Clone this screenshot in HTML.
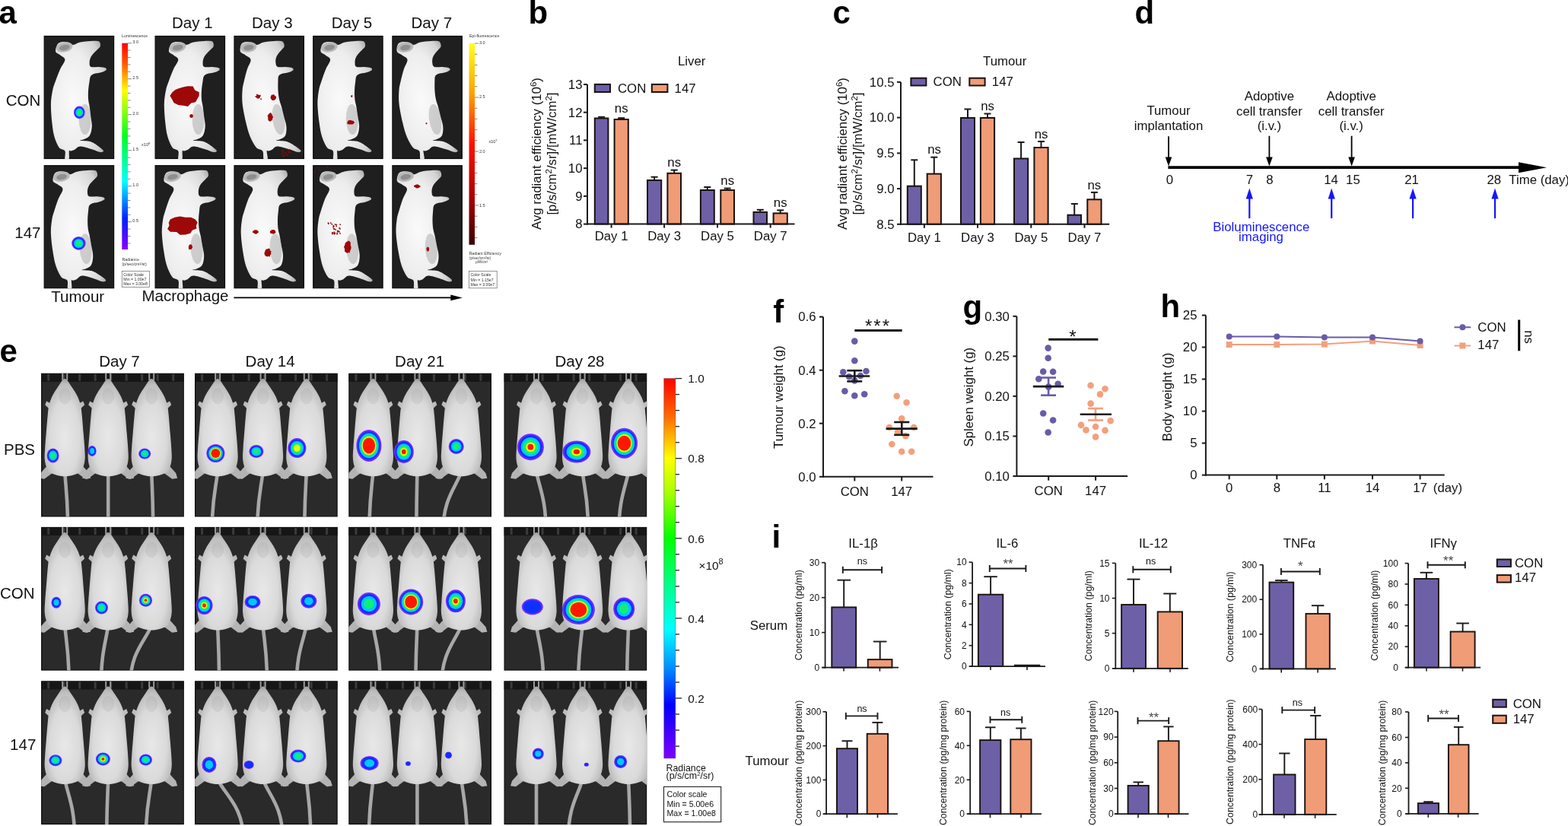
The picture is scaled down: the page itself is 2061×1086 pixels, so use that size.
<!DOCTYPE html>
<html><head><meta charset="utf-8"><title>Figure</title>
<style>html,body{margin:0;padding:0;background:#fff;} svg{display:block;} text{font-family:'Liberation Sans', Arial, Helvetica, sans-serif;}</style>
</head><body>
<svg width="2061" height="1086" viewBox="0 0 2061 1086">
<defs>
<radialGradient id="mg" cx="0.4" cy="0.5" r="0.68">
  <stop offset="0" stop-color="#fafafa"/><stop offset="0.6" stop-color="#ededed"/>
  <stop offset="0.88" stop-color="#d4d4d4"/><stop offset="1" stop-color="#b0b0b0"/>
</radialGradient>
<radialGradient id="lg" cx="0.5" cy="0.6" r="0.62">
  <stop offset="0" stop-color="#e8e8e8"/><stop offset="0.6" stop-color="#dadada"/>
  <stop offset="0.88" stop-color="#bdbdbd"/><stop offset="1" stop-color="#959595"/>
</radialGradient>
<linearGradient id="cbL" x1="0" y1="0" x2="0" y2="1">
  <stop offset="0" stop-color="#ff0000"/><stop offset="0.1" stop-color="#ff5a00"/><stop offset="0.23" stop-color="#ffff00"/>
  <stop offset="0.45" stop-color="#00ff20"/><stop offset="0.67" stop-color="#00ffff"/><stop offset="0.85" stop-color="#0020ff"/>
  <stop offset="1" stop-color="#8a00ff"/>
</linearGradient>
<linearGradient id="cbR" x1="0" y1="0" x2="0" y2="1">
  <stop offset="0" stop-color="#ffff20"/><stop offset="0.25" stop-color="#ffa000"/><stop offset="0.5" stop-color="#ff1000"/>
  <stop offset="0.75" stop-color="#b00000"/><stop offset="1" stop-color="#3a0000"/>
</linearGradient>
<linearGradient id="cbE" x1="0" y1="0" x2="0" y2="1">
  <stop offset="0" stop-color="#ff0000"/><stop offset="0.1" stop-color="#ff6a00"/><stop offset="0.21" stop-color="#ffff00"/>
  <stop offset="0.3" stop-color="#a8ff00"/><stop offset="0.42" stop-color="#00ff00"/><stop offset="0.55" stop-color="#00ff90"/>
  <stop offset="0.66" stop-color="#00ffff"/><stop offset="0.76" stop-color="#0090ff"/><stop offset="0.86" stop-color="#0000ff"/>
  <stop offset="1" stop-color="#8000ff"/>
</linearGradient>
</defs>
<rect width="2061" height="1086" fill="#fff"/><g fill="#111">
<text x="694.5" y="30.6" font-size="42" font-weight="bold" fill="#000">b</text>
<line x1="790.6" y1="155.5" x2="790.6" y2="153.8" stroke="#1a1a1a" stroke-width="2"/>
<line x1="786.1" y1="153.8" x2="795.1" y2="153.8" stroke="#1a1a1a" stroke-width="2"/>
<rect x="781.8" y="155.5" width="17.6" height="139.1" fill="#6D60A7" stroke="#1a1210" stroke-width="2"/>
<line x1="816.7" y1="157.0" x2="816.7" y2="155.2" stroke="#1a1a1a" stroke-width="2"/>
<line x1="812.2" y1="155.2" x2="821.2" y2="155.2" stroke="#1a1a1a" stroke-width="2"/>
<rect x="807.6" y="157.0" width="18.2" height="137.6" fill="#F09C76" stroke="#1a1210" stroke-width="2"/>
<line x1="860.1" y1="237.0" x2="860.1" y2="232.7" stroke="#1a1a1a" stroke-width="2"/>
<line x1="855.6" y1="232.7" x2="864.6" y2="232.7" stroke="#1a1a1a" stroke-width="2"/>
<rect x="851.0" y="237.0" width="18.2" height="57.6" fill="#6D60A7" stroke="#1a1210" stroke-width="2"/>
<line x1="886.2" y1="227.8" x2="886.2" y2="223.6" stroke="#1a1a1a" stroke-width="2"/>
<line x1="881.7" y1="223.6" x2="890.7" y2="223.6" stroke="#1a1a1a" stroke-width="2"/>
<rect x="877.4" y="227.8" width="17.6" height="66.8" fill="#F09C76" stroke="#1a1210" stroke-width="2"/>
<line x1="929.8" y1="250.0" x2="929.8" y2="246.0" stroke="#1a1a1a" stroke-width="2"/>
<line x1="925.3" y1="246.0" x2="934.3" y2="246.0" stroke="#1a1a1a" stroke-width="2"/>
<rect x="920.9" y="250.0" width="17.9" height="44.6" fill="#6D60A7" stroke="#1a1210" stroke-width="2"/>
<line x1="956.1" y1="250.0" x2="956.1" y2="247.6" stroke="#1a1a1a" stroke-width="2"/>
<line x1="951.6" y1="247.6" x2="960.6" y2="247.6" stroke="#1a1a1a" stroke-width="2"/>
<rect x="947.3" y="250.0" width="17.7" height="44.6" fill="#F09C76" stroke="#1a1210" stroke-width="2"/>
<line x1="999.2" y1="278.9" x2="999.2" y2="275.8" stroke="#1a1a1a" stroke-width="2"/>
<line x1="994.8" y1="275.8" x2="1003.8" y2="275.8" stroke="#1a1a1a" stroke-width="2"/>
<rect x="990.5" y="278.9" width="17.5" height="15.7" fill="#6D60A7" stroke="#1a1210" stroke-width="2"/>
<line x1="1025.7" y1="280.4" x2="1025.7" y2="276.4" stroke="#1a1a1a" stroke-width="2"/>
<line x1="1021.2" y1="276.4" x2="1030.2" y2="276.4" stroke="#1a1a1a" stroke-width="2"/>
<rect x="1016.6" y="280.4" width="18.2" height="14.2" fill="#F09C76" stroke="#1a1210" stroke-width="2"/>
<line x1="772.0" y1="111.0" x2="772.0" y2="295.6" stroke="#1a1a1a" stroke-width="2"/>
<line x1="771.0" y1="294.6" x2="1044.5" y2="294.6" stroke="#1a1a1a" stroke-width="2"/>
<line x1="767.0" y1="294.6" x2="772.0" y2="294.6" stroke="#1a1a1a" stroke-width="2"/>
<text x="765.5" y="300.4" font-size="16.8" text-anchor="end">8</text>
<line x1="767.0" y1="257.9" x2="772.0" y2="257.9" stroke="#1a1a1a" stroke-width="2"/>
<text x="765.5" y="263.7" font-size="16.8" text-anchor="end">9</text>
<line x1="767.0" y1="221.2" x2="772.0" y2="221.2" stroke="#1a1a1a" stroke-width="2"/>
<text x="765.5" y="227.0" font-size="16.8" text-anchor="end">10</text>
<line x1="767.0" y1="184.4" x2="772.0" y2="184.4" stroke="#1a1a1a" stroke-width="2"/>
<text x="765.5" y="190.2" font-size="16.8" text-anchor="end">11</text>
<line x1="767.0" y1="147.7" x2="772.0" y2="147.7" stroke="#1a1a1a" stroke-width="2"/>
<text x="765.5" y="153.5" font-size="16.8" text-anchor="end">12</text>
<line x1="767.0" y1="111.0" x2="772.0" y2="111.0" stroke="#1a1a1a" stroke-width="2"/>
<text x="765.5" y="116.8" font-size="16.8" text-anchor="end">13</text>
<line x1="803.6" y1="294.6" x2="803.6" y2="299.6" stroke="#1a1a1a" stroke-width="2"/>
<text x="803.6" y="316.0" font-size="16.8" text-anchor="middle">Day 1</text>
<line x1="873.1" y1="294.6" x2="873.1" y2="299.6" stroke="#1a1a1a" stroke-width="2"/>
<text x="873.1" y="316.0" font-size="16.8" text-anchor="middle">Day 3</text>
<line x1="943.0" y1="294.6" x2="943.0" y2="299.6" stroke="#1a1a1a" stroke-width="2"/>
<text x="943.0" y="316.0" font-size="16.8" text-anchor="middle">Day 5</text>
<line x1="1012.7" y1="294.6" x2="1012.7" y2="299.6" stroke="#1a1a1a" stroke-width="2"/>
<text x="1012.7" y="316.0" font-size="16.8" text-anchor="middle">Day 7</text>
<text x="816.7" y="148.0" font-size="16.8" text-anchor="middle">ns</text>
<text x="886.2" y="218.7" font-size="16.8" text-anchor="middle">ns</text>
<text x="956.2" y="243.0" font-size="16.8" text-anchor="middle">ns</text>
<text x="1025.7" y="271.9" font-size="16.8" text-anchor="middle">ns</text>
<text x="909.2" y="86.0" font-size="16.8" text-anchor="middle">Liver</text>
<rect x="781.8" y="110.9" width="20.2" height="10.1" fill="#6D60A7" stroke="#1a1210" stroke-width="2"/>
<text x="812.0" y="121.5" font-size="16.8">CON</text>
<rect x="856.8" y="110.9" width="20.6" height="10.1" fill="#F09C76" stroke="#1a1210" stroke-width="2"/>
<text x="886.6" y="121.5" font-size="16.8">147</text>
<text x="711.2" y="202.0" font-size="16.8" text-anchor="middle" transform="rotate(-90 711.2 202.0)">Avg radiant efficiency (10<tspan dy="-6" font-size="11.5">6</tspan><tspan dy="6">)</tspan></text>
<text x="731.2" y="202.0" font-size="16.8" text-anchor="middle" transform="rotate(-90 731.2 202.0)">[p/s/cm<tspan dy="-6" font-size="11.5">2</tspan><tspan dy="6">/sr]/[mW/cm</tspan><tspan dy="-6" font-size="11.5">2</tspan><tspan dy="6">]</tspan></text>
<text x="1094.5" y="30.6" font-size="42" font-weight="bold" fill="#000">c</text>
<line x1="1201.8" y1="244.7" x2="1201.8" y2="210.3" stroke="#1a1a1a" stroke-width="2"/>
<line x1="1197.3" y1="210.3" x2="1206.3" y2="210.3" stroke="#1a1a1a" stroke-width="2"/>
<rect x="1192.8" y="244.7" width="18.0" height="50.1" fill="#6D60A7" stroke="#1a1210" stroke-width="2"/>
<line x1="1227.8" y1="228.6" x2="1227.8" y2="206.7" stroke="#1a1a1a" stroke-width="2"/>
<line x1="1223.3" y1="206.7" x2="1232.3" y2="206.7" stroke="#1a1a1a" stroke-width="2"/>
<rect x="1218.7" y="228.6" width="18.2" height="66.2" fill="#F09C76" stroke="#1a1210" stroke-width="2"/>
<line x1="1272.0" y1="155.0" x2="1272.0" y2="143.5" stroke="#1a1a1a" stroke-width="2"/>
<line x1="1267.5" y1="143.5" x2="1276.5" y2="143.5" stroke="#1a1a1a" stroke-width="2"/>
<rect x="1263.0" y="155.0" width="18.0" height="139.8" fill="#6D60A7" stroke="#1a1210" stroke-width="2"/>
<line x1="1298.0" y1="155.0" x2="1298.0" y2="149.5" stroke="#1a1a1a" stroke-width="2"/>
<line x1="1293.5" y1="149.5" x2="1302.5" y2="149.5" stroke="#1a1a1a" stroke-width="2"/>
<rect x="1288.9" y="155.0" width="18.2" height="139.8" fill="#F09C76" stroke="#1a1210" stroke-width="2"/>
<line x1="1342.1" y1="208.5" x2="1342.1" y2="187.0" stroke="#1a1a1a" stroke-width="2"/>
<line x1="1337.6" y1="187.0" x2="1346.6" y2="187.0" stroke="#1a1a1a" stroke-width="2"/>
<rect x="1333.0" y="208.5" width="18.2" height="86.3" fill="#6D60A7" stroke="#1a1210" stroke-width="2"/>
<line x1="1368.5" y1="194.0" x2="1368.5" y2="186.0" stroke="#1a1a1a" stroke-width="2"/>
<line x1="1364.0" y1="186.0" x2="1373.0" y2="186.0" stroke="#1a1a1a" stroke-width="2"/>
<rect x="1359.4" y="194.0" width="18.2" height="100.8" fill="#F09C76" stroke="#1a1210" stroke-width="2"/>
<line x1="1412.2" y1="282.7" x2="1412.2" y2="268.0" stroke="#1a1a1a" stroke-width="2"/>
<line x1="1407.8" y1="268.0" x2="1416.8" y2="268.0" stroke="#1a1a1a" stroke-width="2"/>
<rect x="1403.5" y="282.7" width="17.5" height="12.1" fill="#6D60A7" stroke="#1a1210" stroke-width="2"/>
<line x1="1438.4" y1="262.3" x2="1438.4" y2="252.9" stroke="#1a1a1a" stroke-width="2"/>
<line x1="1433.9" y1="252.9" x2="1442.9" y2="252.9" stroke="#1a1a1a" stroke-width="2"/>
<rect x="1429.3" y="262.3" width="18.2" height="32.5" fill="#F09C76" stroke="#1a1210" stroke-width="2"/>
<line x1="1184.0" y1="107.9" x2="1184.0" y2="295.8" stroke="#1a1a1a" stroke-width="2"/>
<line x1="1183.0" y1="294.8" x2="1458.2" y2="294.8" stroke="#1a1a1a" stroke-width="2"/>
<line x1="1179.0" y1="294.8" x2="1184.0" y2="294.8" stroke="#1a1a1a" stroke-width="2"/>
<text x="1175.5" y="300.6" font-size="16.8" text-anchor="end">8.5</text>
<line x1="1179.0" y1="248.1" x2="1184.0" y2="248.1" stroke="#1a1a1a" stroke-width="2"/>
<text x="1175.5" y="253.9" font-size="16.8" text-anchor="end">9.0</text>
<line x1="1179.0" y1="201.4" x2="1184.0" y2="201.4" stroke="#1a1a1a" stroke-width="2"/>
<text x="1175.5" y="207.2" font-size="16.8" text-anchor="end">9.5</text>
<line x1="1179.0" y1="154.6" x2="1184.0" y2="154.6" stroke="#1a1a1a" stroke-width="2"/>
<text x="1175.5" y="160.4" font-size="16.8" text-anchor="end">10.0</text>
<line x1="1179.0" y1="107.9" x2="1184.0" y2="107.9" stroke="#1a1a1a" stroke-width="2"/>
<text x="1175.5" y="113.7" font-size="16.8" text-anchor="end">10.5</text>
<line x1="1214.9" y1="294.8" x2="1214.9" y2="299.8" stroke="#1a1a1a" stroke-width="2"/>
<text x="1214.9" y="317.6" font-size="16.8" text-anchor="middle">Day 1</text>
<line x1="1285.0" y1="294.8" x2="1285.0" y2="299.8" stroke="#1a1a1a" stroke-width="2"/>
<text x="1285.0" y="317.6" font-size="16.8" text-anchor="middle">Day 3</text>
<line x1="1355.3" y1="294.8" x2="1355.3" y2="299.8" stroke="#1a1a1a" stroke-width="2"/>
<text x="1355.3" y="317.6" font-size="16.8" text-anchor="middle">Day 5</text>
<line x1="1425.5" y1="294.8" x2="1425.5" y2="299.8" stroke="#1a1a1a" stroke-width="2"/>
<text x="1425.5" y="317.6" font-size="16.8" text-anchor="middle">Day 7</text>
<text x="1228.0" y="202.0" font-size="16.8" text-anchor="middle">ns</text>
<text x="1298.0" y="145.3" font-size="16.8" text-anchor="middle">ns</text>
<text x="1368.5" y="182.4" font-size="16.8" text-anchor="middle">ns</text>
<text x="1438.4" y="248.6" font-size="16.8" text-anchor="middle">ns</text>
<text x="1320.7" y="86.0" font-size="16.8" text-anchor="middle">Tumour</text>
<rect x="1197.4" y="102.7" width="20.0" height="9.8" fill="#6D60A7" stroke="#1a1210" stroke-width="2"/>
<text x="1226.6" y="113.0" font-size="16.8">CON</text>
<rect x="1274.3" y="102.7" width="20.3" height="9.8" fill="#F09C76" stroke="#1a1210" stroke-width="2"/>
<text x="1303.8" y="113.0" font-size="16.8">147</text>
<text x="1112.5" y="202.0" font-size="16.8" text-anchor="middle" transform="rotate(-90 1112.5 202.0)">Avg radiant efficiency (10<tspan dy="-6" font-size="11.5">6</tspan><tspan dy="6">)</tspan></text>
<text x="1132.5" y="202.0" font-size="16.8" text-anchor="middle" transform="rotate(-90 1132.5 202.0)">[p/s/cm<tspan dy="-6" font-size="11.5">2</tspan><tspan dy="6">/sr]/[mW/cm</tspan><tspan dy="-6" font-size="11.5">2</tspan><tspan dy="6">]</tspan></text>
<text x="1491.5" y="30.6" font-size="42" font-weight="bold" fill="#000">d</text>
<line x1="1535.4" y1="220.2" x2="1998.0" y2="220.2" stroke="#000" stroke-width="3.8"/>
<polygon points="1996,213.2 2033,220.2 1996,227.2" fill="#000"/>
<line x1="1536.0" y1="179.3" x2="1536.0" y2="208.5" stroke="#000" stroke-width="1.8"/>
<polygon points="1531.7,206.5 1540.3,206.5 1536.0,218.5" fill="#000"/>
<line x1="1668.4" y1="178.7" x2="1668.4" y2="208.5" stroke="#000" stroke-width="1.8"/>
<polygon points="1664.1,206.5 1672.7,206.5 1668.4,218.5" fill="#000"/>
<line x1="1776.6" y1="178.7" x2="1776.6" y2="208.5" stroke="#000" stroke-width="1.8"/>
<polygon points="1772.3,206.5 1780.9,206.5 1776.6,218.5" fill="#000"/>
<line x1="1642.3" y1="259.6" x2="1642.3" y2="287.1" stroke="#1515ff" stroke-width="2.2"/>
<polygon points="1637.7,261.6 1646.9,261.6 1642.3,247.6" fill="#1515ff"/>
<line x1="1750.2" y1="259.6" x2="1750.2" y2="287.1" stroke="#1515ff" stroke-width="2.2"/>
<polygon points="1745.6,261.6 1754.8,261.6 1750.2,247.6" fill="#1515ff"/>
<line x1="1857.1" y1="259.6" x2="1857.1" y2="287.1" stroke="#1515ff" stroke-width="2.2"/>
<polygon points="1852.5,261.6 1861.7,261.6 1857.1,247.6" fill="#1515ff"/>
<line x1="1965.0" y1="259.6" x2="1965.0" y2="287.1" stroke="#1515ff" stroke-width="2.2"/>
<polygon points="1960.4,261.6 1969.6,261.6 1965.0,247.6" fill="#1515ff"/>
<text x="1536.0" y="151.0" font-size="16.8" text-anchor="middle">Tumour</text>
<text x="1536.0" y="170.8" font-size="16.8" text-anchor="middle">implantation</text>
<text x="1668.4" y="132.2" font-size="16.8" text-anchor="middle">Adoptive</text>
<text x="1668.4" y="152.0" font-size="16.8" text-anchor="middle">cell transfer</text>
<text x="1668.4" y="171.4" font-size="16.8" text-anchor="middle">(i.v.)</text>
<text x="1776.2" y="132.2" font-size="16.8" text-anchor="middle">Adoptive</text>
<text x="1776.2" y="152.0" font-size="16.8" text-anchor="middle">cell transfer</text>
<text x="1776.2" y="171.4" font-size="16.8" text-anchor="middle">(i.v.)</text>
<text x="1537.5" y="241.6" font-size="16.8" text-anchor="middle">0</text>
<text x="1642.3" y="241.6" font-size="16.8" text-anchor="middle">7</text>
<text x="1669.0" y="241.6" font-size="16.8" text-anchor="middle">8</text>
<text x="1749.6" y="241.6" font-size="16.8" text-anchor="middle">14</text>
<text x="1778.4" y="241.6" font-size="16.8" text-anchor="middle">15</text>
<text x="1855.6" y="241.6" font-size="16.8" text-anchor="middle">21</text>
<text x="1963.8" y="241.6" font-size="16.8" text-anchor="middle">28</text>
<text x="1983.3" y="241.6" font-size="16.8">Time (day)</text>
<text x="1657.8" y="303.9" font-size="16.8" text-anchor="middle" fill="#1515ff">Bioluminescence</text>
<text x="1657.5" y="317.0" font-size="16.8" text-anchor="middle" fill="#1515ff">imaging</text>
<text x="1016.2" y="423.7" font-size="42" font-weight="bold" fill="#000">f</text>
<circle cx="1123.3" cy="448.6" r="4.3" fill="#6A5BA8"/>
<circle cx="1123.3" cy="474.3" r="4.3" fill="#6A5BA8"/>
<circle cx="1108.3" cy="489.3" r="4.3" fill="#6A5BA8"/>
<circle cx="1138.5" cy="488.0" r="4.3" fill="#6A5BA8"/>
<circle cx="1116.1" cy="495.2" r="4.3" fill="#6A5BA8"/>
<circle cx="1131.0" cy="494.0" r="4.3" fill="#6A5BA8"/>
<circle cx="1123.3" cy="500.4" r="4.3" fill="#6A5BA8"/>
<circle cx="1110.4" cy="514.3" r="4.3" fill="#6A5BA8"/>
<circle cx="1123.3" cy="520.3" r="4.3" fill="#6A5BA8"/>
<circle cx="1136.2" cy="518.2" r="4.3" fill="#6A5BA8"/>
<circle cx="1178.7" cy="520.8" r="4.3" fill="#F3A07C"/>
<circle cx="1191.6" cy="529.3" r="4.3" fill="#F3A07C"/>
<circle cx="1185.2" cy="550.2" r="4.3" fill="#F3A07C"/>
<circle cx="1168.9" cy="562.0" r="4.3" fill="#F3A07C"/>
<circle cx="1201.2" cy="562.0" r="4.3" fill="#F3A07C"/>
<circle cx="1180.0" cy="568.0" r="4.3" fill="#F3A07C"/>
<circle cx="1190.4" cy="573.1" r="4.3" fill="#F3A07C"/>
<circle cx="1172.3" cy="584.0" r="4.3" fill="#F3A07C"/>
<circle cx="1185.2" cy="593.8" r="4.3" fill="#F3A07C"/>
<circle cx="1198.1" cy="593.8" r="4.3" fill="#F3A07C"/>
<line x1="1123.3" y1="487.2" x2="1123.3" y2="501.4" stroke="#1a1a1a" stroke-width="2.6"/>
<line x1="1113.3" y1="487.2" x2="1133.2" y2="487.2" stroke="#1a1a1a" stroke-width="2.6"/>
<line x1="1113.3" y1="501.4" x2="1133.2" y2="501.4" stroke="#1a1a1a" stroke-width="2.6"/>
<line x1="1102.7" y1="494.5" x2="1143.2" y2="494.5" stroke="#1a1a1a" stroke-width="2.6"/>
<line x1="1185.3" y1="555.0" x2="1185.3" y2="571.8" stroke="#1a1a1a" stroke-width="2.6"/>
<line x1="1175.2" y1="555.0" x2="1195.3" y2="555.0" stroke="#1a1a1a" stroke-width="2.6"/>
<line x1="1175.2" y1="571.8" x2="1195.3" y2="571.8" stroke="#1a1a1a" stroke-width="2.6"/>
<line x1="1164.6" y1="563.6" x2="1205.8" y2="563.6" stroke="#1a1a1a" stroke-width="2.6"/>
<line x1="1082.0" y1="416.6" x2="1082.0" y2="627.8" stroke="#1a1a1a" stroke-width="2"/>
<line x1="1081.0" y1="626.8" x2="1226.5" y2="626.8" stroke="#1a1a1a" stroke-width="2"/>
<line x1="1077.0" y1="626.8" x2="1082.0" y2="626.8" stroke="#1a1a1a" stroke-width="2"/>
<text x="1072.7" y="632.6" font-size="16.8" text-anchor="end">0.0</text>
<line x1="1077.0" y1="556.7" x2="1082.0" y2="556.7" stroke="#1a1a1a" stroke-width="2"/>
<text x="1072.7" y="562.5" font-size="16.8" text-anchor="end">0.2</text>
<line x1="1077.0" y1="486.7" x2="1082.0" y2="486.7" stroke="#1a1a1a" stroke-width="2"/>
<text x="1072.7" y="492.5" font-size="16.8" text-anchor="end">0.4</text>
<line x1="1077.0" y1="416.6" x2="1082.0" y2="416.6" stroke="#1a1a1a" stroke-width="2"/>
<text x="1072.7" y="422.4" font-size="16.8" text-anchor="end">0.6</text>
<line x1="1123.3" y1="626.8" x2="1123.3" y2="632.5" stroke="#1a1a1a" stroke-width="2"/>
<text x="1123.3" y="651.8" font-size="16.8" text-anchor="middle">CON</text>
<line x1="1185.2" y1="626.8" x2="1185.2" y2="632.5" stroke="#1a1a1a" stroke-width="2"/>
<text x="1185.2" y="651.8" font-size="16.8" text-anchor="middle">147</text>
<line x1="1123.3" y1="434.4" x2="1185.7" y2="434.4" stroke="#1a1a1a" stroke-width="3"/>
<text x="1154.0" y="437.0" font-size="24" text-anchor="middle" letter-spacing="2">***</text>
<text x="1029.5" y="522.2" font-size="16.8" text-anchor="middle" transform="rotate(-90 1029.5 522.2)">Tumour weight (g)</text>
<text x="1265.5" y="418.4" font-size="42" font-weight="bold" fill="#000">g</text>
<circle cx="1377.7" cy="457.6" r="4.3" fill="#6A5BA8"/>
<circle cx="1377.7" cy="470.7" r="4.3" fill="#6A5BA8"/>
<circle cx="1371.2" cy="488.5" r="4.3" fill="#6A5BA8"/>
<circle cx="1384.1" cy="488.8" r="4.3" fill="#6A5BA8"/>
<circle cx="1365.3" cy="498.3" r="4.3" fill="#6A5BA8"/>
<circle cx="1390.6" cy="504.8" r="4.3" fill="#6A5BA8"/>
<circle cx="1378.2" cy="508.6" r="4.3" fill="#6A5BA8"/>
<circle cx="1371.2" cy="543.5" r="4.3" fill="#6A5BA8"/>
<circle cx="1384.1" cy="552.5" r="4.3" fill="#6A5BA8"/>
<circle cx="1377.7" cy="568.5" r="4.3" fill="#6A5BA8"/>
<circle cx="1433.6" cy="506.8" r="4.3" fill="#F3A07C"/>
<circle cx="1452.5" cy="511.2" r="4.3" fill="#F3A07C"/>
<circle cx="1446.0" cy="518.4" r="4.3" fill="#F3A07C"/>
<circle cx="1433.6" cy="530.6" r="4.3" fill="#F3A07C"/>
<circle cx="1421.0" cy="558.9" r="4.3" fill="#F3A07C"/>
<circle cx="1459.7" cy="553.3" r="4.3" fill="#F3A07C"/>
<circle cx="1440.1" cy="561.0" r="4.3" fill="#F3A07C"/>
<circle cx="1427.5" cy="565.4" r="4.3" fill="#F3A07C"/>
<circle cx="1452.5" cy="565.9" r="4.3" fill="#F3A07C"/>
<circle cx="1440.1" cy="574.4" r="4.3" fill="#F3A07C"/>
<line x1="1378.1" y1="496.5" x2="1378.1" y2="519.7" stroke="#6A5BA8" stroke-width="2.6"/>
<line x1="1368.1" y1="496.5" x2="1388.0" y2="496.5" stroke="#6A5BA8" stroke-width="2.6"/>
<line x1="1368.1" y1="519.7" x2="1388.0" y2="519.7" stroke="#6A5BA8" stroke-width="2.6"/>
<line x1="1357.8" y1="508.1" x2="1398.3" y2="508.1" stroke="#1a1a1a" stroke-width="2.6"/>
<line x1="1440.0" y1="537.0" x2="1440.0" y2="552.5" stroke="#F3A07C" stroke-width="2.6"/>
<line x1="1430.0" y1="537.0" x2="1450.0" y2="537.0" stroke="#F3A07C" stroke-width="2.6"/>
<line x1="1430.0" y1="552.5" x2="1450.0" y2="552.5" stroke="#F3A07C" stroke-width="2.6"/>
<line x1="1419.7" y1="544.8" x2="1461.0" y2="544.8" stroke="#1a1a1a" stroke-width="2.6"/>
<line x1="1336.4" y1="415.8" x2="1336.4" y2="627.0" stroke="#1a1a1a" stroke-width="2"/>
<line x1="1335.4" y1="626.0" x2="1482.1" y2="626.0" stroke="#1a1a1a" stroke-width="2"/>
<line x1="1331.4" y1="626.0" x2="1336.4" y2="626.0" stroke="#1a1a1a" stroke-width="2"/>
<text x="1326.9" y="631.8" font-size="16.8" text-anchor="end">0.10</text>
<line x1="1331.4" y1="573.5" x2="1336.4" y2="573.5" stroke="#1a1a1a" stroke-width="2"/>
<text x="1326.9" y="579.2" font-size="16.8" text-anchor="end">0.15</text>
<line x1="1331.4" y1="520.9" x2="1336.4" y2="520.9" stroke="#1a1a1a" stroke-width="2"/>
<text x="1326.9" y="526.7" font-size="16.8" text-anchor="end">0.20</text>
<line x1="1331.4" y1="468.4" x2="1336.4" y2="468.4" stroke="#1a1a1a" stroke-width="2"/>
<text x="1326.9" y="474.2" font-size="16.8" text-anchor="end">0.25</text>
<line x1="1331.4" y1="415.8" x2="1336.4" y2="415.8" stroke="#1a1a1a" stroke-width="2"/>
<text x="1326.9" y="421.6" font-size="16.8" text-anchor="end">0.30</text>
<line x1="1378.2" y1="626.0" x2="1378.2" y2="631.7" stroke="#1a1a1a" stroke-width="2"/>
<text x="1378.2" y="651.0" font-size="16.8" text-anchor="middle">CON</text>
<line x1="1440.1" y1="626.0" x2="1440.1" y2="631.7" stroke="#1a1a1a" stroke-width="2"/>
<text x="1440.1" y="651.0" font-size="16.8" text-anchor="middle">147</text>
<line x1="1378.2" y1="446.2" x2="1443.4" y2="446.2" stroke="#1a1a1a" stroke-width="3"/>
<text x="1410.0" y="450.5" font-size="24" text-anchor="middle">*</text>
<text x="1279.5" y="522.2" font-size="16.8" text-anchor="middle" transform="rotate(-90 1279.5 522.2)">Spleen weight (g)</text>
<text x="1525.5" y="417.2" font-size="42" font-weight="bold" fill="#000">h</text>
<line x1="1584.9" y1="414.5" x2="1584.9" y2="625.6" stroke="#1a1a1a" stroke-width="2"/>
<line x1="1583.9" y1="624.6" x2="1898.7" y2="624.6" stroke="#1a1a1a" stroke-width="2"/>
<line x1="1579.9" y1="624.6" x2="1584.9" y2="624.6" stroke="#1a1a1a" stroke-width="2"/>
<text x="1573.5" y="630.4" font-size="16.8" text-anchor="end">0</text>
<line x1="1579.9" y1="582.6" x2="1584.9" y2="582.6" stroke="#1a1a1a" stroke-width="2"/>
<text x="1573.5" y="588.4" font-size="16.8" text-anchor="end">5</text>
<line x1="1579.9" y1="540.6" x2="1584.9" y2="540.6" stroke="#1a1a1a" stroke-width="2"/>
<text x="1573.5" y="546.4" font-size="16.8" text-anchor="end">10</text>
<line x1="1579.9" y1="498.5" x2="1584.9" y2="498.5" stroke="#1a1a1a" stroke-width="2"/>
<text x="1573.5" y="504.3" font-size="16.8" text-anchor="end">15</text>
<line x1="1579.9" y1="456.5" x2="1584.9" y2="456.5" stroke="#1a1a1a" stroke-width="2"/>
<text x="1573.5" y="462.3" font-size="16.8" text-anchor="end">20</text>
<line x1="1579.9" y1="414.5" x2="1584.9" y2="414.5" stroke="#1a1a1a" stroke-width="2"/>
<text x="1573.5" y="420.3" font-size="16.8" text-anchor="end">25</text>
<line x1="1615.7" y1="624.6" x2="1615.7" y2="630.3" stroke="#1a1a1a" stroke-width="2"/>
<text x="1615.7" y="647.2" font-size="16.8" text-anchor="middle">0</text>
<line x1="1678.3" y1="624.6" x2="1678.3" y2="630.3" stroke="#1a1a1a" stroke-width="2"/>
<text x="1678.3" y="647.2" font-size="16.8" text-anchor="middle">8</text>
<line x1="1740.9" y1="624.6" x2="1740.9" y2="630.3" stroke="#1a1a1a" stroke-width="2"/>
<text x="1740.9" y="647.2" font-size="16.8" text-anchor="middle">11</text>
<line x1="1804.0" y1="624.6" x2="1804.0" y2="630.3" stroke="#1a1a1a" stroke-width="2"/>
<text x="1804.0" y="647.2" font-size="16.8" text-anchor="middle">14</text>
<line x1="1866.6" y1="624.6" x2="1866.6" y2="630.3" stroke="#1a1a1a" stroke-width="2"/>
<text x="1866.6" y="647.2" font-size="16.8" text-anchor="middle">17</text>
<text x="1883.8" y="647.2" font-size="16.8">(day)</text>
<polyline points="1615.7,453.1 1678.3,453.1 1740.9,452.6 1804,448.5 1866.6,454" fill="none" stroke="#F3A07C" stroke-width="2"/>
<polyline points="1615.7,442.5 1678.3,442.5 1740.9,443.6 1804,443.6 1866.6,448.5" fill="none" stroke="#6A5BA8" stroke-width="2"/>
<rect x="1611.7" y="449.1" width="8.0" height="8.0" fill="#F3A07C"/>
<rect x="1674.3" y="449.1" width="8.0" height="8.0" fill="#F3A07C"/>
<rect x="1736.9" y="448.6" width="8.0" height="8.0" fill="#F3A07C"/>
<rect x="1800.0" y="444.5" width="8.0" height="8.0" fill="#F3A07C"/>
<rect x="1862.6" y="450.0" width="8.0" height="8.0" fill="#F3A07C"/>
<circle cx="1615.7" cy="442.5" r="4" fill="#6A5BA8"/>
<circle cx="1678.3" cy="442.5" r="4" fill="#6A5BA8"/>
<circle cx="1740.9" cy="443.6" r="4" fill="#6A5BA8"/>
<circle cx="1804.0" cy="443.6" r="4" fill="#6A5BA8"/>
<circle cx="1866.6" cy="448.5" r="4" fill="#6A5BA8"/>
<line x1="1911.5" y1="430.3" x2="1933.3" y2="430.3" stroke="#6A5BA8" stroke-width="2"/>
<circle cx="1922.4" cy="430.3" r="4" fill="#6A5BA8"/>
<line x1="1911.5" y1="454.5" x2="1933.3" y2="454.5" stroke="#F3A07C" stroke-width="2"/>
<rect x="1918.4" y="450.5" width="8.0" height="8.0" fill="#F3A07C"/>
<text x="1942.3" y="435.5" font-size="16.8">CON</text>
<text x="1942.3" y="459.4" font-size="16.8">147</text>
<line x1="1996.7" y1="420.5" x2="1996.7" y2="461.3" stroke="#000" stroke-width="3"/>
<text x="2003.5" y="443.0" font-size="16.8" text-anchor="middle" transform="rotate(90 2003.5 443.0)">ns</text>
<text x="1539.5" y="522.0" font-size="16.8" text-anchor="middle" transform="rotate(-90 1539.5 522.0)">Body weight (g)</text>
<text x="1014.5" y="719.8" font-size="42" font-weight="bold" fill="#000">i</text>
<line x1="1109.2" y1="798.4" x2="1109.2" y2="762.7" stroke="#1a1a1a" stroke-width="1.9"/>
<line x1="1100.5" y1="762.7" x2="1118.0" y2="762.7" stroke="#1a1a1a" stroke-width="1.9"/>
<rect x="1093.3" y="798.4" width="31.9" height="79.2" fill="#6D60A7" stroke="#1a1210" stroke-width="1.9"/>
<line x1="1156.7" y1="867.1" x2="1156.7" y2="843.5" stroke="#1a1a1a" stroke-width="1.9"/>
<line x1="1147.9" y1="843.5" x2="1165.4" y2="843.5" stroke="#1a1a1a" stroke-width="1.9"/>
<rect x="1140.8" y="867.1" width="31.7" height="10.5" fill="#F09C76" stroke="#1a1210" stroke-width="1.9"/>
<line x1="1084.6" y1="739.7" x2="1084.6" y2="878.6" stroke="#1a1a1a" stroke-width="1.8"/>
<line x1="1080.6" y1="877.6" x2="1181.0" y2="877.6" stroke="#1a1a1a" stroke-width="1.8"/>
<line x1="1080.1" y1="877.6" x2="1084.6" y2="877.6" stroke="#1a1a1a" stroke-width="1.6"/>
<text x="1077.2" y="881.8" font-size="12" text-anchor="end">0</text>
<line x1="1080.1" y1="831.6" x2="1084.6" y2="831.6" stroke="#1a1a1a" stroke-width="1.6"/>
<text x="1077.2" y="835.8" font-size="12" text-anchor="end">10</text>
<line x1="1080.1" y1="785.7" x2="1084.6" y2="785.7" stroke="#1a1a1a" stroke-width="1.6"/>
<text x="1077.2" y="789.9" font-size="12" text-anchor="end">20</text>
<line x1="1080.1" y1="739.7" x2="1084.6" y2="739.7" stroke="#1a1a1a" stroke-width="1.6"/>
<text x="1077.2" y="743.9" font-size="12" text-anchor="end">30</text>
<line x1="1109.1" y1="877.6" x2="1109.1" y2="882.6" stroke="#1a1a1a" stroke-width="1.6"/>
<line x1="1156.4" y1="877.6" x2="1156.4" y2="882.6" stroke="#1a1a1a" stroke-width="1.6"/>
<line x1="1107.8" y1="749.3" x2="1159.1" y2="749.3" stroke="#1a1a1a" stroke-width="1.9"/>
<line x1="1107.8" y1="744.8" x2="1107.8" y2="753.8" stroke="#1a1a1a" stroke-width="1.9"/>
<line x1="1159.1" y1="744.8" x2="1159.1" y2="753.8" stroke="#1a1a1a" stroke-width="1.9"/>
<text x="1133.4" y="741.5" font-size="12.5" text-anchor="middle">ns</text>
<text x="1054.3" y="808.7" font-size="12.4" text-anchor="middle" transform="rotate(-90 1054.3 808.7)">Concentration (pg/ml)</text>
<line x1="1302.1" y1="781.7" x2="1302.1" y2="758.2" stroke="#1a1a1a" stroke-width="1.9"/>
<line x1="1293.3" y1="758.2" x2="1310.8" y2="758.2" stroke="#1a1a1a" stroke-width="1.9"/>
<rect x="1285.9" y="781.7" width="32.4" height="94.4" fill="#6D60A7" stroke="#1a1210" stroke-width="1.9"/>
<rect x="1333.9" y="874.7" width="32.4" height="1.4" fill="#F09C76" stroke="#1a1210" stroke-width="1.9"/>
<line x1="1278.1" y1="739.2" x2="1278.1" y2="877.1" stroke="#1a1a1a" stroke-width="1.8"/>
<line x1="1274.1" y1="876.1" x2="1374.0" y2="876.1" stroke="#1a1a1a" stroke-width="1.8"/>
<line x1="1273.6" y1="876.1" x2="1278.1" y2="876.1" stroke="#1a1a1a" stroke-width="1.6"/>
<text x="1270.7" y="880.3" font-size="12" text-anchor="end">0</text>
<line x1="1273.6" y1="848.7" x2="1278.1" y2="848.7" stroke="#1a1a1a" stroke-width="1.6"/>
<text x="1270.7" y="852.9" font-size="12" text-anchor="end">2</text>
<line x1="1273.6" y1="821.3" x2="1278.1" y2="821.3" stroke="#1a1a1a" stroke-width="1.6"/>
<text x="1270.7" y="825.5" font-size="12" text-anchor="end">4</text>
<line x1="1273.6" y1="794.0" x2="1278.1" y2="794.0" stroke="#1a1a1a" stroke-width="1.6"/>
<text x="1270.7" y="798.2" font-size="12" text-anchor="end">6</text>
<line x1="1273.6" y1="766.6" x2="1278.1" y2="766.6" stroke="#1a1a1a" stroke-width="1.6"/>
<text x="1270.7" y="770.8" font-size="12" text-anchor="end">8</text>
<line x1="1273.6" y1="739.2" x2="1278.1" y2="739.2" stroke="#1a1a1a" stroke-width="1.6"/>
<text x="1270.7" y="743.4" font-size="12" text-anchor="end">10</text>
<line x1="1302.0" y1="876.1" x2="1302.0" y2="881.1" stroke="#1a1a1a" stroke-width="1.6"/>
<line x1="1350.0" y1="876.1" x2="1350.0" y2="881.1" stroke="#1a1a1a" stroke-width="1.6"/>
<line x1="1300.8" y1="747.5" x2="1348.4" y2="747.5" stroke="#1a1a1a" stroke-width="1.9"/>
<line x1="1300.8" y1="743.0" x2="1300.8" y2="752.0" stroke="#1a1a1a" stroke-width="1.9"/>
<line x1="1348.4" y1="743.0" x2="1348.4" y2="752.0" stroke="#1a1a1a" stroke-width="1.9"/>
<text x="1325.0" y="746.5" font-size="17" text-anchor="middle" fill="#444">**</text>
<text x="1249.6" y="807.7" font-size="12.4" text-anchor="middle" transform="rotate(-90 1249.6 807.7)">Concentration (pg/ml)</text>
<line x1="1490.0" y1="795.0" x2="1490.0" y2="761.6" stroke="#1a1a1a" stroke-width="1.9"/>
<line x1="1481.5" y1="761.6" x2="1498.5" y2="761.6" stroke="#1a1a1a" stroke-width="1.9"/>
<rect x="1474.1" y="795.0" width="31.9" height="83.8" fill="#6D60A7" stroke="#1a1210" stroke-width="1.9"/>
<line x1="1537.8" y1="804.4" x2="1537.8" y2="780.5" stroke="#1a1a1a" stroke-width="1.9"/>
<line x1="1529.3" y1="780.5" x2="1546.3" y2="780.5" stroke="#1a1a1a" stroke-width="1.9"/>
<rect x="1521.7" y="804.4" width="32.3" height="74.4" fill="#F09C76" stroke="#1a1210" stroke-width="1.9"/>
<line x1="1466.3" y1="740.4" x2="1466.3" y2="879.8" stroke="#1a1a1a" stroke-width="1.8"/>
<line x1="1462.3" y1="878.8" x2="1561.8" y2="878.8" stroke="#1a1a1a" stroke-width="1.8"/>
<line x1="1461.8" y1="878.8" x2="1466.3" y2="878.8" stroke="#1a1a1a" stroke-width="1.6"/>
<text x="1458.5" y="883.0" font-size="12" text-anchor="end">0</text>
<line x1="1461.8" y1="832.6" x2="1466.3" y2="832.6" stroke="#1a1a1a" stroke-width="1.6"/>
<text x="1458.5" y="836.8" font-size="12" text-anchor="end">5</text>
<line x1="1461.8" y1="786.5" x2="1466.3" y2="786.5" stroke="#1a1a1a" stroke-width="1.6"/>
<text x="1458.5" y="790.7" font-size="12" text-anchor="end">10</text>
<line x1="1461.8" y1="740.4" x2="1466.3" y2="740.4" stroke="#1a1a1a" stroke-width="1.6"/>
<text x="1458.5" y="744.6" font-size="12" text-anchor="end">15</text>
<line x1="1490.0" y1="878.8" x2="1490.0" y2="883.8" stroke="#1a1a1a" stroke-width="1.6"/>
<line x1="1538.0" y1="878.8" x2="1538.0" y2="883.8" stroke="#1a1a1a" stroke-width="1.6"/>
<line x1="1489.3" y1="748.8" x2="1538.8" y2="748.8" stroke="#1a1a1a" stroke-width="1.9"/>
<line x1="1489.3" y1="744.3" x2="1489.3" y2="753.3" stroke="#1a1a1a" stroke-width="1.9"/>
<line x1="1538.8" y1="744.3" x2="1538.8" y2="753.3" stroke="#1a1a1a" stroke-width="1.9"/>
<text x="1512.7" y="741.5" font-size="12.5" text-anchor="middle">ns</text>
<text x="1435.1" y="809.6" font-size="12.4" text-anchor="middle" transform="rotate(-90 1435.1 809.6)">Concentration (pg/ml)</text>
<line x1="1684.3" y1="765.6" x2="1684.3" y2="763.1" stroke="#1a1a1a" stroke-width="1.9"/>
<line x1="1676.1" y1="763.1" x2="1692.6" y2="763.1" stroke="#1a1a1a" stroke-width="1.9"/>
<rect x="1668.5" y="765.6" width="31.7" height="113.8" fill="#6D60A7" stroke="#1a1210" stroke-width="1.9"/>
<line x1="1732.2" y1="806.9" x2="1732.2" y2="796.2" stroke="#1a1a1a" stroke-width="1.9"/>
<line x1="1723.9" y1="796.2" x2="1740.4" y2="796.2" stroke="#1a1a1a" stroke-width="1.9"/>
<rect x="1716.5" y="806.9" width="31.3" height="72.5" fill="#F09C76" stroke="#1a1210" stroke-width="1.9"/>
<line x1="1660.0" y1="742.6" x2="1660.0" y2="880.4" stroke="#1a1a1a" stroke-width="1.8"/>
<line x1="1656.0" y1="879.4" x2="1756.0" y2="879.4" stroke="#1a1a1a" stroke-width="1.8"/>
<line x1="1655.5" y1="879.4" x2="1660.0" y2="879.4" stroke="#1a1a1a" stroke-width="1.6"/>
<text x="1652.2" y="883.6" font-size="12" text-anchor="end">0</text>
<line x1="1655.5" y1="833.8" x2="1660.0" y2="833.8" stroke="#1a1a1a" stroke-width="1.6"/>
<text x="1652.2" y="838.0" font-size="12" text-anchor="end">100</text>
<line x1="1655.5" y1="788.2" x2="1660.0" y2="788.2" stroke="#1a1a1a" stroke-width="1.6"/>
<text x="1652.2" y="792.4" font-size="12" text-anchor="end">200</text>
<line x1="1655.5" y1="742.6" x2="1660.0" y2="742.6" stroke="#1a1a1a" stroke-width="1.6"/>
<text x="1652.2" y="746.8" font-size="12" text-anchor="end">300</text>
<line x1="1684.2" y1="879.4" x2="1684.2" y2="884.4" stroke="#1a1a1a" stroke-width="1.6"/>
<line x1="1732.1" y1="879.4" x2="1732.1" y2="884.4" stroke="#1a1a1a" stroke-width="1.6"/>
<line x1="1683.9" y1="751.5" x2="1734.8" y2="751.5" stroke="#1a1a1a" stroke-width="1.9"/>
<line x1="1683.9" y1="747.0" x2="1683.9" y2="756.0" stroke="#1a1a1a" stroke-width="1.9"/>
<line x1="1734.8" y1="747.0" x2="1734.8" y2="756.0" stroke="#1a1a1a" stroke-width="1.9"/>
<text x="1709.2" y="749.8" font-size="17" text-anchor="middle" fill="#444">*</text>
<text x="1621.0" y="811.0" font-size="12.4" text-anchor="middle" transform="rotate(-90 1621.0 811.0)">Concentration (pg/ml)</text>
<line x1="1874.9" y1="761.0" x2="1874.9" y2="752.8" stroke="#1a1a1a" stroke-width="1.9"/>
<line x1="1866.6" y1="752.8" x2="1883.2" y2="752.8" stroke="#1a1a1a" stroke-width="1.9"/>
<rect x="1858.9" y="761.0" width="32.0" height="116.6" fill="#6D60A7" stroke="#1a1210" stroke-width="1.9"/>
<line x1="1922.6" y1="830.5" x2="1922.6" y2="819.5" stroke="#1a1a1a" stroke-width="1.9"/>
<line x1="1914.3" y1="819.5" x2="1930.9" y2="819.5" stroke="#1a1a1a" stroke-width="1.9"/>
<rect x="1906.6" y="830.5" width="32.0" height="47.1" fill="#F09C76" stroke="#1a1210" stroke-width="1.9"/>
<line x1="1851.1" y1="740.6" x2="1851.1" y2="878.6" stroke="#1a1a1a" stroke-width="1.8"/>
<line x1="1847.1" y1="877.6" x2="1946.1" y2="877.6" stroke="#1a1a1a" stroke-width="1.8"/>
<line x1="1846.6" y1="877.6" x2="1851.1" y2="877.6" stroke="#1a1a1a" stroke-width="1.6"/>
<text x="1837.9" y="881.8" font-size="12" text-anchor="end">0</text>
<line x1="1846.6" y1="850.2" x2="1851.1" y2="850.2" stroke="#1a1a1a" stroke-width="1.6"/>
<text x="1837.9" y="854.4" font-size="12" text-anchor="end">20</text>
<line x1="1846.6" y1="822.8" x2="1851.1" y2="822.8" stroke="#1a1a1a" stroke-width="1.6"/>
<text x="1837.9" y="827.0" font-size="12" text-anchor="end">40</text>
<line x1="1846.6" y1="795.4" x2="1851.1" y2="795.4" stroke="#1a1a1a" stroke-width="1.6"/>
<text x="1837.9" y="799.6" font-size="12" text-anchor="end">60</text>
<line x1="1846.6" y1="768.0" x2="1851.1" y2="768.0" stroke="#1a1a1a" stroke-width="1.6"/>
<text x="1837.9" y="772.2" font-size="12" text-anchor="end">80</text>
<line x1="1846.6" y1="740.6" x2="1851.1" y2="740.6" stroke="#1a1a1a" stroke-width="1.6"/>
<text x="1837.9" y="744.8" font-size="12" text-anchor="end">100</text>
<line x1="1875.0" y1="877.6" x2="1875.0" y2="882.6" stroke="#1a1a1a" stroke-width="1.6"/>
<line x1="1922.5" y1="877.6" x2="1922.5" y2="882.6" stroke="#1a1a1a" stroke-width="1.6"/>
<line x1="1876.5" y1="742.8" x2="1925.8" y2="742.8" stroke="#1a1a1a" stroke-width="1.9"/>
<line x1="1876.5" y1="738.3" x2="1876.5" y2="747.3" stroke="#1a1a1a" stroke-width="1.9"/>
<line x1="1925.8" y1="738.3" x2="1925.8" y2="747.3" stroke="#1a1a1a" stroke-width="1.9"/>
<text x="1903.7" y="743.4" font-size="17" text-anchor="middle" fill="#444">**</text>
<text x="1811.0" y="809.1" font-size="12.4" text-anchor="middle" transform="rotate(-90 1811.0 809.1)">Concentration (pg/ml)</text>
<line x1="1113.5" y1="984.2" x2="1113.5" y2="974.2" stroke="#1a1a1a" stroke-width="1.9"/>
<line x1="1106.5" y1="974.2" x2="1120.5" y2="974.2" stroke="#1a1a1a" stroke-width="1.9"/>
<rect x="1100.0" y="984.2" width="27.0" height="86.0" fill="#6D60A7" stroke="#1a1210" stroke-width="1.9"/>
<line x1="1153.4" y1="964.8" x2="1153.4" y2="949.9" stroke="#1a1a1a" stroke-width="1.9"/>
<line x1="1146.4" y1="949.9" x2="1160.4" y2="949.9" stroke="#1a1a1a" stroke-width="1.9"/>
<rect x="1139.7" y="964.8" width="27.4" height="105.4" fill="#F09C76" stroke="#1a1210" stroke-width="1.9"/>
<line x1="1086.1" y1="935.8" x2="1086.1" y2="1071.2" stroke="#1a1a1a" stroke-width="1.8"/>
<line x1="1082.1" y1="1070.2" x2="1179.9" y2="1070.2" stroke="#1a1a1a" stroke-width="1.8"/>
<line x1="1081.6" y1="1070.2" x2="1086.1" y2="1070.2" stroke="#1a1a1a" stroke-width="1.6"/>
<text x="1079.4" y="1074.4" font-size="12" text-anchor="end">0</text>
<line x1="1081.6" y1="1025.4" x2="1086.1" y2="1025.4" stroke="#1a1a1a" stroke-width="1.6"/>
<text x="1079.4" y="1029.6" font-size="12" text-anchor="end">100</text>
<line x1="1081.6" y1="980.6" x2="1086.1" y2="980.6" stroke="#1a1a1a" stroke-width="1.6"/>
<text x="1079.4" y="984.8" font-size="12" text-anchor="end">200</text>
<line x1="1081.6" y1="935.8" x2="1086.1" y2="935.8" stroke="#1a1a1a" stroke-width="1.6"/>
<text x="1079.4" y="940.0" font-size="12" text-anchor="end">300</text>
<line x1="1113.3" y1="1070.2" x2="1113.3" y2="1075.2" stroke="#1a1a1a" stroke-width="1.6"/>
<line x1="1153.5" y1="1070.2" x2="1153.5" y2="1075.2" stroke="#1a1a1a" stroke-width="1.6"/>
<line x1="1111.8" y1="941.4" x2="1153.5" y2="941.4" stroke="#1a1a1a" stroke-width="1.9"/>
<line x1="1111.8" y1="936.9" x2="1111.8" y2="945.9" stroke="#1a1a1a" stroke-width="1.9"/>
<line x1="1153.5" y1="936.9" x2="1153.5" y2="945.9" stroke="#1a1a1a" stroke-width="1.9"/>
<text x="1133.0" y="935.8" font-size="12.5" text-anchor="middle">ns</text>
<text x="1054.3" y="1003.0" font-size="12.4" text-anchor="middle" transform="rotate(-90 1054.3 1003.0)">Concentration (pg/mg protein)</text>
<line x1="1301.8" y1="973.1" x2="1301.8" y2="956.3" stroke="#1a1a1a" stroke-width="1.9"/>
<line x1="1295.0" y1="956.3" x2="1308.5" y2="956.3" stroke="#1a1a1a" stroke-width="1.9"/>
<rect x="1288.1" y="973.1" width="27.3" height="97.1" fill="#6D60A7" stroke="#1a1210" stroke-width="1.9"/>
<line x1="1341.9" y1="972.2" x2="1341.9" y2="957.5" stroke="#1a1a1a" stroke-width="1.9"/>
<line x1="1335.2" y1="957.5" x2="1348.6" y2="957.5" stroke="#1a1a1a" stroke-width="1.9"/>
<rect x="1328.3" y="972.2" width="27.2" height="98.0" fill="#F09C76" stroke="#1a1210" stroke-width="1.9"/>
<line x1="1275.2" y1="935.4" x2="1275.2" y2="1071.2" stroke="#1a1a1a" stroke-width="1.8"/>
<line x1="1271.2" y1="1070.2" x2="1368.9" y2="1070.2" stroke="#1a1a1a" stroke-width="1.8"/>
<line x1="1270.7" y1="1070.2" x2="1275.2" y2="1070.2" stroke="#1a1a1a" stroke-width="1.6"/>
<text x="1268.0" y="1074.4" font-size="12" text-anchor="end">0</text>
<line x1="1270.7" y1="1025.3" x2="1275.2" y2="1025.3" stroke="#1a1a1a" stroke-width="1.6"/>
<text x="1268.0" y="1029.5" font-size="12" text-anchor="end">20</text>
<line x1="1270.7" y1="980.3" x2="1275.2" y2="980.3" stroke="#1a1a1a" stroke-width="1.6"/>
<text x="1268.0" y="984.5" font-size="12" text-anchor="end">40</text>
<line x1="1270.7" y1="935.4" x2="1275.2" y2="935.4" stroke="#1a1a1a" stroke-width="1.6"/>
<text x="1268.0" y="939.6" font-size="12" text-anchor="end">60</text>
<line x1="1301.5" y1="1070.2" x2="1301.5" y2="1075.2" stroke="#1a1a1a" stroke-width="1.6"/>
<line x1="1342.1" y1="1070.2" x2="1342.1" y2="1075.2" stroke="#1a1a1a" stroke-width="1.6"/>
<line x1="1301.5" y1="946.3" x2="1343.3" y2="946.3" stroke="#1a1a1a" stroke-width="1.9"/>
<line x1="1301.5" y1="941.8" x2="1301.5" y2="950.8" stroke="#1a1a1a" stroke-width="1.9"/>
<line x1="1343.3" y1="941.8" x2="1343.3" y2="950.8" stroke="#1a1a1a" stroke-width="1.9"/>
<text x="1321.6" y="941.4" font-size="12.5" text-anchor="middle">ns</text>
<text x="1244.0" y="1002.8" font-size="12.4" text-anchor="middle" transform="rotate(-90 1244.0 1002.8)">Concentration (pg/mg protein)</text>
<line x1="1496.2" y1="1032.9" x2="1496.2" y2="1028.4" stroke="#1a1a1a" stroke-width="1.9"/>
<line x1="1489.5" y1="1028.4" x2="1502.9" y2="1028.4" stroke="#1a1a1a" stroke-width="1.9"/>
<rect x="1482.6" y="1032.9" width="27.2" height="37.3" fill="#6D60A7" stroke="#1a1210" stroke-width="1.9"/>
<line x1="1535.9" y1="974.2" x2="1535.9" y2="955.4" stroke="#1a1a1a" stroke-width="1.9"/>
<line x1="1529.2" y1="955.4" x2="1542.6" y2="955.4" stroke="#1a1a1a" stroke-width="1.9"/>
<rect x="1522.3" y="974.2" width="27.3" height="96.0" fill="#F09C76" stroke="#1a1210" stroke-width="1.9"/>
<line x1="1469.2" y1="935.4" x2="1469.2" y2="1071.2" stroke="#1a1a1a" stroke-width="1.8"/>
<line x1="1465.2" y1="1070.2" x2="1562.5" y2="1070.2" stroke="#1a1a1a" stroke-width="1.8"/>
<line x1="1464.7" y1="1070.2" x2="1469.2" y2="1070.2" stroke="#1a1a1a" stroke-width="1.6"/>
<text x="1463.6" y="1074.4" font-size="12" text-anchor="end">0</text>
<line x1="1464.7" y1="1036.5" x2="1469.2" y2="1036.5" stroke="#1a1a1a" stroke-width="1.6"/>
<text x="1463.6" y="1040.7" font-size="12" text-anchor="end">30</text>
<line x1="1464.7" y1="1002.8" x2="1469.2" y2="1002.8" stroke="#1a1a1a" stroke-width="1.6"/>
<text x="1463.6" y="1007.0" font-size="12" text-anchor="end">60</text>
<line x1="1464.7" y1="969.1" x2="1469.2" y2="969.1" stroke="#1a1a1a" stroke-width="1.6"/>
<text x="1463.6" y="973.3" font-size="12" text-anchor="end">90</text>
<line x1="1464.7" y1="935.4" x2="1469.2" y2="935.4" stroke="#1a1a1a" stroke-width="1.6"/>
<text x="1463.6" y="939.6" font-size="12" text-anchor="end">120</text>
<line x1="1496.0" y1="1070.2" x2="1496.0" y2="1075.2" stroke="#1a1a1a" stroke-width="1.6"/>
<line x1="1535.5" y1="1070.2" x2="1535.5" y2="1075.2" stroke="#1a1a1a" stroke-width="1.6"/>
<line x1="1495.5" y1="947.6" x2="1536.2" y2="947.6" stroke="#1a1a1a" stroke-width="1.9"/>
<line x1="1495.5" y1="943.1" x2="1495.5" y2="952.1" stroke="#1a1a1a" stroke-width="1.9"/>
<line x1="1536.2" y1="943.1" x2="1536.2" y2="952.1" stroke="#1a1a1a" stroke-width="1.9"/>
<text x="1516.5" y="948.6" font-size="17" text-anchor="middle" fill="#444">**</text>
<text x="1439.6" y="1002.8" font-size="12.4" text-anchor="middle" transform="rotate(-90 1439.6 1002.8)">Concentration (pg/mg protein)</text>
<line x1="1688.3" y1="1018.4" x2="1688.3" y2="990.5" stroke="#1a1a1a" stroke-width="1.9"/>
<line x1="1681.1" y1="990.5" x2="1695.5" y2="990.5" stroke="#1a1a1a" stroke-width="1.9"/>
<rect x="1674.1" y="1018.4" width="28.4" height="52.4" fill="#6D60A7" stroke="#1a1210" stroke-width="1.9"/>
<line x1="1729.2" y1="972.0" x2="1729.2" y2="940.9" stroke="#1a1a1a" stroke-width="1.9"/>
<line x1="1722.1" y1="940.9" x2="1736.4" y2="940.9" stroke="#1a1a1a" stroke-width="1.9"/>
<rect x="1715.2" y="972.0" width="28.1" height="98.8" fill="#F09C76" stroke="#1a1210" stroke-width="1.9"/>
<line x1="1658.9" y1="932.5" x2="1658.9" y2="1071.8" stroke="#1a1a1a" stroke-width="1.8"/>
<line x1="1654.9" y1="1070.8" x2="1756.7" y2="1070.8" stroke="#1a1a1a" stroke-width="1.8"/>
<line x1="1654.4" y1="1070.8" x2="1658.9" y2="1070.8" stroke="#1a1a1a" stroke-width="1.6"/>
<text x="1653.3" y="1075.0" font-size="12" text-anchor="end">0</text>
<line x1="1654.4" y1="1024.7" x2="1658.9" y2="1024.7" stroke="#1a1a1a" stroke-width="1.6"/>
<text x="1653.3" y="1028.9" font-size="12" text-anchor="end">200</text>
<line x1="1654.4" y1="978.6" x2="1658.9" y2="978.6" stroke="#1a1a1a" stroke-width="1.6"/>
<text x="1653.3" y="982.8" font-size="12" text-anchor="end">400</text>
<line x1="1654.4" y1="932.5" x2="1658.9" y2="932.5" stroke="#1a1a1a" stroke-width="1.6"/>
<text x="1653.3" y="936.7" font-size="12" text-anchor="end">600</text>
<line x1="1688.0" y1="1070.8" x2="1688.0" y2="1075.8" stroke="#1a1a1a" stroke-width="1.6"/>
<line x1="1728.6" y1="1070.8" x2="1728.6" y2="1075.8" stroke="#1a1a1a" stroke-width="1.6"/>
<line x1="1685.3" y1="933.6" x2="1728.1" y2="933.6" stroke="#1a1a1a" stroke-width="1.9"/>
<line x1="1685.3" y1="929.1" x2="1685.3" y2="938.1" stroke="#1a1a1a" stroke-width="1.9"/>
<line x1="1728.1" y1="929.1" x2="1728.1" y2="938.1" stroke="#1a1a1a" stroke-width="1.9"/>
<text x="1705.4" y="928.0" font-size="12.5" text-anchor="middle">ns</text>
<text x="1621.5" y="1001.6" font-size="12.4" text-anchor="middle" transform="rotate(-90 1621.5 1001.6)">Concentration (pg/mg protein)</text>
<line x1="1877.5" y1="1056.1" x2="1877.5" y2="1054.2" stroke="#1a1a1a" stroke-width="1.9"/>
<line x1="1871.1" y1="1054.2" x2="1883.8" y2="1054.2" stroke="#1a1a1a" stroke-width="1.9"/>
<rect x="1863.9" y="1056.1" width="27.1" height="13.7" fill="#6D60A7" stroke="#1a1210" stroke-width="1.9"/>
<line x1="1917.2" y1="979.2" x2="1917.2" y2="955.9" stroke="#1a1a1a" stroke-width="1.9"/>
<line x1="1910.9" y1="955.9" x2="1923.5" y2="955.9" stroke="#1a1a1a" stroke-width="1.9"/>
<rect x="1903.9" y="979.2" width="26.6" height="90.6" fill="#F09C76" stroke="#1a1210" stroke-width="1.9"/>
<line x1="1851.5" y1="936.0" x2="1851.5" y2="1070.8" stroke="#1a1a1a" stroke-width="1.8"/>
<line x1="1847.5" y1="1069.8" x2="1943.6" y2="1069.8" stroke="#1a1a1a" stroke-width="1.8"/>
<line x1="1847.0" y1="1069.8" x2="1851.5" y2="1069.8" stroke="#1a1a1a" stroke-width="1.6"/>
<text x="1842.6" y="1074.0" font-size="12" text-anchor="end">0</text>
<line x1="1847.0" y1="1036.3" x2="1851.5" y2="1036.3" stroke="#1a1a1a" stroke-width="1.6"/>
<text x="1842.6" y="1040.5" font-size="12" text-anchor="end">20</text>
<line x1="1847.0" y1="1002.9" x2="1851.5" y2="1002.9" stroke="#1a1a1a" stroke-width="1.6"/>
<text x="1842.6" y="1007.1" font-size="12" text-anchor="end">40</text>
<line x1="1847.0" y1="969.5" x2="1851.5" y2="969.5" stroke="#1a1a1a" stroke-width="1.6"/>
<text x="1842.6" y="973.7" font-size="12" text-anchor="end">60</text>
<line x1="1847.0" y1="936.0" x2="1851.5" y2="936.0" stroke="#1a1a1a" stroke-width="1.6"/>
<text x="1842.6" y="940.2" font-size="12" text-anchor="end">80</text>
<line x1="1877.3" y1="1069.8" x2="1877.3" y2="1074.8" stroke="#1a1a1a" stroke-width="1.6"/>
<line x1="1916.6" y1="1069.8" x2="1916.6" y2="1074.8" stroke="#1a1a1a" stroke-width="1.6"/>
<line x1="1877.2" y1="944.5" x2="1917.0" y2="944.5" stroke="#1a1a1a" stroke-width="1.9"/>
<line x1="1877.2" y1="940.0" x2="1877.2" y2="949.0" stroke="#1a1a1a" stroke-width="1.9"/>
<line x1="1917.0" y1="940.0" x2="1917.0" y2="949.0" stroke="#1a1a1a" stroke-width="1.9"/>
<text x="1898.0" y="945.3" font-size="17" text-anchor="middle" fill="#444">**</text>
<text x="1821.0" y="1002.9" font-size="12.4" text-anchor="middle" transform="rotate(-90 1821.0 1002.9)">Concentration (pg/mg protein)</text>
<text x="1134.6" y="719.8" font-size="16.8" text-anchor="middle">IL-1&#946;</text>
<text x="1323.9" y="719.8" font-size="16.8" text-anchor="middle">IL-6</text>
<text x="1516.0" y="719.8" font-size="16.8" text-anchor="middle">IL-12</text>
<text x="1707.8" y="719.8" font-size="16.8" text-anchor="middle">TNF&#945;</text>
<text x="1897.3" y="719.8" font-size="16.8" text-anchor="middle">IFN&#947;</text>
<text x="985.7" y="827.9" font-size="16.8">Serum</text>
<text x="979.6" y="1005.7" font-size="16.8">Tumour</text>
<rect x="1967.8" y="735.5" width="18.1" height="9.5" fill="#6D60A7" stroke="#1a1210" stroke-width="2"/>
<rect x="1967.8" y="756.1" width="18.1" height="9.5" fill="#F09C76" stroke="#1a1210" stroke-width="2"/>
<text x="1991.0" y="745.5" font-size="16.8">CON</text>
<text x="1991.0" y="764.9" font-size="16.8">147</text>
<rect x="1962.2" y="919.8" width="17.6" height="9.9" fill="#6D60A7" stroke="#1a1210" stroke-width="2"/>
<rect x="1962.2" y="940.7" width="17.6" height="10.1" fill="#F09C76" stroke="#1a1210" stroke-width="2"/>
<text x="1988.7" y="930.9" font-size="16.8">CON</text>
<text x="1988.7" y="950.6" font-size="16.8">147</text>
<text x="-1.5" y="31.2" font-size="42" font-weight="bold" fill="#000">a</text>
<rect x="58.2" y="47.5" width="91.4" height="161.0" fill="#1f1f1f" stroke="#0c0c0c" stroke-width="1.2"/>
<svg x="57.7" y="47.0" width="92.4" height="162" overflow="hidden">
<g transform="translate(0.0,0.0) matrix(1,0,0.000,1,0.00,0)">
<path d="M15.4,20.8 C14.8,18.5 16.4,13.6 17.7,11.5 C19.0,9.4 20.7,8.6 23.1,8.2 C25.5,7.7 29.7,8.2 32.3,8.8 C34.8,9.4 35.8,12.1 38.4,12.0 C41.0,11.9 43.9,9.3 47.7,8.5 C51.6,7.7 57.7,7.2 61.5,6.9 C65.3,6.6 68.7,6.5 70.7,6.9 C72.8,7.3 73.3,7.9 73.8,9.2 C74.3,10.5 74.6,12.9 73.8,14.6 C73.0,16.3 70.7,17.6 69.2,19.2 C67.7,20.8 65.9,22.3 64.6,23.9 C63.3,25.4 62.3,26.7 61.5,28.5 C60.7,30.3 60.0,32.6 60.0,34.6 C60.0,36.6 59.5,39.7 61.5,40.8 C63.5,41.9 68.8,40.8 72.0,41.0 C75.2,41.2 79.1,41.6 80.7,42.3 C82.3,43.0 82.7,44.4 81.5,45.4 C80.3,46.4 76.4,47.7 73.8,48.5 C71.2,49.3 68.1,49.2 66.1,50.0 C64.0,50.8 62.5,51.6 61.5,53.1 C60.5,54.6 60.5,56.1 60.0,59.2 C59.5,62.3 58.7,67.4 58.4,71.5 C58.1,75.6 58.1,80.2 58.4,83.8 C58.7,87.4 59.5,89.5 60.0,93.1 C60.5,96.7 61.0,101.1 61.5,105.4 C62.0,109.8 63.4,114.9 63.1,119.2 C62.9,123.5 61.8,128.7 60.0,131.5 C58.2,134.3 54.3,135.2 52.3,136.2 C50.2,137.2 46.2,137.2 47.7,137.7 C49.2,138.2 57.1,137.7 61.5,139.2 C65.8,140.7 71.0,144.8 73.8,146.9 C76.6,149.0 78.4,150.5 78.4,151.5 C78.4,152.5 76.3,153.5 73.8,153.1 C71.2,152.7 67.5,150.5 63.1,149.2 C58.8,147.9 51.6,145.3 47.7,145.4 C43.9,145.5 42.0,149.0 40.0,150.0 C38.0,151.0 36.5,151.2 35.4,151.5 C34.2,151.8 33.5,149.7 33.1,151.5 C32.7,153.3 33.7,160.7 32.8,162.5 C31.9,164.3 28.5,164.3 27.7,162.5 C26.9,160.7 29.0,154.1 27.7,151.5 C26.4,148.9 22.3,150.1 20.0,147.0 C17.7,143.9 15.4,138.5 13.8,133.1 C12.2,127.7 11.5,121.8 10.7,114.6 C9.9,107.4 9.1,97.2 9.2,90.0 C9.3,82.8 10.5,76.6 11.5,71.5 C12.5,66.4 13.7,63.8 15.4,59.2 C17.1,54.6 19.4,48.4 21.5,43.8 C23.6,39.2 27.7,34.6 27.7,31.5 C27.7,28.4 23.6,27.2 21.5,25.4 C19.4,23.6 16.0,23.1 15.4,20.8 Z" fill="url(#mg)"/>
<ellipse cx="27" cy="15" rx="11" ry="6.5" transform="rotate(-12 27 15)" fill="#b8b8b8"/>
<ellipse cx="27" cy="15.5" rx="7" ry="3.5" transform="rotate(-12 27 15)" fill="#8f8f8f"/>
<ellipse cx="54" cy="110" rx="8" ry="20" fill="#8a8a8a" opacity="0.35"/>
</g>
</svg>
<rect x="204.1" y="47.5" width="91.4" height="161.0" fill="#1f1f1f" stroke="#0c0c0c" stroke-width="1.2"/>
<svg x="203.6" y="47.0" width="92.4" height="162" overflow="hidden">
<g transform="translate(3.0,0.0) matrix(1,0,0.000,1,0.00,0)">
<path d="M15.4,20.8 C14.8,18.5 16.4,13.6 17.7,11.5 C19.0,9.4 20.7,8.6 23.1,8.2 C25.5,7.7 29.7,8.2 32.3,8.8 C34.8,9.4 35.8,12.1 38.4,12.0 C41.0,11.9 43.9,9.3 47.7,8.5 C51.6,7.7 57.7,7.2 61.5,6.9 C65.3,6.6 68.7,6.5 70.7,6.9 C72.8,7.3 73.3,7.9 73.8,9.2 C74.3,10.5 74.6,12.9 73.8,14.6 C73.0,16.3 70.7,17.6 69.2,19.2 C67.7,20.8 65.9,22.3 64.6,23.9 C63.3,25.4 62.3,26.7 61.5,28.5 C60.7,30.3 60.0,32.6 60.0,34.6 C60.0,36.6 59.5,39.7 61.5,40.8 C63.5,41.9 68.8,40.8 72.0,41.0 C75.2,41.2 79.1,41.6 80.7,42.3 C82.3,43.0 82.7,44.4 81.5,45.4 C80.3,46.4 76.4,47.7 73.8,48.5 C71.2,49.3 68.1,49.2 66.1,50.0 C64.0,50.8 62.5,51.6 61.5,53.1 C60.5,54.6 60.5,56.1 60.0,59.2 C59.5,62.3 58.7,67.4 58.4,71.5 C58.1,75.6 58.1,80.2 58.4,83.8 C58.7,87.4 59.5,89.5 60.0,93.1 C60.5,96.7 61.0,101.1 61.5,105.4 C62.0,109.8 63.4,114.9 63.1,119.2 C62.9,123.5 61.8,128.7 60.0,131.5 C58.2,134.3 54.3,135.2 52.3,136.2 C50.2,137.2 46.2,137.2 47.7,137.7 C49.2,138.2 57.1,137.7 61.5,139.2 C65.8,140.7 71.0,144.8 73.8,146.9 C76.6,149.0 78.4,150.5 78.4,151.5 C78.4,152.5 76.3,153.5 73.8,153.1 C71.2,152.7 67.5,150.5 63.1,149.2 C58.8,147.9 51.6,145.3 47.7,145.4 C43.9,145.5 42.0,149.0 40.0,150.0 C38.0,151.0 36.5,151.2 35.4,151.5 C34.2,151.8 33.5,149.7 33.1,151.5 C32.7,153.3 33.7,160.7 32.8,162.5 C31.9,164.3 28.5,164.3 27.7,162.5 C26.9,160.7 29.0,154.1 27.7,151.5 C26.4,148.9 22.3,150.1 20.0,147.0 C17.7,143.9 15.4,138.5 13.8,133.1 C12.2,127.7 11.5,121.8 10.7,114.6 C9.9,107.4 9.1,97.2 9.2,90.0 C9.3,82.8 10.5,76.6 11.5,71.5 C12.5,66.4 13.7,63.8 15.4,59.2 C17.1,54.6 19.4,48.4 21.5,43.8 C23.6,39.2 27.7,34.6 27.7,31.5 C27.7,28.4 23.6,27.2 21.5,25.4 C19.4,23.6 16.0,23.1 15.4,20.8 Z" fill="url(#mg)"/>
<ellipse cx="27" cy="15" rx="11" ry="6.5" transform="rotate(-12 27 15)" fill="#b8b8b8"/>
<ellipse cx="27" cy="15.5" rx="7" ry="3.5" transform="rotate(-12 27 15)" fill="#8f8f8f"/>
<ellipse cx="54" cy="110" rx="8" ry="20" fill="#8a8a8a" opacity="0.35"/>
</g>
</svg>
<rect x="308.0" y="47.5" width="91.4" height="161.0" fill="#1f1f1f" stroke="#0c0c0c" stroke-width="1.2"/>
<svg x="307.5" y="47.0" width="92.4" height="162" overflow="hidden">
<g transform="translate(2.0,0.0) matrix(1,0,0.130,1,-11.70,0)">
<path d="M15.4,20.8 C14.8,18.5 16.4,13.6 17.7,11.5 C19.0,9.4 20.7,8.6 23.1,8.2 C25.5,7.7 29.7,8.2 32.3,8.8 C34.8,9.4 35.8,12.1 38.4,12.0 C41.0,11.9 43.9,9.3 47.7,8.5 C51.6,7.7 57.7,7.2 61.5,6.9 C65.3,6.6 68.7,6.5 70.7,6.9 C72.8,7.3 73.3,7.9 73.8,9.2 C74.3,10.5 74.6,12.9 73.8,14.6 C73.0,16.3 70.7,17.6 69.2,19.2 C67.7,20.8 65.9,22.3 64.6,23.9 C63.3,25.4 62.3,26.7 61.5,28.5 C60.7,30.3 60.0,32.6 60.0,34.6 C60.0,36.6 59.5,39.7 61.5,40.8 C63.5,41.9 68.8,40.8 72.0,41.0 C75.2,41.2 79.1,41.6 80.7,42.3 C82.3,43.0 82.7,44.4 81.5,45.4 C80.3,46.4 76.4,47.7 73.8,48.5 C71.2,49.3 68.1,49.2 66.1,50.0 C64.0,50.8 62.5,51.6 61.5,53.1 C60.5,54.6 60.5,56.1 60.0,59.2 C59.5,62.3 58.7,67.4 58.4,71.5 C58.1,75.6 58.1,80.2 58.4,83.8 C58.7,87.4 59.5,89.5 60.0,93.1 C60.5,96.7 61.0,101.1 61.5,105.4 C62.0,109.8 63.4,114.9 63.1,119.2 C62.9,123.5 61.8,128.7 60.0,131.5 C58.2,134.3 54.3,135.2 52.3,136.2 C50.2,137.2 46.2,137.2 47.7,137.7 C49.2,138.2 57.1,137.7 61.5,139.2 C65.8,140.7 71.0,144.8 73.8,146.9 C76.6,149.0 78.4,150.5 78.4,151.5 C78.4,152.5 76.3,153.5 73.8,153.1 C71.2,152.7 67.5,150.5 63.1,149.2 C58.8,147.9 51.6,145.3 47.7,145.4 C43.9,145.5 42.0,149.0 40.0,150.0 C38.0,151.0 36.5,151.2 35.4,151.5 C34.2,151.8 33.5,149.7 33.1,151.5 C32.7,153.3 33.7,160.7 32.8,162.5 C31.9,164.3 28.5,164.3 27.7,162.5 C26.9,160.7 29.0,154.1 27.7,151.5 C26.4,148.9 22.3,150.1 20.0,147.0 C17.7,143.9 15.4,138.5 13.8,133.1 C12.2,127.7 11.5,121.8 10.7,114.6 C9.9,107.4 9.1,97.2 9.2,90.0 C9.3,82.8 10.5,76.6 11.5,71.5 C12.5,66.4 13.7,63.8 15.4,59.2 C17.1,54.6 19.4,48.4 21.5,43.8 C23.6,39.2 27.7,34.6 27.7,31.5 C27.7,28.4 23.6,27.2 21.5,25.4 C19.4,23.6 16.0,23.1 15.4,20.8 Z" fill="url(#mg)"/>
<ellipse cx="27" cy="15" rx="11" ry="6.5" transform="rotate(-12 27 15)" fill="#b8b8b8"/>
<ellipse cx="27" cy="15.5" rx="7" ry="3.5" transform="rotate(-12 27 15)" fill="#8f8f8f"/>
<ellipse cx="54" cy="110" rx="8" ry="20" fill="#8a8a8a" opacity="0.35"/>
</g>
</svg>
<rect x="411.7" y="47.5" width="91.4" height="161.0" fill="#1f1f1f" stroke="#0c0c0c" stroke-width="1.2"/>
<svg x="411.2" y="47.0" width="92.4" height="162" overflow="hidden">
<g transform="translate(-3.0,0.0) matrix(1,0,0.030,1,-2.70,0)">
<path d="M15.4,20.8 C14.8,18.5 16.4,13.6 17.7,11.5 C19.0,9.4 20.7,8.6 23.1,8.2 C25.5,7.7 29.7,8.2 32.3,8.8 C34.8,9.4 35.8,12.1 38.4,12.0 C41.0,11.9 43.9,9.3 47.7,8.5 C51.6,7.7 57.7,7.2 61.5,6.9 C65.3,6.6 68.7,6.5 70.7,6.9 C72.8,7.3 73.3,7.9 73.8,9.2 C74.3,10.5 74.6,12.9 73.8,14.6 C73.0,16.3 70.7,17.6 69.2,19.2 C67.7,20.8 65.9,22.3 64.6,23.9 C63.3,25.4 62.3,26.7 61.5,28.5 C60.7,30.3 60.0,32.6 60.0,34.6 C60.0,36.6 59.5,39.7 61.5,40.8 C63.5,41.9 68.8,40.8 72.0,41.0 C75.2,41.2 79.1,41.6 80.7,42.3 C82.3,43.0 82.7,44.4 81.5,45.4 C80.3,46.4 76.4,47.7 73.8,48.5 C71.2,49.3 68.1,49.2 66.1,50.0 C64.0,50.8 62.5,51.6 61.5,53.1 C60.5,54.6 60.5,56.1 60.0,59.2 C59.5,62.3 58.7,67.4 58.4,71.5 C58.1,75.6 58.1,80.2 58.4,83.8 C58.7,87.4 59.5,89.5 60.0,93.1 C60.5,96.7 61.0,101.1 61.5,105.4 C62.0,109.8 63.4,114.9 63.1,119.2 C62.9,123.5 61.8,128.7 60.0,131.5 C58.2,134.3 54.3,135.2 52.3,136.2 C50.2,137.2 46.2,137.2 47.7,137.7 C49.2,138.2 57.1,137.7 61.5,139.2 C65.8,140.7 71.0,144.8 73.8,146.9 C76.6,149.0 78.4,150.5 78.4,151.5 C78.4,152.5 76.3,153.5 73.8,153.1 C71.2,152.7 67.5,150.5 63.1,149.2 C58.8,147.9 51.6,145.3 47.7,145.4 C43.9,145.5 42.0,149.0 40.0,150.0 C38.0,151.0 36.5,151.2 35.4,151.5 C34.2,151.8 33.5,149.7 33.1,151.5 C32.7,153.3 33.7,160.7 32.8,162.5 C31.9,164.3 28.5,164.3 27.7,162.5 C26.9,160.7 29.0,154.1 27.7,151.5 C26.4,148.9 22.3,150.1 20.0,147.0 C17.7,143.9 15.4,138.5 13.8,133.1 C12.2,127.7 11.5,121.8 10.7,114.6 C9.9,107.4 9.1,97.2 9.2,90.0 C9.3,82.8 10.5,76.6 11.5,71.5 C12.5,66.4 13.7,63.8 15.4,59.2 C17.1,54.6 19.4,48.4 21.5,43.8 C23.6,39.2 27.7,34.6 27.7,31.5 C27.7,28.4 23.6,27.2 21.5,25.4 C19.4,23.6 16.0,23.1 15.4,20.8 Z" fill="url(#mg)"/>
<ellipse cx="27" cy="15" rx="11" ry="6.5" transform="rotate(-12 27 15)" fill="#b8b8b8"/>
<ellipse cx="27" cy="15.5" rx="7" ry="3.5" transform="rotate(-12 27 15)" fill="#8f8f8f"/>
<ellipse cx="54" cy="110" rx="8" ry="20" fill="#8a8a8a" opacity="0.35"/>
</g>
</svg>
<rect x="515.9" y="47.5" width="91.4" height="161.0" fill="#1f1f1f" stroke="#0c0c0c" stroke-width="1.2"/>
<svg x="515.4" y="47.0" width="92.4" height="162" overflow="hidden">
<g transform="translate(0.0,0.0) matrix(1,0,0.130,1,-11.70,0)">
<path d="M15.4,20.8 C14.8,18.5 16.4,13.6 17.7,11.5 C19.0,9.4 20.7,8.6 23.1,8.2 C25.5,7.7 29.7,8.2 32.3,8.8 C34.8,9.4 35.8,12.1 38.4,12.0 C41.0,11.9 43.9,9.3 47.7,8.5 C51.6,7.7 57.7,7.2 61.5,6.9 C65.3,6.6 68.7,6.5 70.7,6.9 C72.8,7.3 73.3,7.9 73.8,9.2 C74.3,10.5 74.6,12.9 73.8,14.6 C73.0,16.3 70.7,17.6 69.2,19.2 C67.7,20.8 65.9,22.3 64.6,23.9 C63.3,25.4 62.3,26.7 61.5,28.5 C60.7,30.3 60.0,32.6 60.0,34.6 C60.0,36.6 59.5,39.7 61.5,40.8 C63.5,41.9 68.8,40.8 72.0,41.0 C75.2,41.2 79.1,41.6 80.7,42.3 C82.3,43.0 82.7,44.4 81.5,45.4 C80.3,46.4 76.4,47.7 73.8,48.5 C71.2,49.3 68.1,49.2 66.1,50.0 C64.0,50.8 62.5,51.6 61.5,53.1 C60.5,54.6 60.5,56.1 60.0,59.2 C59.5,62.3 58.7,67.4 58.4,71.5 C58.1,75.6 58.1,80.2 58.4,83.8 C58.7,87.4 59.5,89.5 60.0,93.1 C60.5,96.7 61.0,101.1 61.5,105.4 C62.0,109.8 63.4,114.9 63.1,119.2 C62.9,123.5 61.8,128.7 60.0,131.5 C58.2,134.3 54.3,135.2 52.3,136.2 C50.2,137.2 46.2,137.2 47.7,137.7 C49.2,138.2 57.1,137.7 61.5,139.2 C65.8,140.7 71.0,144.8 73.8,146.9 C76.6,149.0 78.4,150.5 78.4,151.5 C78.4,152.5 76.3,153.5 73.8,153.1 C71.2,152.7 67.5,150.5 63.1,149.2 C58.8,147.9 51.6,145.3 47.7,145.4 C43.9,145.5 42.0,149.0 40.0,150.0 C38.0,151.0 36.5,151.2 35.4,151.5 C34.2,151.8 33.5,149.7 33.1,151.5 C32.7,153.3 33.7,160.7 32.8,162.5 C31.9,164.3 28.5,164.3 27.7,162.5 C26.9,160.7 29.0,154.1 27.7,151.5 C26.4,148.9 22.3,150.1 20.0,147.0 C17.7,143.9 15.4,138.5 13.8,133.1 C12.2,127.7 11.5,121.8 10.7,114.6 C9.9,107.4 9.1,97.2 9.2,90.0 C9.3,82.8 10.5,76.6 11.5,71.5 C12.5,66.4 13.7,63.8 15.4,59.2 C17.1,54.6 19.4,48.4 21.5,43.8 C23.6,39.2 27.7,34.6 27.7,31.5 C27.7,28.4 23.6,27.2 21.5,25.4 C19.4,23.6 16.0,23.1 15.4,20.8 Z" fill="url(#mg)"/>
<ellipse cx="27" cy="15" rx="11" ry="6.5" transform="rotate(-12 27 15)" fill="#b8b8b8"/>
<ellipse cx="27" cy="15.5" rx="7" ry="3.5" transform="rotate(-12 27 15)" fill="#8f8f8f"/>
<ellipse cx="54" cy="110" rx="8" ry="20" fill="#8a8a8a" opacity="0.35"/>
</g>
</svg>
<rect x="58.2" y="217.7" width="91.4" height="161.0" fill="#1f1f1f" stroke="#0c0c0c" stroke-width="1.2"/>
<svg x="57.7" y="217.2" width="92.4" height="162" overflow="hidden">
<g transform="translate(0.0,0.0) matrix(1,0,0.050,1,-4.50,0)">
<path d="M15.4,20.8 C14.8,18.5 16.4,13.6 17.7,11.5 C19.0,9.4 20.7,8.6 23.1,8.2 C25.5,7.7 29.7,8.2 32.3,8.8 C34.8,9.4 35.8,12.1 38.4,12.0 C41.0,11.9 43.9,9.3 47.7,8.5 C51.6,7.7 57.7,7.2 61.5,6.9 C65.3,6.6 68.7,6.5 70.7,6.9 C72.8,7.3 73.3,7.9 73.8,9.2 C74.3,10.5 74.6,12.9 73.8,14.6 C73.0,16.3 70.7,17.6 69.2,19.2 C67.7,20.8 65.9,22.3 64.6,23.9 C63.3,25.4 62.3,26.7 61.5,28.5 C60.7,30.3 60.0,32.6 60.0,34.6 C60.0,36.6 59.5,39.7 61.5,40.8 C63.5,41.9 68.8,40.8 72.0,41.0 C75.2,41.2 79.1,41.6 80.7,42.3 C82.3,43.0 82.7,44.4 81.5,45.4 C80.3,46.4 76.4,47.7 73.8,48.5 C71.2,49.3 68.1,49.2 66.1,50.0 C64.0,50.8 62.5,51.6 61.5,53.1 C60.5,54.6 60.5,56.1 60.0,59.2 C59.5,62.3 58.7,67.4 58.4,71.5 C58.1,75.6 58.1,80.2 58.4,83.8 C58.7,87.4 59.5,89.5 60.0,93.1 C60.5,96.7 61.0,101.1 61.5,105.4 C62.0,109.8 63.4,114.9 63.1,119.2 C62.9,123.5 61.8,128.7 60.0,131.5 C58.2,134.3 54.3,135.2 52.3,136.2 C50.2,137.2 46.2,137.2 47.7,137.7 C49.2,138.2 57.1,137.7 61.5,139.2 C65.8,140.7 71.0,144.8 73.8,146.9 C76.6,149.0 78.4,150.5 78.4,151.5 C78.4,152.5 76.3,153.5 73.8,153.1 C71.2,152.7 67.5,150.5 63.1,149.2 C58.8,147.9 51.6,145.3 47.7,145.4 C43.9,145.5 42.0,149.0 40.0,150.0 C38.0,151.0 36.5,151.2 35.4,151.5 C34.2,151.8 33.5,149.7 33.1,151.5 C32.7,153.3 33.7,160.7 32.8,162.5 C31.9,164.3 28.5,164.3 27.7,162.5 C26.9,160.7 29.0,154.1 27.7,151.5 C26.4,148.9 22.3,150.1 20.0,147.0 C17.7,143.9 15.4,138.5 13.8,133.1 C12.2,127.7 11.5,121.8 10.7,114.6 C9.9,107.4 9.1,97.2 9.2,90.0 C9.3,82.8 10.5,76.6 11.5,71.5 C12.5,66.4 13.7,63.8 15.4,59.2 C17.1,54.6 19.4,48.4 21.5,43.8 C23.6,39.2 27.7,34.6 27.7,31.5 C27.7,28.4 23.6,27.2 21.5,25.4 C19.4,23.6 16.0,23.1 15.4,20.8 Z" fill="url(#mg)"/>
<ellipse cx="27" cy="15" rx="11" ry="6.5" transform="rotate(-12 27 15)" fill="#b8b8b8"/>
<ellipse cx="27" cy="15.5" rx="7" ry="3.5" transform="rotate(-12 27 15)" fill="#8f8f8f"/>
<ellipse cx="54" cy="110" rx="8" ry="20" fill="#8a8a8a" opacity="0.35"/>
</g>
</svg>
<rect x="204.1" y="217.7" width="91.4" height="161.0" fill="#1f1f1f" stroke="#0c0c0c" stroke-width="1.2"/>
<svg x="203.6" y="217.2" width="92.4" height="162" overflow="hidden">
<g transform="translate(0.0,0.0) matrix(1,0,0.050,1,-4.50,0)">
<path d="M15.4,20.8 C14.8,18.5 16.4,13.6 17.7,11.5 C19.0,9.4 20.7,8.6 23.1,8.2 C25.5,7.7 29.7,8.2 32.3,8.8 C34.8,9.4 35.8,12.1 38.4,12.0 C41.0,11.9 43.9,9.3 47.7,8.5 C51.6,7.7 57.7,7.2 61.5,6.9 C65.3,6.6 68.7,6.5 70.7,6.9 C72.8,7.3 73.3,7.9 73.8,9.2 C74.3,10.5 74.6,12.9 73.8,14.6 C73.0,16.3 70.7,17.6 69.2,19.2 C67.7,20.8 65.9,22.3 64.6,23.9 C63.3,25.4 62.3,26.7 61.5,28.5 C60.7,30.3 60.0,32.6 60.0,34.6 C60.0,36.6 59.5,39.7 61.5,40.8 C63.5,41.9 68.8,40.8 72.0,41.0 C75.2,41.2 79.1,41.6 80.7,42.3 C82.3,43.0 82.7,44.4 81.5,45.4 C80.3,46.4 76.4,47.7 73.8,48.5 C71.2,49.3 68.1,49.2 66.1,50.0 C64.0,50.8 62.5,51.6 61.5,53.1 C60.5,54.6 60.5,56.1 60.0,59.2 C59.5,62.3 58.7,67.4 58.4,71.5 C58.1,75.6 58.1,80.2 58.4,83.8 C58.7,87.4 59.5,89.5 60.0,93.1 C60.5,96.7 61.0,101.1 61.5,105.4 C62.0,109.8 63.4,114.9 63.1,119.2 C62.9,123.5 61.8,128.7 60.0,131.5 C58.2,134.3 54.3,135.2 52.3,136.2 C50.2,137.2 46.2,137.2 47.7,137.7 C49.2,138.2 57.1,137.7 61.5,139.2 C65.8,140.7 71.0,144.8 73.8,146.9 C76.6,149.0 78.4,150.5 78.4,151.5 C78.4,152.5 76.3,153.5 73.8,153.1 C71.2,152.7 67.5,150.5 63.1,149.2 C58.8,147.9 51.6,145.3 47.7,145.4 C43.9,145.5 42.0,149.0 40.0,150.0 C38.0,151.0 36.5,151.2 35.4,151.5 C34.2,151.8 33.5,149.7 33.1,151.5 C32.7,153.3 33.7,160.7 32.8,162.5 C31.9,164.3 28.5,164.3 27.7,162.5 C26.9,160.7 29.0,154.1 27.7,151.5 C26.4,148.9 22.3,150.1 20.0,147.0 C17.7,143.9 15.4,138.5 13.8,133.1 C12.2,127.7 11.5,121.8 10.7,114.6 C9.9,107.4 9.1,97.2 9.2,90.0 C9.3,82.8 10.5,76.6 11.5,71.5 C12.5,66.4 13.7,63.8 15.4,59.2 C17.1,54.6 19.4,48.4 21.5,43.8 C23.6,39.2 27.7,34.6 27.7,31.5 C27.7,28.4 23.6,27.2 21.5,25.4 C19.4,23.6 16.0,23.1 15.4,20.8 Z" fill="url(#mg)"/>
<ellipse cx="27" cy="15" rx="11" ry="6.5" transform="rotate(-12 27 15)" fill="#b8b8b8"/>
<ellipse cx="27" cy="15.5" rx="7" ry="3.5" transform="rotate(-12 27 15)" fill="#8f8f8f"/>
<ellipse cx="54" cy="110" rx="8" ry="20" fill="#8a8a8a" opacity="0.35"/>
</g>
</svg>
<rect x="308.0" y="217.7" width="91.4" height="161.0" fill="#1f1f1f" stroke="#0c0c0c" stroke-width="1.2"/>
<svg x="307.5" y="217.2" width="92.4" height="162" overflow="hidden">
<g transform="translate(0.0,0.0) matrix(1,0,0.050,1,-4.50,0)">
<path d="M15.4,20.8 C14.8,18.5 16.4,13.6 17.7,11.5 C19.0,9.4 20.7,8.6 23.1,8.2 C25.5,7.7 29.7,8.2 32.3,8.8 C34.8,9.4 35.8,12.1 38.4,12.0 C41.0,11.9 43.9,9.3 47.7,8.5 C51.6,7.7 57.7,7.2 61.5,6.9 C65.3,6.6 68.7,6.5 70.7,6.9 C72.8,7.3 73.3,7.9 73.8,9.2 C74.3,10.5 74.6,12.9 73.8,14.6 C73.0,16.3 70.7,17.6 69.2,19.2 C67.7,20.8 65.9,22.3 64.6,23.9 C63.3,25.4 62.3,26.7 61.5,28.5 C60.7,30.3 60.0,32.6 60.0,34.6 C60.0,36.6 59.5,39.7 61.5,40.8 C63.5,41.9 68.8,40.8 72.0,41.0 C75.2,41.2 79.1,41.6 80.7,42.3 C82.3,43.0 82.7,44.4 81.5,45.4 C80.3,46.4 76.4,47.7 73.8,48.5 C71.2,49.3 68.1,49.2 66.1,50.0 C64.0,50.8 62.5,51.6 61.5,53.1 C60.5,54.6 60.5,56.1 60.0,59.2 C59.5,62.3 58.7,67.4 58.4,71.5 C58.1,75.6 58.1,80.2 58.4,83.8 C58.7,87.4 59.5,89.5 60.0,93.1 C60.5,96.7 61.0,101.1 61.5,105.4 C62.0,109.8 63.4,114.9 63.1,119.2 C62.9,123.5 61.8,128.7 60.0,131.5 C58.2,134.3 54.3,135.2 52.3,136.2 C50.2,137.2 46.2,137.2 47.7,137.7 C49.2,138.2 57.1,137.7 61.5,139.2 C65.8,140.7 71.0,144.8 73.8,146.9 C76.6,149.0 78.4,150.5 78.4,151.5 C78.4,152.5 76.3,153.5 73.8,153.1 C71.2,152.7 67.5,150.5 63.1,149.2 C58.8,147.9 51.6,145.3 47.7,145.4 C43.9,145.5 42.0,149.0 40.0,150.0 C38.0,151.0 36.5,151.2 35.4,151.5 C34.2,151.8 33.5,149.7 33.1,151.5 C32.7,153.3 33.7,160.7 32.8,162.5 C31.9,164.3 28.5,164.3 27.7,162.5 C26.9,160.7 29.0,154.1 27.7,151.5 C26.4,148.9 22.3,150.1 20.0,147.0 C17.7,143.9 15.4,138.5 13.8,133.1 C12.2,127.7 11.5,121.8 10.7,114.6 C9.9,107.4 9.1,97.2 9.2,90.0 C9.3,82.8 10.5,76.6 11.5,71.5 C12.5,66.4 13.7,63.8 15.4,59.2 C17.1,54.6 19.4,48.4 21.5,43.8 C23.6,39.2 27.7,34.6 27.7,31.5 C27.7,28.4 23.6,27.2 21.5,25.4 C19.4,23.6 16.0,23.1 15.4,20.8 Z" fill="url(#mg)"/>
<ellipse cx="27" cy="15" rx="11" ry="6.5" transform="rotate(-12 27 15)" fill="#b8b8b8"/>
<ellipse cx="27" cy="15.5" rx="7" ry="3.5" transform="rotate(-12 27 15)" fill="#8f8f8f"/>
<ellipse cx="54" cy="110" rx="8" ry="20" fill="#8a8a8a" opacity="0.35"/>
</g>
</svg>
<rect x="411.7" y="217.7" width="91.4" height="161.0" fill="#1f1f1f" stroke="#0c0c0c" stroke-width="1.2"/>
<svg x="411.2" y="217.2" width="92.4" height="162" overflow="hidden">
<g transform="translate(-3.0,0.0) matrix(1,0,0.050,1,-4.50,0)">
<path d="M15.4,20.8 C14.8,18.5 16.4,13.6 17.7,11.5 C19.0,9.4 20.7,8.6 23.1,8.2 C25.5,7.7 29.7,8.2 32.3,8.8 C34.8,9.4 35.8,12.1 38.4,12.0 C41.0,11.9 43.9,9.3 47.7,8.5 C51.6,7.7 57.7,7.2 61.5,6.9 C65.3,6.6 68.7,6.5 70.7,6.9 C72.8,7.3 73.3,7.9 73.8,9.2 C74.3,10.5 74.6,12.9 73.8,14.6 C73.0,16.3 70.7,17.6 69.2,19.2 C67.7,20.8 65.9,22.3 64.6,23.9 C63.3,25.4 62.3,26.7 61.5,28.5 C60.7,30.3 60.0,32.6 60.0,34.6 C60.0,36.6 59.5,39.7 61.5,40.8 C63.5,41.9 68.8,40.8 72.0,41.0 C75.2,41.2 79.1,41.6 80.7,42.3 C82.3,43.0 82.7,44.4 81.5,45.4 C80.3,46.4 76.4,47.7 73.8,48.5 C71.2,49.3 68.1,49.2 66.1,50.0 C64.0,50.8 62.5,51.6 61.5,53.1 C60.5,54.6 60.5,56.1 60.0,59.2 C59.5,62.3 58.7,67.4 58.4,71.5 C58.1,75.6 58.1,80.2 58.4,83.8 C58.7,87.4 59.5,89.5 60.0,93.1 C60.5,96.7 61.0,101.1 61.5,105.4 C62.0,109.8 63.4,114.9 63.1,119.2 C62.9,123.5 61.8,128.7 60.0,131.5 C58.2,134.3 54.3,135.2 52.3,136.2 C50.2,137.2 46.2,137.2 47.7,137.7 C49.2,138.2 57.1,137.7 61.5,139.2 C65.8,140.7 71.0,144.8 73.8,146.9 C76.6,149.0 78.4,150.5 78.4,151.5 C78.4,152.5 76.3,153.5 73.8,153.1 C71.2,152.7 67.5,150.5 63.1,149.2 C58.8,147.9 51.6,145.3 47.7,145.4 C43.9,145.5 42.0,149.0 40.0,150.0 C38.0,151.0 36.5,151.2 35.4,151.5 C34.2,151.8 33.5,149.7 33.1,151.5 C32.7,153.3 33.7,160.7 32.8,162.5 C31.9,164.3 28.5,164.3 27.7,162.5 C26.9,160.7 29.0,154.1 27.7,151.5 C26.4,148.9 22.3,150.1 20.0,147.0 C17.7,143.9 15.4,138.5 13.8,133.1 C12.2,127.7 11.5,121.8 10.7,114.6 C9.9,107.4 9.1,97.2 9.2,90.0 C9.3,82.8 10.5,76.6 11.5,71.5 C12.5,66.4 13.7,63.8 15.4,59.2 C17.1,54.6 19.4,48.4 21.5,43.8 C23.6,39.2 27.7,34.6 27.7,31.5 C27.7,28.4 23.6,27.2 21.5,25.4 C19.4,23.6 16.0,23.1 15.4,20.8 Z" fill="url(#mg)"/>
<ellipse cx="27" cy="15" rx="11" ry="6.5" transform="rotate(-12 27 15)" fill="#b8b8b8"/>
<ellipse cx="27" cy="15.5" rx="7" ry="3.5" transform="rotate(-12 27 15)" fill="#8f8f8f"/>
<ellipse cx="54" cy="110" rx="8" ry="20" fill="#8a8a8a" opacity="0.35"/>
</g>
</svg>
<rect x="515.9" y="217.7" width="91.4" height="161.0" fill="#1f1f1f" stroke="#0c0c0c" stroke-width="1.2"/>
<svg x="515.4" y="217.2" width="92.4" height="162" overflow="hidden">
<g transform="translate(-4.0,0.0) matrix(1,0,0.070,1,-6.30,0)">
<path d="M15.4,20.8 C14.8,18.5 16.4,13.6 17.7,11.5 C19.0,9.4 20.7,8.6 23.1,8.2 C25.5,7.7 29.7,8.2 32.3,8.8 C34.8,9.4 35.8,12.1 38.4,12.0 C41.0,11.9 43.9,9.3 47.7,8.5 C51.6,7.7 57.7,7.2 61.5,6.9 C65.3,6.6 68.7,6.5 70.7,6.9 C72.8,7.3 73.3,7.9 73.8,9.2 C74.3,10.5 74.6,12.9 73.8,14.6 C73.0,16.3 70.7,17.6 69.2,19.2 C67.7,20.8 65.9,22.3 64.6,23.9 C63.3,25.4 62.3,26.7 61.5,28.5 C60.7,30.3 60.0,32.6 60.0,34.6 C60.0,36.6 59.5,39.7 61.5,40.8 C63.5,41.9 68.8,40.8 72.0,41.0 C75.2,41.2 79.1,41.6 80.7,42.3 C82.3,43.0 82.7,44.4 81.5,45.4 C80.3,46.4 76.4,47.7 73.8,48.5 C71.2,49.3 68.1,49.2 66.1,50.0 C64.0,50.8 62.5,51.6 61.5,53.1 C60.5,54.6 60.5,56.1 60.0,59.2 C59.5,62.3 58.7,67.4 58.4,71.5 C58.1,75.6 58.1,80.2 58.4,83.8 C58.7,87.4 59.5,89.5 60.0,93.1 C60.5,96.7 61.0,101.1 61.5,105.4 C62.0,109.8 63.4,114.9 63.1,119.2 C62.9,123.5 61.8,128.7 60.0,131.5 C58.2,134.3 54.3,135.2 52.3,136.2 C50.2,137.2 46.2,137.2 47.7,137.7 C49.2,138.2 57.1,137.7 61.5,139.2 C65.8,140.7 71.0,144.8 73.8,146.9 C76.6,149.0 78.4,150.5 78.4,151.5 C78.4,152.5 76.3,153.5 73.8,153.1 C71.2,152.7 67.5,150.5 63.1,149.2 C58.8,147.9 51.6,145.3 47.7,145.4 C43.9,145.5 42.0,149.0 40.0,150.0 C38.0,151.0 36.5,151.2 35.4,151.5 C34.2,151.8 33.5,149.7 33.1,151.5 C32.7,153.3 33.7,160.7 32.8,162.5 C31.9,164.3 28.5,164.3 27.7,162.5 C26.9,160.7 29.0,154.1 27.7,151.5 C26.4,148.9 22.3,150.1 20.0,147.0 C17.7,143.9 15.4,138.5 13.8,133.1 C12.2,127.7 11.5,121.8 10.7,114.6 C9.9,107.4 9.1,97.2 9.2,90.0 C9.3,82.8 10.5,76.6 11.5,71.5 C12.5,66.4 13.7,63.8 15.4,59.2 C17.1,54.6 19.4,48.4 21.5,43.8 C23.6,39.2 27.7,34.6 27.7,31.5 C27.7,28.4 23.6,27.2 21.5,25.4 C19.4,23.6 16.0,23.1 15.4,20.8 Z" fill="url(#mg)"/>
<ellipse cx="27" cy="15" rx="11" ry="6.5" transform="rotate(-12 27 15)" fill="#b8b8b8"/>
<ellipse cx="27" cy="15.5" rx="7" ry="3.5" transform="rotate(-12 27 15)" fill="#8f8f8f"/>
<ellipse cx="54" cy="110" rx="8" ry="20" fill="#8a8a8a" opacity="0.35"/>
</g>
</svg>
<g transform="rotate(0 104.3 147.9)"><ellipse cx="104.3" cy="147.9" rx="7.3" ry="8.3" fill="#7a28ff"/><ellipse cx="104.3" cy="147.9" rx="6.4" ry="7.2" fill="#1030ff"/><ellipse cx="104.3" cy="147.9" rx="5.0" ry="5.6" fill="#00c8ff"/><ellipse cx="104.3" cy="147.9" rx="3.1" ry="3.5" fill="#10f070"/></g>
<g transform="rotate(0 103.4 319.9)"><ellipse cx="103.4" cy="319.9" rx="9.2" ry="8.8" fill="#7a28ff"/><ellipse cx="103.4" cy="319.9" rx="8.0" ry="7.7" fill="#1030ff"/><ellipse cx="103.4" cy="319.9" rx="6.3" ry="6.0" fill="#00c8ff"/><ellipse cx="103.4" cy="319.9" rx="3.9" ry="3.7" fill="#10f070"/></g>
<polygon points="261.6,126.1 259.3,130.3 257.0,134.3 251.2,135.6 247.0,139.9 240.6,138.8 234.3,137.9 228.6,135.3 226.3,130.7 223.4,126.1 226.3,121.5 230.4,117.9 235.6,115.9 240.8,114.5 246.8,113.2 253.7,113.4 256.1,118.5 261.8,121.3" fill="#9e0808"/>
<polygon points="254.0,152.5 253.5,153.2 253.4,154.1 252.8,154.8 251.9,154.8 251.1,154.7 250.1,154.9 249.8,153.9 249.6,153.2 249.1,152.5 249.3,151.7 249.6,150.9 250.4,150.6 251.1,150.2 251.9,150.0 252.7,150.3 253.1,151.2 253.9,151.6" fill="#9e0808"/>
<polygon points="257.9,296.6 258.4,300.6 252.7,302.8 250.2,306.8 243.8,308.6 236.6,308.7 232.1,304.9 223.7,304.8 220.1,301.0 222.5,296.6 221.7,292.7 223.7,288.5 229.6,285.8 236.6,284.5 243.5,285.7 250.8,285.8 256.8,288.4 259.7,292.5" fill="#9e0808"/>
<polygon points="253.1,324.8 252.7,326.0 252.1,326.9 251.5,327.7 250.6,328.0 249.8,328.0 248.7,328.1 247.9,327.4 248.0,325.8 247.7,324.8 248.1,323.7 248.4,322.7 249.0,322.0 249.7,321.2 250.7,321.2 251.6,321.4 252.1,322.6 252.6,323.6" fill="#9e0808"/>
<polygon points="341.9,127.1 342.0,127.9 341.5,128.5 340.9,129.2 340.0,129.7 339.0,129.4 338.1,129.3 337.1,128.9 337.2,127.9 336.5,127.1 336.7,126.3 337.2,125.5 338.3,125.3 339.0,124.9 340.0,124.9 341.0,124.9 341.7,125.6 342.4,126.3" fill="#9e0808"/>
<polygon points="363.0,128.3 362.7,129.9 361.5,130.7 360.8,131.7 359.8,132.0 358.7,132.1 357.7,131.7 356.8,130.9 356.1,129.8 355.4,128.3 355.9,126.9 356.4,125.4 357.5,124.6 358.7,124.8 359.9,123.7 360.7,125.2 361.6,125.9 362.8,126.8" fill="#9e0808"/>
<polygon points="359.2,153.9 358.0,155.7 358.0,157.9 356.8,158.6 355.8,159.5 354.6,159.8 353.5,159.1 352.4,158.0 352.3,155.8 352.2,153.9 351.6,151.7 352.9,150.6 353.7,149.3 354.7,148.8 355.9,147.7 356.8,149.5 357.6,150.5 358.1,152.2" fill="#9e0808"/>
<polygon points="339.6,304.9 339.6,305.9 338.7,306.6 337.7,307.1 336.8,308.0 335.5,307.4 334.4,307.1 333.8,306.4 332.2,306.0 332.0,304.9 332.3,303.8 333.5,303.2 334.3,302.6 335.5,302.3 336.7,302.4 338.1,302.2 338.5,303.4 339.8,303.9" fill="#9e0808"/>
<polygon points="362.3,304.9 362.6,306.0 361.2,306.5 360.5,307.3 359.4,307.8 358.2,307.3 357.1,307.2 355.8,306.8 354.9,306.0 354.9,304.9 354.9,303.8 356.3,303.3 356.8,302.3 358.1,302.2 359.4,302.1 360.7,302.2 361.6,303.1 361.9,304.0" fill="#9e0808"/>
<polygon points="356.0,332.4 356.4,334.2 355.1,335.3 354.7,337.7 352.8,336.8 351.4,337.5 349.9,336.9 348.4,336.1 347.6,334.3 347.5,332.4 348.2,330.7 348.8,329.0 349.8,327.4 351.4,327.4 353.0,326.5 354.7,327.2 355.1,329.4 356.7,330.4" fill="#9e0808"/>
<polygon points="463.3,126.5 463.3,127.0 463.1,127.3 462.9,127.8 462.5,128.0 462.0,128.1 461.7,127.6 461.4,127.4 461.0,127.1 461.2,126.5 461.2,126.0 461.4,125.7 461.7,125.3 462.0,125.0 462.4,125.2 462.9,125.1 463.3,125.5 463.5,126.0" fill="#9e0808"/>
<polygon points="466.3,161.0 465.2,161.9 464.6,162.8 463.4,163.5 461.7,163.5 460.2,163.6 458.7,163.4 456.9,163.1 456.0,162.1 456.7,161.0 456.6,160.0 457.3,159.1 458.3,158.2 460.2,158.1 461.8,158.3 463.2,158.7 464.9,159.0 464.9,160.1" fill="#9e0808"/>
<polygon points="461.6,324.7 461.3,327.5 460.3,329.6 459.6,332.6 457.8,331.9 456.2,333.0 454.8,331.8 453.0,330.8 453.1,327.3 452.0,324.7 453.2,322.2 453.7,319.7 455.0,318.2 456.4,317.7 457.9,316.4 459.5,317.2 460.9,319.0 460.8,322.2" fill="#9e0808"/>
<polygon points="561.5,162.2 561.5,162.7 561.2,162.9 560.9,163.2 560.7,163.5 560.3,163.5 560.1,163.2 559.8,163.0 559.6,162.7 559.5,162.2 559.5,161.8 559.8,161.5 560.1,161.3 560.4,161.3 560.7,160.9 560.9,161.4 561.2,161.5 561.4,161.8" fill="#9e0808"/>
<polygon points="553.0,244.9 552.0,245.7 551.6,246.5 550.2,246.7 549.2,247.6 547.5,247.6 546.4,246.8 545.6,246.2 544.5,245.7 544.0,244.9 544.0,244.0 545.2,243.5 546.4,243.0 547.6,242.6 549.1,242.4 550.3,243.1 551.1,243.7 552.2,244.2" fill="#9e0808"/>
<polygon points="564.4,327.6 563.9,328.5 563.7,329.3 563.4,330.3 562.7,330.7 562.0,330.2 561.4,330.1 560.8,329.6 560.7,328.5 560.6,327.6 560.4,326.6 560.9,325.8 561.3,324.8 562.0,324.8 562.7,325.0 563.4,324.9 563.8,325.8 563.9,326.8" fill="#9e0808"/>
<rect x="371.5" y="203.6" width="1.6" height="1.6" fill="#8e0a0a"/>
<rect x="378.4" y="198.3" width="1.6" height="1.6" fill="#8e0a0a"/>
<rect x="375.4" y="200.0" width="1.6" height="1.6" fill="#8e0a0a"/>
<rect x="377.2" y="203.1" width="1.6" height="1.6" fill="#8e0a0a"/>
<rect x="371.0" y="196.3" width="1.6" height="1.6" fill="#8e0a0a"/>
<rect x="379.2" y="199.9" width="1.6" height="1.6" fill="#8e0a0a"/>
<rect x="378.4" y="196.0" width="1.6" height="1.6" fill="#8e0a0a"/>
<rect x="374.9" y="202.5" width="1.6" height="1.6" fill="#8e0a0a"/>
<rect x="372.5" y="204.5" width="1.6" height="1.6" fill="#8e0a0a"/>
<rect x="379.9" y="196.3" width="1.6" height="1.6" fill="#8e0a0a"/>
<rect x="370.3" y="200.9" width="1.6" height="1.6" fill="#8e0a0a"/>
<rect x="380.3" y="199.4" width="1.6" height="1.6" fill="#8e0a0a"/>
<rect x="372.4" y="199.8" width="1.6" height="1.6" fill="#8e0a0a"/>
<rect x="370.3" y="198.0" width="1.6" height="1.6" fill="#8e0a0a"/>
<rect x="446.3" y="306.2" width="1.6" height="1.6" fill="#8e0a0a"/>
<rect x="431.0" y="293.3" width="1.6" height="1.6" fill="#8e0a0a"/>
<rect x="444.2" y="303.0" width="1.6" height="1.6" fill="#8e0a0a"/>
<rect x="441.4" y="296.6" width="1.6" height="1.6" fill="#8e0a0a"/>
<rect x="440.3" y="301.1" width="1.6" height="1.6" fill="#8e0a0a"/>
<rect x="439.9" y="294.4" width="1.6" height="1.6" fill="#8e0a0a"/>
<rect x="437.3" y="297.9" width="1.6" height="1.6" fill="#8e0a0a"/>
<rect x="442.3" y="306.9" width="1.6" height="1.6" fill="#8e0a0a"/>
<rect x="446.1" y="300.2" width="1.6" height="1.6" fill="#8e0a0a"/>
<rect x="437.6" y="296.0" width="1.6" height="1.6" fill="#8e0a0a"/>
<rect x="430.6" y="292.4" width="1.6" height="1.6" fill="#8e0a0a"/>
<rect x="437.9" y="296.8" width="1.6" height="1.6" fill="#8e0a0a"/>
<rect x="436.5" y="305.4" width="1.6" height="1.6" fill="#8e0a0a"/>
<rect x="438.9" y="300.4" width="1.6" height="1.6" fill="#8e0a0a"/>
<rect x="434.0" y="292.4" width="1.6" height="1.6" fill="#8e0a0a"/>
<rect x="435.5" y="294.1" width="1.6" height="1.6" fill="#8e0a0a"/>
<rect x="438.7" y="307.0" width="1.6" height="1.6" fill="#8e0a0a"/>
<rect x="441.5" y="294.7" width="1.6" height="1.6" fill="#8e0a0a"/>
<rect x="445.2" y="304.0" width="1.6" height="1.6" fill="#8e0a0a"/>
<rect x="442.5" y="305.6" width="1.6" height="1.6" fill="#8e0a0a"/>
<rect x="443.0" y="303.8" width="1.6" height="1.6" fill="#8e0a0a"/>
<rect x="436.0" y="306.7" width="1.6" height="1.6" fill="#8e0a0a"/>
<rect x="446.4" y="294.4" width="1.6" height="1.6" fill="#8e0a0a"/>
<rect x="442.8" y="302.7" width="1.6" height="1.6" fill="#8e0a0a"/>
<rect x="437.8" y="300.0" width="1.6" height="1.6" fill="#8e0a0a"/>
<rect x="438.3" y="305.9" width="1.6" height="1.6" fill="#8e0a0a"/>
<rect x="438.5" y="304.5" width="1.6" height="1.6" fill="#8e0a0a"/>
<rect x="436.0" y="305.2" width="1.6" height="1.6" fill="#8e0a0a"/>
<rect x="445.3" y="298.9" width="1.6" height="1.6" fill="#8e0a0a"/>
<rect x="439.7" y="305.8" width="1.6" height="1.6" fill="#8e0a0a"/>
<rect x="418.7" y="223.4" width="1.2" height="1.2" fill="#8e0a0a"/>
<rect x="422.4" y="224.0" width="1.2" height="1.2" fill="#8e0a0a"/>
<rect x="429.5" y="218.7" width="1.2" height="1.2" fill="#8e0a0a"/>
<rect x="412.4" y="226.4" width="1.2" height="1.2" fill="#8e0a0a"/>
<rect x="419.3" y="220.3" width="1.2" height="1.2" fill="#8e0a0a"/>
<rect x="439.9" y="222.7" width="1.2" height="1.2" fill="#8e0a0a"/>
<rect x="435.4" y="222.8" width="1.2" height="1.2" fill="#8e0a0a"/>
<rect x="429.9" y="219.5" width="1.2" height="1.2" fill="#8e0a0a"/>
<rect x="336.9" y="123.8" width="1.6" height="1.6" fill="#8e0a0a"/>
<rect x="338.2" y="124.2" width="1.6" height="1.6" fill="#8e0a0a"/>
<rect x="335.5" y="126.2" width="1.6" height="1.6" fill="#8e0a0a"/>
<rect x="342.3" y="129.4" width="1.6" height="1.6" fill="#8e0a0a"/>
<rect x="341.1" y="124.8" width="1.6" height="1.6" fill="#8e0a0a"/>
<rect x="339.3" y="125.2" width="1.6" height="1.6" fill="#8e0a0a"/>
<text x="252.8" y="37.0" font-size="20.5" text-anchor="middle">Day 1</text>
<text x="357.8" y="37.0" font-size="20.5" text-anchor="middle">Day 3</text>
<text x="462.5" y="37.0" font-size="20.5" text-anchor="middle">Day 5</text>
<text x="567.3" y="37.0" font-size="20.5" text-anchor="middle">Day 7</text>
<text x="7.7" y="139.4" font-size="20.5">CON</text>
<text x="19.3" y="312.7" font-size="20.5">147</text>
<text x="67.3" y="397.2" font-size="20.5">Tumour</text>
<text x="186.5" y="396.0" font-size="20.5">Macrophage</text>
<line x1="307.4" y1="391.4" x2="595.0" y2="391.4" stroke="#000" stroke-width="1.6"/>
<polygon points="592.3,387.6 607.8,391.4 592.3,395.2" fill="#000"/>
<rect x="160.3" y="56.7" width="7.7" height="271.3" fill="url(#cbL)"/>
<line x1="168.0" y1="56.7" x2="173.0" y2="56.7" stroke="#333" stroke-width="0.6"/>
<line x1="168.0" y1="66.1" x2="171.5" y2="66.1" stroke="#333" stroke-width="0.6"/>
<line x1="168.0" y1="75.5" x2="171.5" y2="75.5" stroke="#333" stroke-width="0.6"/>
<line x1="168.0" y1="84.9" x2="171.5" y2="84.9" stroke="#333" stroke-width="0.6"/>
<line x1="168.0" y1="94.3" x2="171.5" y2="94.3" stroke="#333" stroke-width="0.6"/>
<line x1="168.0" y1="103.7" x2="173.0" y2="103.7" stroke="#333" stroke-width="0.6"/>
<line x1="168.0" y1="113.1" x2="171.5" y2="113.1" stroke="#333" stroke-width="0.6"/>
<line x1="168.0" y1="122.5" x2="171.5" y2="122.5" stroke="#333" stroke-width="0.6"/>
<line x1="168.0" y1="131.9" x2="171.5" y2="131.9" stroke="#333" stroke-width="0.6"/>
<line x1="168.0" y1="141.3" x2="171.5" y2="141.3" stroke="#333" stroke-width="0.6"/>
<line x1="168.0" y1="150.7" x2="173.0" y2="150.7" stroke="#333" stroke-width="0.6"/>
<line x1="168.0" y1="160.1" x2="171.5" y2="160.1" stroke="#333" stroke-width="0.6"/>
<line x1="168.0" y1="169.5" x2="171.5" y2="169.5" stroke="#333" stroke-width="0.6"/>
<line x1="168.0" y1="178.9" x2="171.5" y2="178.9" stroke="#333" stroke-width="0.6"/>
<line x1="168.0" y1="188.3" x2="171.5" y2="188.3" stroke="#333" stroke-width="0.6"/>
<line x1="168.0" y1="197.7" x2="173.0" y2="197.7" stroke="#333" stroke-width="0.6"/>
<line x1="168.0" y1="207.1" x2="171.5" y2="207.1" stroke="#333" stroke-width="0.6"/>
<line x1="168.0" y1="216.5" x2="171.5" y2="216.5" stroke="#333" stroke-width="0.6"/>
<line x1="168.0" y1="225.9" x2="171.5" y2="225.9" stroke="#333" stroke-width="0.6"/>
<line x1="168.0" y1="235.3" x2="171.5" y2="235.3" stroke="#333" stroke-width="0.6"/>
<line x1="168.0" y1="244.7" x2="173.0" y2="244.7" stroke="#333" stroke-width="0.6"/>
<line x1="168.0" y1="254.1" x2="171.5" y2="254.1" stroke="#333" stroke-width="0.6"/>
<line x1="168.0" y1="263.5" x2="171.5" y2="263.5" stroke="#333" stroke-width="0.6"/>
<line x1="168.0" y1="272.9" x2="171.5" y2="272.9" stroke="#333" stroke-width="0.6"/>
<line x1="168.0" y1="282.3" x2="171.5" y2="282.3" stroke="#333" stroke-width="0.6"/>
<line x1="168.0" y1="291.7" x2="173.0" y2="291.7" stroke="#333" stroke-width="0.6"/>
<line x1="168.0" y1="301.1" x2="171.5" y2="301.1" stroke="#333" stroke-width="0.6"/>
<line x1="168.0" y1="310.5" x2="171.5" y2="310.5" stroke="#333" stroke-width="0.6"/>
<line x1="168.0" y1="319.9" x2="171.5" y2="319.9" stroke="#333" stroke-width="0.6"/>
<text x="174.3" y="56.7" font-size="5.5" fill="#333">3.0</text>
<text x="174.3" y="103.9" font-size="5.5" fill="#333">2.5</text>
<text x="174.3" y="151.1" font-size="5.5" fill="#333">2.0</text>
<text x="174.3" y="197.5" font-size="5.5" fill="#333">1.5</text>
<text x="174.3" y="244.6" font-size="5.5" fill="#333">1.0</text>
<text x="174.3" y="291.7" font-size="5.5" fill="#333">0.5</text>
<text x="160.0" y="49.0" font-size="5.3" fill="#333">Luminescence</text>
<text x="186.1" y="192.0" font-size="5.5" fill="#333">x10<tspan dy="-2" font-size="4">8</tspan></text>
<text x="160.5" y="342.5" font-size="5.3" fill="#333">Radiance</text>
<text x="160.5" y="348.5" font-size="5.3" fill="#333">(p/sec/cm&#178;/sr)</text>
<rect x="160.3" y="356.4" width="36.3" height="21.2" fill="none" stroke="#666" stroke-width="0.7"/>
<text x="162.2" y="363.0" font-size="5.2" fill="#333">Color Scale</text>
<text x="162.2" y="369.0" font-size="5.2" fill="#333">Min = 1.00e7</text>
<text x="162.2" y="375.0" font-size="5.2" fill="#333">Max = 3.00e8</text>
<rect x="616.5" y="57.0" width="7.5" height="264.8" fill="url(#cbR)"/>
<line x1="624.0" y1="57.0" x2="629.0" y2="57.0" stroke="#333" stroke-width="0.6"/>
<line x1="624.0" y1="71.2" x2="627.5" y2="71.2" stroke="#333" stroke-width="0.6"/>
<line x1="624.0" y1="85.4" x2="627.5" y2="85.4" stroke="#333" stroke-width="0.6"/>
<line x1="624.0" y1="99.6" x2="627.5" y2="99.6" stroke="#333" stroke-width="0.6"/>
<line x1="624.0" y1="113.8" x2="627.5" y2="113.8" stroke="#333" stroke-width="0.6"/>
<line x1="624.0" y1="128.0" x2="629.0" y2="128.0" stroke="#333" stroke-width="0.6"/>
<line x1="624.0" y1="142.2" x2="627.5" y2="142.2" stroke="#333" stroke-width="0.6"/>
<line x1="624.0" y1="156.4" x2="627.5" y2="156.4" stroke="#333" stroke-width="0.6"/>
<line x1="624.0" y1="170.6" x2="627.5" y2="170.6" stroke="#333" stroke-width="0.6"/>
<line x1="624.0" y1="184.8" x2="627.5" y2="184.8" stroke="#333" stroke-width="0.6"/>
<line x1="624.0" y1="199.0" x2="629.0" y2="199.0" stroke="#333" stroke-width="0.6"/>
<line x1="624.0" y1="213.2" x2="627.5" y2="213.2" stroke="#333" stroke-width="0.6"/>
<line x1="624.0" y1="227.4" x2="627.5" y2="227.4" stroke="#333" stroke-width="0.6"/>
<line x1="624.0" y1="241.6" x2="627.5" y2="241.6" stroke="#333" stroke-width="0.6"/>
<line x1="624.0" y1="255.8" x2="627.5" y2="255.8" stroke="#333" stroke-width="0.6"/>
<line x1="624.0" y1="270.0" x2="629.0" y2="270.0" stroke="#333" stroke-width="0.6"/>
<line x1="624.0" y1="284.2" x2="627.5" y2="284.2" stroke="#333" stroke-width="0.6"/>
<line x1="624.0" y1="298.4" x2="627.5" y2="298.4" stroke="#333" stroke-width="0.6"/>
<line x1="624.0" y1="312.6" x2="627.5" y2="312.6" stroke="#333" stroke-width="0.6"/>
<text x="630.0" y="58.0" font-size="5.5" fill="#333">3.0</text>
<text x="630.0" y="129.2" font-size="5.5" fill="#333">2.5</text>
<text x="630.0" y="200.5" font-size="5.5" fill="#333">2.0</text>
<text x="630.0" y="271.6" font-size="5.5" fill="#333">1.5</text>
<text x="617.0" y="49.0" font-size="5.3" fill="#333">Epi-fluorescence</text>
<text x="642.4" y="188.0" font-size="5.5" fill="#333">x10<tspan dy="-2" font-size="4">7</tspan></text>
<text x="616.5" y="334.5" font-size="5.3" fill="#333">Radiant Efficiency</text>
<text x="617.0" y="340.5" font-size="4.6" fill="#333">(p/sec/cm&#178;/sr)</text>
<text x="625.0" y="346.0" font-size="4.6" fill="#333">&#181;W/cm&#178;</text>
<rect x="616.5" y="356.4" width="36.7" height="22.4" fill="none" stroke="#666" stroke-width="0.7"/>
<text x="618.5" y="363.0" font-size="5.2" fill="#333">Color Scale</text>
<text x="618.5" y="369.5" font-size="5.2" fill="#333">Min = 1.15e7</text>
<text x="618.5" y="376.0" font-size="5.2" fill="#333">Max = 3.00e7</text>
<text x="-0.5" y="476.0" font-size="42" font-weight="bold" fill="#000">e</text>
<rect x="54.7" y="491.4" width="186.5" height="187.5" fill="#2a2a2a" stroke="#0c0c0c" stroke-width="1.2"/>
<rect x="54.2" y="490.9" width="187.5" height="11.0" fill="#161616"/>
<rect x="62.2" y="491.9" width="3.0" height="9.0" fill="#3a3a3a"/>
<rect x="82.7" y="491.9" width="3.0" height="9.0" fill="#3a3a3a"/>
<rect x="103.2" y="491.9" width="3.0" height="9.0" fill="#3a3a3a"/>
<rect x="123.7" y="491.9" width="3.0" height="9.0" fill="#3a3a3a"/>
<rect x="144.2" y="491.9" width="3.0" height="9.0" fill="#3a3a3a"/>
<rect x="164.7" y="491.9" width="3.0" height="9.0" fill="#3a3a3a"/>
<rect x="185.2" y="491.9" width="3.0" height="9.0" fill="#3a3a3a"/>
<rect x="205.7" y="491.9" width="3.0" height="9.0" fill="#3a3a3a"/>
<rect x="226.2" y="491.9" width="3.0" height="9.0" fill="#3a3a3a"/>
<svg x="54.2" y="490.9" width="187.5" height="188.5" overflow="hidden">
<rect x="27.0" y="0.0" width="2.0" height="9.0" fill="#9a9a9a"/>
<rect x="33.0" y="0.0" width="2.0" height="9.0" fill="#9a9a9a"/>
<g transform="translate(31.0,7.0) scale(1.000,0.955)">
<path d="M0,128 C1.2,150 4.0,165 4.0,210" stroke="#a8a8a8" stroke-width="4.6" fill="none"/>
<path d="M-20,116 L-32,130 L-34,137 L-27,138 L-14,128 Z" fill="#b4b4b4"/><path d="M20,116 L32,130 L34,137 L27,138 L14,128 Z" fill="#b4b4b4"/>
<path d="M-18,44 L-26,36 L-24,31 L-17,35 L-13,40 Z" fill="#bcbcbc"/><path d="M18,44 L26,36 L24,31 L17,35 L13,40 Z" fill="#bcbcbc"/>
<path d="M0.0,0.0 C3.0,0.0 6.2,6.8 9.0,11.0 C11.8,15.2 15.0,20.5 17.0,25.0 C19.0,29.5 20.1,33.8 21.0,38.0 C21.9,42.2 21.9,43.8 22.5,50.0 C23.1,56.2 23.9,67.5 24.5,75.0 C25.1,82.5 25.7,89.2 26.0,95.0 C26.3,100.8 26.8,105.5 26.5,110.0 C26.2,114.5 25.4,118.7 24.0,122.0 C22.6,125.3 22.0,127.9 18.0,130.0 C14.0,132.1 6.0,134.5 0.0,134.5 C-6.0,134.5 -14.0,132.1 -18.0,130.0 C-22.0,127.9 -22.6,125.3 -24.0,122.0 C-25.4,118.7 -26.2,114.5 -26.5,110.0 C-26.8,105.5 -26.3,100.8 -26.0,95.0 C-25.7,89.2 -25.1,82.5 -24.5,75.0 C-23.9,67.5 -23.1,56.2 -22.5,50.0 C-21.9,43.8 -21.9,42.2 -21.0,38.0 C-20.1,33.8 -19.0,29.5 -17.0,25.0 C-15.0,20.5 -11.8,15.2 -9.0,11.0 C-6.2,6.8 -3.0,0.0 0.0,0.0 Z" fill="url(#lg)"/>
<ellipse cx="0" cy="24" rx="8" ry="11" fill="#9a9a9a" opacity="0.2"/>
</g>
<rect x="84.0" y="0.0" width="2.0" height="9.0" fill="#9a9a9a"/>
<rect x="90.0" y="0.0" width="2.0" height="9.0" fill="#9a9a9a"/>
<g transform="translate(88.0,7.0) scale(1.000,0.955)">
<path d="M0,128 C0.0,150 0.0,165 0.0,210" stroke="#a8a8a8" stroke-width="4.6" fill="none"/>
<path d="M-20,116 L-32,130 L-34,137 L-27,138 L-14,128 Z" fill="#b4b4b4"/><path d="M20,116 L32,130 L34,137 L27,138 L14,128 Z" fill="#b4b4b4"/>
<path d="M-18,44 L-26,36 L-24,31 L-17,35 L-13,40 Z" fill="#bcbcbc"/><path d="M18,44 L26,36 L24,31 L17,35 L13,40 Z" fill="#bcbcbc"/>
<path d="M0.0,0.0 C3.0,0.0 6.2,6.8 9.0,11.0 C11.8,15.2 15.0,20.5 17.0,25.0 C19.0,29.5 20.1,33.8 21.0,38.0 C21.9,42.2 21.9,43.8 22.5,50.0 C23.1,56.2 23.9,67.5 24.5,75.0 C25.1,82.5 25.7,89.2 26.0,95.0 C26.3,100.8 26.8,105.5 26.5,110.0 C26.2,114.5 25.4,118.7 24.0,122.0 C22.6,125.3 22.0,127.9 18.0,130.0 C14.0,132.1 6.0,134.5 0.0,134.5 C-6.0,134.5 -14.0,132.1 -18.0,130.0 C-22.0,127.9 -22.6,125.3 -24.0,122.0 C-25.4,118.7 -26.2,114.5 -26.5,110.0 C-26.8,105.5 -26.3,100.8 -26.0,95.0 C-25.7,89.2 -25.1,82.5 -24.5,75.0 C-23.9,67.5 -23.1,56.2 -22.5,50.0 C-21.9,43.8 -21.9,42.2 -21.0,38.0 C-20.1,33.8 -19.0,29.5 -17.0,25.0 C-15.0,20.5 -11.8,15.2 -9.0,11.0 C-6.2,6.8 -3.0,0.0 0.0,0.0 Z" fill="url(#lg)"/>
<ellipse cx="0" cy="24" rx="8" ry="11" fill="#9a9a9a" opacity="0.2"/>
</g>
<rect x="141.0" y="0.0" width="2.0" height="9.0" fill="#9a9a9a"/>
<rect x="147.0" y="0.0" width="2.0" height="9.0" fill="#9a9a9a"/>
<g transform="translate(145.0,7.0) scale(1.000,0.955)">
<path d="M0,128 C0.6,150 2.0,165 2.0,210" stroke="#a8a8a8" stroke-width="4.6" fill="none"/>
<path d="M-20,116 L-32,130 L-34,137 L-27,138 L-14,128 Z" fill="#b4b4b4"/><path d="M20,116 L32,130 L34,137 L27,138 L14,128 Z" fill="#b4b4b4"/>
<path d="M-18,44 L-26,36 L-24,31 L-17,35 L-13,40 Z" fill="#bcbcbc"/><path d="M18,44 L26,36 L24,31 L17,35 L13,40 Z" fill="#bcbcbc"/>
<path d="M0.0,0.0 C3.0,0.0 6.2,6.8 9.0,11.0 C11.8,15.2 15.0,20.5 17.0,25.0 C19.0,29.5 20.1,33.8 21.0,38.0 C21.9,42.2 21.9,43.8 22.5,50.0 C23.1,56.2 23.9,67.5 24.5,75.0 C25.1,82.5 25.7,89.2 26.0,95.0 C26.3,100.8 26.8,105.5 26.5,110.0 C26.2,114.5 25.4,118.7 24.0,122.0 C22.6,125.3 22.0,127.9 18.0,130.0 C14.0,132.1 6.0,134.5 0.0,134.5 C-6.0,134.5 -14.0,132.1 -18.0,130.0 C-22.0,127.9 -22.6,125.3 -24.0,122.0 C-25.4,118.7 -26.2,114.5 -26.5,110.0 C-26.8,105.5 -26.3,100.8 -26.0,95.0 C-25.7,89.2 -25.1,82.5 -24.5,75.0 C-23.9,67.5 -23.1,56.2 -22.5,50.0 C-21.9,43.8 -21.9,42.2 -21.0,38.0 C-20.1,33.8 -19.0,29.5 -17.0,25.0 C-15.0,20.5 -11.8,15.2 -9.0,11.0 C-6.2,6.8 -3.0,0.0 0.0,0.0 Z" fill="url(#lg)"/>
<ellipse cx="0" cy="24" rx="8" ry="11" fill="#9a9a9a" opacity="0.2"/>
</g>
</svg>
<rect x="256.6" y="491.4" width="186.5" height="187.5" fill="#2a2a2a" stroke="#0c0c0c" stroke-width="1.2"/>
<rect x="256.1" y="490.9" width="187.5" height="11.0" fill="#161616"/>
<rect x="264.1" y="491.9" width="3.0" height="9.0" fill="#3a3a3a"/>
<rect x="284.6" y="491.9" width="3.0" height="9.0" fill="#3a3a3a"/>
<rect x="305.1" y="491.9" width="3.0" height="9.0" fill="#3a3a3a"/>
<rect x="325.6" y="491.9" width="3.0" height="9.0" fill="#3a3a3a"/>
<rect x="346.1" y="491.9" width="3.0" height="9.0" fill="#3a3a3a"/>
<rect x="366.6" y="491.9" width="3.0" height="9.0" fill="#3a3a3a"/>
<rect x="387.1" y="491.9" width="3.0" height="9.0" fill="#3a3a3a"/>
<rect x="407.6" y="491.9" width="3.0" height="9.0" fill="#3a3a3a"/>
<rect x="428.1" y="491.9" width="3.0" height="9.0" fill="#3a3a3a"/>
<svg x="256.1" y="490.9" width="187.5" height="188.5" overflow="hidden">
<rect x="26.0" y="0.0" width="2.0" height="9.0" fill="#9a9a9a"/>
<rect x="32.0" y="0.0" width="2.0" height="9.0" fill="#9a9a9a"/>
<g transform="translate(30.0,7.0) scale(1.000,0.955)">
<path d="M0,128 C-2.2,150 -7.5,165 -7.5,210" stroke="#a8a8a8" stroke-width="4.6" fill="none"/>
<path d="M-20,116 L-32,130 L-34,137 L-27,138 L-14,128 Z" fill="#b4b4b4"/><path d="M20,116 L32,130 L34,137 L27,138 L14,128 Z" fill="#b4b4b4"/>
<path d="M-18,44 L-26,36 L-24,31 L-17,35 L-13,40 Z" fill="#bcbcbc"/><path d="M18,44 L26,36 L24,31 L17,35 L13,40 Z" fill="#bcbcbc"/>
<path d="M0.0,0.0 C3.0,0.0 6.2,6.8 9.0,11.0 C11.8,15.2 15.0,20.5 17.0,25.0 C19.0,29.5 20.1,33.8 21.0,38.0 C21.9,42.2 21.9,43.8 22.5,50.0 C23.1,56.2 23.9,67.5 24.5,75.0 C25.1,82.5 25.7,89.2 26.0,95.0 C26.3,100.8 26.8,105.5 26.5,110.0 C26.2,114.5 25.4,118.7 24.0,122.0 C22.6,125.3 22.0,127.9 18.0,130.0 C14.0,132.1 6.0,134.5 0.0,134.5 C-6.0,134.5 -14.0,132.1 -18.0,130.0 C-22.0,127.9 -22.6,125.3 -24.0,122.0 C-25.4,118.7 -26.2,114.5 -26.5,110.0 C-26.8,105.5 -26.3,100.8 -26.0,95.0 C-25.7,89.2 -25.1,82.5 -24.5,75.0 C-23.9,67.5 -23.1,56.2 -22.5,50.0 C-21.9,43.8 -21.9,42.2 -21.0,38.0 C-20.1,33.8 -19.0,29.5 -17.0,25.0 C-15.0,20.5 -11.8,15.2 -9.0,11.0 C-6.2,6.8 -3.0,0.0 0.0,0.0 Z" fill="url(#lg)"/>
<ellipse cx="0" cy="24" rx="8" ry="11" fill="#9a9a9a" opacity="0.2"/>
</g>
<rect x="85.5" y="0.0" width="2.0" height="9.0" fill="#9a9a9a"/>
<rect x="91.5" y="0.0" width="2.0" height="9.0" fill="#9a9a9a"/>
<g transform="translate(89.5,7.0) scale(1.000,0.955)">
<path d="M0,128 C-2.2,150 -7.5,165 -7.5,210" stroke="#a8a8a8" stroke-width="4.6" fill="none"/>
<path d="M-20,116 L-32,130 L-34,137 L-27,138 L-14,128 Z" fill="#b4b4b4"/><path d="M20,116 L32,130 L34,137 L27,138 L14,128 Z" fill="#b4b4b4"/>
<path d="M-18,44 L-26,36 L-24,31 L-17,35 L-13,40 Z" fill="#bcbcbc"/><path d="M18,44 L26,36 L24,31 L17,35 L13,40 Z" fill="#bcbcbc"/>
<path d="M0.0,0.0 C3.0,0.0 6.2,6.8 9.0,11.0 C11.8,15.2 15.0,20.5 17.0,25.0 C19.0,29.5 20.1,33.8 21.0,38.0 C21.9,42.2 21.9,43.8 22.5,50.0 C23.1,56.2 23.9,67.5 24.5,75.0 C25.1,82.5 25.7,89.2 26.0,95.0 C26.3,100.8 26.8,105.5 26.5,110.0 C26.2,114.5 25.4,118.7 24.0,122.0 C22.6,125.3 22.0,127.9 18.0,130.0 C14.0,132.1 6.0,134.5 0.0,134.5 C-6.0,134.5 -14.0,132.1 -18.0,130.0 C-22.0,127.9 -22.6,125.3 -24.0,122.0 C-25.4,118.7 -26.2,114.5 -26.5,110.0 C-26.8,105.5 -26.3,100.8 -26.0,95.0 C-25.7,89.2 -25.1,82.5 -24.5,75.0 C-23.9,67.5 -23.1,56.2 -22.5,50.0 C-21.9,43.8 -21.9,42.2 -21.0,38.0 C-20.1,33.8 -19.0,29.5 -17.0,25.0 C-15.0,20.5 -11.8,15.2 -9.0,11.0 C-6.2,6.8 -3.0,0.0 0.0,0.0 Z" fill="url(#lg)"/>
<ellipse cx="0" cy="24" rx="8" ry="11" fill="#9a9a9a" opacity="0.2"/>
</g>
<rect x="142.7" y="0.0" width="2.0" height="9.0" fill="#9a9a9a"/>
<rect x="148.7" y="0.0" width="2.0" height="9.0" fill="#9a9a9a"/>
<g transform="translate(146.7,7.0) scale(1.000,0.955)">
<path d="M0,128 C-0.8,150 -2.5,165 -2.5,210" stroke="#a8a8a8" stroke-width="4.6" fill="none"/>
<path d="M-20,116 L-32,130 L-34,137 L-27,138 L-14,128 Z" fill="#b4b4b4"/><path d="M20,116 L32,130 L34,137 L27,138 L14,128 Z" fill="#b4b4b4"/>
<path d="M-18,44 L-26,36 L-24,31 L-17,35 L-13,40 Z" fill="#bcbcbc"/><path d="M18,44 L26,36 L24,31 L17,35 L13,40 Z" fill="#bcbcbc"/>
<path d="M0.0,0.0 C3.0,0.0 6.2,6.8 9.0,11.0 C11.8,15.2 15.0,20.5 17.0,25.0 C19.0,29.5 20.1,33.8 21.0,38.0 C21.9,42.2 21.9,43.8 22.5,50.0 C23.1,56.2 23.9,67.5 24.5,75.0 C25.1,82.5 25.7,89.2 26.0,95.0 C26.3,100.8 26.8,105.5 26.5,110.0 C26.2,114.5 25.4,118.7 24.0,122.0 C22.6,125.3 22.0,127.9 18.0,130.0 C14.0,132.1 6.0,134.5 0.0,134.5 C-6.0,134.5 -14.0,132.1 -18.0,130.0 C-22.0,127.9 -22.6,125.3 -24.0,122.0 C-25.4,118.7 -26.2,114.5 -26.5,110.0 C-26.8,105.5 -26.3,100.8 -26.0,95.0 C-25.7,89.2 -25.1,82.5 -24.5,75.0 C-23.9,67.5 -23.1,56.2 -22.5,50.0 C-21.9,43.8 -21.9,42.2 -21.0,38.0 C-20.1,33.8 -19.0,29.5 -17.0,25.0 C-15.0,20.5 -11.8,15.2 -9.0,11.0 C-6.2,6.8 -3.0,0.0 0.0,0.0 Z" fill="url(#lg)"/>
<ellipse cx="0" cy="24" rx="8" ry="11" fill="#9a9a9a" opacity="0.2"/>
</g>
</svg>
<rect x="458.9" y="491.4" width="186.5" height="187.5" fill="#2a2a2a" stroke="#0c0c0c" stroke-width="1.2"/>
<rect x="458.4" y="490.9" width="187.5" height="11.0" fill="#161616"/>
<rect x="466.4" y="491.9" width="3.0" height="9.0" fill="#3a3a3a"/>
<rect x="486.9" y="491.9" width="3.0" height="9.0" fill="#3a3a3a"/>
<rect x="507.4" y="491.9" width="3.0" height="9.0" fill="#3a3a3a"/>
<rect x="527.9" y="491.9" width="3.0" height="9.0" fill="#3a3a3a"/>
<rect x="548.4" y="491.9" width="3.0" height="9.0" fill="#3a3a3a"/>
<rect x="568.9" y="491.9" width="3.0" height="9.0" fill="#3a3a3a"/>
<rect x="589.4" y="491.9" width="3.0" height="9.0" fill="#3a3a3a"/>
<rect x="609.9" y="491.9" width="3.0" height="9.0" fill="#3a3a3a"/>
<rect x="630.4" y="491.9" width="3.0" height="9.0" fill="#3a3a3a"/>
<svg x="458.4" y="490.9" width="187.5" height="188.5" overflow="hidden">
<rect x="28.0" y="0.0" width="2.0" height="9.0" fill="#9a9a9a"/>
<rect x="34.0" y="0.0" width="2.0" height="9.0" fill="#9a9a9a"/>
<g transform="translate(32.0,7.0) scale(1.000,0.955)">
<path d="M0,128 C-1.5,150 -5.0,165 -5.0,210" stroke="#a8a8a8" stroke-width="4.6" fill="none"/>
<path d="M-20,116 L-32,130 L-34,137 L-27,138 L-14,128 Z" fill="#b4b4b4"/><path d="M20,116 L32,130 L34,137 L27,138 L14,128 Z" fill="#b4b4b4"/>
<path d="M-18,44 L-26,36 L-24,31 L-17,35 L-13,40 Z" fill="#bcbcbc"/><path d="M18,44 L26,36 L24,31 L17,35 L13,40 Z" fill="#bcbcbc"/>
<path d="M0.0,0.0 C3.0,0.0 6.2,6.8 9.0,11.0 C11.8,15.2 15.0,20.5 17.0,25.0 C19.0,29.5 20.1,33.8 21.0,38.0 C21.9,42.2 21.9,43.8 22.5,50.0 C23.1,56.2 23.9,67.5 24.5,75.0 C25.1,82.5 25.7,89.2 26.0,95.0 C26.3,100.8 26.8,105.5 26.5,110.0 C26.2,114.5 25.4,118.7 24.0,122.0 C22.6,125.3 22.0,127.9 18.0,130.0 C14.0,132.1 6.0,134.5 0.0,134.5 C-6.0,134.5 -14.0,132.1 -18.0,130.0 C-22.0,127.9 -22.6,125.3 -24.0,122.0 C-25.4,118.7 -26.2,114.5 -26.5,110.0 C-26.8,105.5 -26.3,100.8 -26.0,95.0 C-25.7,89.2 -25.1,82.5 -24.5,75.0 C-23.9,67.5 -23.1,56.2 -22.5,50.0 C-21.9,43.8 -21.9,42.2 -21.0,38.0 C-20.1,33.8 -19.0,29.5 -17.0,25.0 C-15.0,20.5 -11.8,15.2 -9.0,11.0 C-6.2,6.8 -3.0,0.0 0.0,0.0 Z" fill="url(#lg)"/>
<ellipse cx="0" cy="24" rx="8" ry="11" fill="#9a9a9a" opacity="0.2"/>
</g>
<rect x="86.0" y="0.0" width="2.0" height="9.0" fill="#9a9a9a"/>
<rect x="92.0" y="0.0" width="2.0" height="9.0" fill="#9a9a9a"/>
<g transform="translate(90.0,7.0) scale(1.000,0.955)">
<path d="M0,128 C-0.3,150 -1.0,165 -1.0,210" stroke="#a8a8a8" stroke-width="4.6" fill="none"/>
<path d="M-20,116 L-32,130 L-34,137 L-27,138 L-14,128 Z" fill="#b4b4b4"/><path d="M20,116 L32,130 L34,137 L27,138 L14,128 Z" fill="#b4b4b4"/>
<path d="M-18,44 L-26,36 L-24,31 L-17,35 L-13,40 Z" fill="#bcbcbc"/><path d="M18,44 L26,36 L24,31 L17,35 L13,40 Z" fill="#bcbcbc"/>
<path d="M0.0,0.0 C3.0,0.0 6.2,6.8 9.0,11.0 C11.8,15.2 15.0,20.5 17.0,25.0 C19.0,29.5 20.1,33.8 21.0,38.0 C21.9,42.2 21.9,43.8 22.5,50.0 C23.1,56.2 23.9,67.5 24.5,75.0 C25.1,82.5 25.7,89.2 26.0,95.0 C26.3,100.8 26.8,105.5 26.5,110.0 C26.2,114.5 25.4,118.7 24.0,122.0 C22.6,125.3 22.0,127.9 18.0,130.0 C14.0,132.1 6.0,134.5 0.0,134.5 C-6.0,134.5 -14.0,132.1 -18.0,130.0 C-22.0,127.9 -22.6,125.3 -24.0,122.0 C-25.4,118.7 -26.2,114.5 -26.5,110.0 C-26.8,105.5 -26.3,100.8 -26.0,95.0 C-25.7,89.2 -25.1,82.5 -24.5,75.0 C-23.9,67.5 -23.1,56.2 -22.5,50.0 C-21.9,43.8 -21.9,42.2 -21.0,38.0 C-20.1,33.8 -19.0,29.5 -17.0,25.0 C-15.0,20.5 -11.8,15.2 -9.0,11.0 C-6.2,6.8 -3.0,0.0 0.0,0.0 Z" fill="url(#lg)"/>
<ellipse cx="0" cy="24" rx="8" ry="11" fill="#9a9a9a" opacity="0.2"/>
</g>
<rect x="144.0" y="0.0" width="2.0" height="9.0" fill="#9a9a9a"/>
<rect x="150.0" y="0.0" width="2.0" height="9.0" fill="#9a9a9a"/>
<g transform="translate(148.0,7.0) scale(1.000,0.955)">
<path d="M0,128 C-7.2,150 -24.0,165 -24.0,210" stroke="#a8a8a8" stroke-width="4.6" fill="none"/>
<path d="M-20,116 L-32,130 L-34,137 L-27,138 L-14,128 Z" fill="#b4b4b4"/><path d="M20,116 L32,130 L34,137 L27,138 L14,128 Z" fill="#b4b4b4"/>
<path d="M-18,44 L-26,36 L-24,31 L-17,35 L-13,40 Z" fill="#bcbcbc"/><path d="M18,44 L26,36 L24,31 L17,35 L13,40 Z" fill="#bcbcbc"/>
<path d="M0.0,0.0 C3.0,0.0 6.2,6.8 9.0,11.0 C11.8,15.2 15.0,20.5 17.0,25.0 C19.0,29.5 20.1,33.8 21.0,38.0 C21.9,42.2 21.9,43.8 22.5,50.0 C23.1,56.2 23.9,67.5 24.5,75.0 C25.1,82.5 25.7,89.2 26.0,95.0 C26.3,100.8 26.8,105.5 26.5,110.0 C26.2,114.5 25.4,118.7 24.0,122.0 C22.6,125.3 22.0,127.9 18.0,130.0 C14.0,132.1 6.0,134.5 0.0,134.5 C-6.0,134.5 -14.0,132.1 -18.0,130.0 C-22.0,127.9 -22.6,125.3 -24.0,122.0 C-25.4,118.7 -26.2,114.5 -26.5,110.0 C-26.8,105.5 -26.3,100.8 -26.0,95.0 C-25.7,89.2 -25.1,82.5 -24.5,75.0 C-23.9,67.5 -23.1,56.2 -22.5,50.0 C-21.9,43.8 -21.9,42.2 -21.0,38.0 C-20.1,33.8 -19.0,29.5 -17.0,25.0 C-15.0,20.5 -11.8,15.2 -9.0,11.0 C-6.2,6.8 -3.0,0.0 0.0,0.0 Z" fill="url(#lg)"/>
<ellipse cx="0" cy="24" rx="8" ry="11" fill="#9a9a9a" opacity="0.2"/>
</g>
</svg>
<rect x="663.1" y="491.4" width="186.5" height="187.5" fill="#2a2a2a" stroke="#0c0c0c" stroke-width="1.2"/>
<rect x="662.6" y="490.9" width="187.5" height="11.0" fill="#161616"/>
<rect x="670.6" y="491.9" width="3.0" height="9.0" fill="#3a3a3a"/>
<rect x="691.1" y="491.9" width="3.0" height="9.0" fill="#3a3a3a"/>
<rect x="711.6" y="491.9" width="3.0" height="9.0" fill="#3a3a3a"/>
<rect x="732.1" y="491.9" width="3.0" height="9.0" fill="#3a3a3a"/>
<rect x="752.6" y="491.9" width="3.0" height="9.0" fill="#3a3a3a"/>
<rect x="773.1" y="491.9" width="3.0" height="9.0" fill="#3a3a3a"/>
<rect x="793.6" y="491.9" width="3.0" height="9.0" fill="#3a3a3a"/>
<rect x="814.1" y="491.9" width="3.0" height="9.0" fill="#3a3a3a"/>
<rect x="834.6" y="491.9" width="3.0" height="9.0" fill="#3a3a3a"/>
<svg x="662.6" y="490.9" width="187.5" height="188.5" overflow="hidden">
<rect x="38.4" y="0.0" width="2.0" height="9.0" fill="#9a9a9a"/>
<rect x="44.4" y="0.0" width="2.0" height="9.0" fill="#9a9a9a"/>
<g transform="translate(42.4,7.0) scale(1.000,0.955)">
<path d="M0,128 C3.8,150 12.6,165 12.6,210" stroke="#a8a8a8" stroke-width="4.6" fill="none"/>
<path d="M-20,116 L-32,130 L-34,137 L-27,138 L-14,128 Z" fill="#b4b4b4"/><path d="M20,116 L32,130 L34,137 L27,138 L14,128 Z" fill="#b4b4b4"/>
<path d="M-18,44 L-26,36 L-24,31 L-17,35 L-13,40 Z" fill="#bcbcbc"/><path d="M18,44 L26,36 L24,31 L17,35 L13,40 Z" fill="#bcbcbc"/>
<path d="M0.0,0.0 C3.0,0.0 6.2,6.8 9.0,11.0 C11.8,15.2 15.0,20.5 17.0,25.0 C19.0,29.5 20.1,33.8 21.0,38.0 C21.9,42.2 21.9,43.8 22.5,50.0 C23.1,56.2 23.9,67.5 24.5,75.0 C25.1,82.5 25.7,89.2 26.0,95.0 C26.3,100.8 26.8,105.5 26.5,110.0 C26.2,114.5 25.4,118.7 24.0,122.0 C22.6,125.3 22.0,127.9 18.0,130.0 C14.0,132.1 6.0,134.5 0.0,134.5 C-6.0,134.5 -14.0,132.1 -18.0,130.0 C-22.0,127.9 -22.6,125.3 -24.0,122.0 C-25.4,118.7 -26.2,114.5 -26.5,110.0 C-26.8,105.5 -26.3,100.8 -26.0,95.0 C-25.7,89.2 -25.1,82.5 -24.5,75.0 C-23.9,67.5 -23.1,56.2 -22.5,50.0 C-21.9,43.8 -21.9,42.2 -21.0,38.0 C-20.1,33.8 -19.0,29.5 -17.0,25.0 C-15.0,20.5 -11.8,15.2 -9.0,11.0 C-6.2,6.8 -3.0,0.0 0.0,0.0 Z" fill="url(#lg)"/>
<ellipse cx="0" cy="24" rx="8" ry="11" fill="#9a9a9a" opacity="0.2"/>
</g>
<rect x="99.0" y="0.0" width="2.0" height="9.0" fill="#9a9a9a"/>
<rect x="105.0" y="0.0" width="2.0" height="9.0" fill="#9a9a9a"/>
<g transform="translate(103.0,7.0) scale(1.000,0.955)">
<path d="M0,128 C2.3,150 7.6,165 7.6,210" stroke="#a8a8a8" stroke-width="4.6" fill="none"/>
<path d="M-20,116 L-32,130 L-34,137 L-27,138 L-14,128 Z" fill="#b4b4b4"/><path d="M20,116 L32,130 L34,137 L27,138 L14,128 Z" fill="#b4b4b4"/>
<path d="M-18,44 L-26,36 L-24,31 L-17,35 L-13,40 Z" fill="#bcbcbc"/><path d="M18,44 L26,36 L24,31 L17,35 L13,40 Z" fill="#bcbcbc"/>
<path d="M0.0,0.0 C3.0,0.0 6.2,6.8 9.0,11.0 C11.8,15.2 15.0,20.5 17.0,25.0 C19.0,29.5 20.1,33.8 21.0,38.0 C21.9,42.2 21.9,43.8 22.5,50.0 C23.1,56.2 23.9,67.5 24.5,75.0 C25.1,82.5 25.7,89.2 26.0,95.0 C26.3,100.8 26.8,105.5 26.5,110.0 C26.2,114.5 25.4,118.7 24.0,122.0 C22.6,125.3 22.0,127.9 18.0,130.0 C14.0,132.1 6.0,134.5 0.0,134.5 C-6.0,134.5 -14.0,132.1 -18.0,130.0 C-22.0,127.9 -22.6,125.3 -24.0,122.0 C-25.4,118.7 -26.2,114.5 -26.5,110.0 C-26.8,105.5 -26.3,100.8 -26.0,95.0 C-25.7,89.2 -25.1,82.5 -24.5,75.0 C-23.9,67.5 -23.1,56.2 -22.5,50.0 C-21.9,43.8 -21.9,42.2 -21.0,38.0 C-20.1,33.8 -19.0,29.5 -17.0,25.0 C-15.0,20.5 -11.8,15.2 -9.0,11.0 C-6.2,6.8 -3.0,0.0 0.0,0.0 Z" fill="url(#lg)"/>
<ellipse cx="0" cy="24" rx="8" ry="11" fill="#9a9a9a" opacity="0.2"/>
</g>
<rect x="159.5" y="0.0" width="2.0" height="9.0" fill="#9a9a9a"/>
<rect x="165.5" y="0.0" width="2.0" height="9.0" fill="#9a9a9a"/>
<g transform="translate(163.5,7.0) scale(1.000,0.955)">
<path d="M0,128 C-3.8,150 -12.6,165 -12.6,210" stroke="#a8a8a8" stroke-width="4.6" fill="none"/>
<path d="M-20,116 L-32,130 L-34,137 L-27,138 L-14,128 Z" fill="#b4b4b4"/><path d="M20,116 L32,130 L34,137 L27,138 L14,128 Z" fill="#b4b4b4"/>
<path d="M-18,44 L-26,36 L-24,31 L-17,35 L-13,40 Z" fill="#bcbcbc"/><path d="M18,44 L26,36 L24,31 L17,35 L13,40 Z" fill="#bcbcbc"/>
<path d="M0.0,0.0 C3.0,0.0 6.2,6.8 9.0,11.0 C11.8,15.2 15.0,20.5 17.0,25.0 C19.0,29.5 20.1,33.8 21.0,38.0 C21.9,42.2 21.9,43.8 22.5,50.0 C23.1,56.2 23.9,67.5 24.5,75.0 C25.1,82.5 25.7,89.2 26.0,95.0 C26.3,100.8 26.8,105.5 26.5,110.0 C26.2,114.5 25.4,118.7 24.0,122.0 C22.6,125.3 22.0,127.9 18.0,130.0 C14.0,132.1 6.0,134.5 0.0,134.5 C-6.0,134.5 -14.0,132.1 -18.0,130.0 C-22.0,127.9 -22.6,125.3 -24.0,122.0 C-25.4,118.7 -26.2,114.5 -26.5,110.0 C-26.8,105.5 -26.3,100.8 -26.0,95.0 C-25.7,89.2 -25.1,82.5 -24.5,75.0 C-23.9,67.5 -23.1,56.2 -22.5,50.0 C-21.9,43.8 -21.9,42.2 -21.0,38.0 C-20.1,33.8 -19.0,29.5 -17.0,25.0 C-15.0,20.5 -11.8,15.2 -9.0,11.0 C-6.2,6.8 -3.0,0.0 0.0,0.0 Z" fill="url(#lg)"/>
<ellipse cx="0" cy="24" rx="8" ry="11" fill="#9a9a9a" opacity="0.2"/>
</g>
</svg>
<rect x="54.7" y="693.5" width="186.5" height="187.5" fill="#2a2a2a" stroke="#0c0c0c" stroke-width="1.2"/>
<rect x="54.2" y="693.0" width="187.5" height="11.0" fill="#161616"/>
<rect x="62.2" y="694.0" width="3.0" height="9.0" fill="#3a3a3a"/>
<rect x="82.7" y="694.0" width="3.0" height="9.0" fill="#3a3a3a"/>
<rect x="103.2" y="694.0" width="3.0" height="9.0" fill="#3a3a3a"/>
<rect x="123.7" y="694.0" width="3.0" height="9.0" fill="#3a3a3a"/>
<rect x="144.2" y="694.0" width="3.0" height="9.0" fill="#3a3a3a"/>
<rect x="164.7" y="694.0" width="3.0" height="9.0" fill="#3a3a3a"/>
<rect x="185.2" y="694.0" width="3.0" height="9.0" fill="#3a3a3a"/>
<rect x="205.7" y="694.0" width="3.0" height="9.0" fill="#3a3a3a"/>
<rect x="226.2" y="694.0" width="3.0" height="9.0" fill="#3a3a3a"/>
<svg x="54.2" y="693.0" width="187.5" height="188.5" overflow="hidden">
<rect x="27.0" y="0.0" width="2.0" height="9.0" fill="#9a9a9a"/>
<rect x="33.0" y="0.0" width="2.0" height="9.0" fill="#9a9a9a"/>
<g transform="translate(31.0,7.0) scale(1.000,0.955)">
<path d="M0,128 C1.7,150 5.6,165 5.6,210" stroke="#a8a8a8" stroke-width="4.6" fill="none"/>
<path d="M-20,116 L-32,130 L-34,137 L-27,138 L-14,128 Z" fill="#b4b4b4"/><path d="M20,116 L32,130 L34,137 L27,138 L14,128 Z" fill="#b4b4b4"/>
<path d="M-18,44 L-26,36 L-24,31 L-17,35 L-13,40 Z" fill="#bcbcbc"/><path d="M18,44 L26,36 L24,31 L17,35 L13,40 Z" fill="#bcbcbc"/>
<path d="M0.0,0.0 C3.0,0.0 6.2,6.8 9.0,11.0 C11.8,15.2 15.0,20.5 17.0,25.0 C19.0,29.5 20.1,33.8 21.0,38.0 C21.9,42.2 21.9,43.8 22.5,50.0 C23.1,56.2 23.9,67.5 24.5,75.0 C25.1,82.5 25.7,89.2 26.0,95.0 C26.3,100.8 26.8,105.5 26.5,110.0 C26.2,114.5 25.4,118.7 24.0,122.0 C22.6,125.3 22.0,127.9 18.0,130.0 C14.0,132.1 6.0,134.5 0.0,134.5 C-6.0,134.5 -14.0,132.1 -18.0,130.0 C-22.0,127.9 -22.6,125.3 -24.0,122.0 C-25.4,118.7 -26.2,114.5 -26.5,110.0 C-26.8,105.5 -26.3,100.8 -26.0,95.0 C-25.7,89.2 -25.1,82.5 -24.5,75.0 C-23.9,67.5 -23.1,56.2 -22.5,50.0 C-21.9,43.8 -21.9,42.2 -21.0,38.0 C-20.1,33.8 -19.0,29.5 -17.0,25.0 C-15.0,20.5 -11.8,15.2 -9.0,11.0 C-6.2,6.8 -3.0,0.0 0.0,0.0 Z" fill="url(#lg)"/>
<ellipse cx="0" cy="24" rx="8" ry="11" fill="#9a9a9a" opacity="0.2"/>
</g>
<rect x="84.0" y="0.0" width="2.0" height="9.0" fill="#9a9a9a"/>
<rect x="90.0" y="0.0" width="2.0" height="9.0" fill="#9a9a9a"/>
<g transform="translate(88.0,7.0) scale(1.000,0.955)">
<path d="M0,128 C-2.8,150 -9.3,165 -9.3,210" stroke="#a8a8a8" stroke-width="4.6" fill="none"/>
<path d="M-20,116 L-32,130 L-34,137 L-27,138 L-14,128 Z" fill="#b4b4b4"/><path d="M20,116 L32,130 L34,137 L27,138 L14,128 Z" fill="#b4b4b4"/>
<path d="M-18,44 L-26,36 L-24,31 L-17,35 L-13,40 Z" fill="#bcbcbc"/><path d="M18,44 L26,36 L24,31 L17,35 L13,40 Z" fill="#bcbcbc"/>
<path d="M0.0,0.0 C3.0,0.0 6.2,6.8 9.0,11.0 C11.8,15.2 15.0,20.5 17.0,25.0 C19.0,29.5 20.1,33.8 21.0,38.0 C21.9,42.2 21.9,43.8 22.5,50.0 C23.1,56.2 23.9,67.5 24.5,75.0 C25.1,82.5 25.7,89.2 26.0,95.0 C26.3,100.8 26.8,105.5 26.5,110.0 C26.2,114.5 25.4,118.7 24.0,122.0 C22.6,125.3 22.0,127.9 18.0,130.0 C14.0,132.1 6.0,134.5 0.0,134.5 C-6.0,134.5 -14.0,132.1 -18.0,130.0 C-22.0,127.9 -22.6,125.3 -24.0,122.0 C-25.4,118.7 -26.2,114.5 -26.5,110.0 C-26.8,105.5 -26.3,100.8 -26.0,95.0 C-25.7,89.2 -25.1,82.5 -24.5,75.0 C-23.9,67.5 -23.1,56.2 -22.5,50.0 C-21.9,43.8 -21.9,42.2 -21.0,38.0 C-20.1,33.8 -19.0,29.5 -17.0,25.0 C-15.0,20.5 -11.8,15.2 -9.0,11.0 C-6.2,6.8 -3.0,0.0 0.0,0.0 Z" fill="url(#lg)"/>
<ellipse cx="0" cy="24" rx="8" ry="11" fill="#9a9a9a" opacity="0.2"/>
</g>
<rect x="141.0" y="0.0" width="2.0" height="9.0" fill="#9a9a9a"/>
<rect x="147.0" y="0.0" width="2.0" height="9.0" fill="#9a9a9a"/>
<g transform="translate(145.0,7.0) scale(1.000,0.955)">
<path d="M0,128 C-8.4,150 -28.0,165 -28.0,210" stroke="#a8a8a8" stroke-width="4.6" fill="none"/>
<path d="M-20,116 L-32,130 L-34,137 L-27,138 L-14,128 Z" fill="#b4b4b4"/><path d="M20,116 L32,130 L34,137 L27,138 L14,128 Z" fill="#b4b4b4"/>
<path d="M-18,44 L-26,36 L-24,31 L-17,35 L-13,40 Z" fill="#bcbcbc"/><path d="M18,44 L26,36 L24,31 L17,35 L13,40 Z" fill="#bcbcbc"/>
<path d="M0.0,0.0 C3.0,0.0 6.2,6.8 9.0,11.0 C11.8,15.2 15.0,20.5 17.0,25.0 C19.0,29.5 20.1,33.8 21.0,38.0 C21.9,42.2 21.9,43.8 22.5,50.0 C23.1,56.2 23.9,67.5 24.5,75.0 C25.1,82.5 25.7,89.2 26.0,95.0 C26.3,100.8 26.8,105.5 26.5,110.0 C26.2,114.5 25.4,118.7 24.0,122.0 C22.6,125.3 22.0,127.9 18.0,130.0 C14.0,132.1 6.0,134.5 0.0,134.5 C-6.0,134.5 -14.0,132.1 -18.0,130.0 C-22.0,127.9 -22.6,125.3 -24.0,122.0 C-25.4,118.7 -26.2,114.5 -26.5,110.0 C-26.8,105.5 -26.3,100.8 -26.0,95.0 C-25.7,89.2 -25.1,82.5 -24.5,75.0 C-23.9,67.5 -23.1,56.2 -22.5,50.0 C-21.9,43.8 -21.9,42.2 -21.0,38.0 C-20.1,33.8 -19.0,29.5 -17.0,25.0 C-15.0,20.5 -11.8,15.2 -9.0,11.0 C-6.2,6.8 -3.0,0.0 0.0,0.0 Z" fill="url(#lg)"/>
<ellipse cx="0" cy="24" rx="8" ry="11" fill="#9a9a9a" opacity="0.2"/>
</g>
</svg>
<rect x="256.6" y="693.5" width="186.5" height="187.5" fill="#2a2a2a" stroke="#0c0c0c" stroke-width="1.2"/>
<rect x="256.1" y="693.0" width="187.5" height="11.0" fill="#161616"/>
<rect x="264.1" y="694.0" width="3.0" height="9.0" fill="#3a3a3a"/>
<rect x="284.6" y="694.0" width="3.0" height="9.0" fill="#3a3a3a"/>
<rect x="305.1" y="694.0" width="3.0" height="9.0" fill="#3a3a3a"/>
<rect x="325.6" y="694.0" width="3.0" height="9.0" fill="#3a3a3a"/>
<rect x="346.1" y="694.0" width="3.0" height="9.0" fill="#3a3a3a"/>
<rect x="366.6" y="694.0" width="3.0" height="9.0" fill="#3a3a3a"/>
<rect x="387.1" y="694.0" width="3.0" height="9.0" fill="#3a3a3a"/>
<rect x="407.6" y="694.0" width="3.0" height="9.0" fill="#3a3a3a"/>
<rect x="428.1" y="694.0" width="3.0" height="9.0" fill="#3a3a3a"/>
<svg x="256.1" y="693.0" width="187.5" height="188.5" overflow="hidden">
<rect x="26.0" y="0.0" width="2.0" height="9.0" fill="#9a9a9a"/>
<rect x="32.0" y="0.0" width="2.0" height="9.0" fill="#9a9a9a"/>
<g transform="translate(30.0,7.0) scale(1.000,0.955)">
<path d="M0,128 C0.6,150 2.0,165 2.0,210" stroke="#a8a8a8" stroke-width="4.6" fill="none"/>
<path d="M-20,116 L-32,130 L-34,137 L-27,138 L-14,128 Z" fill="#b4b4b4"/><path d="M20,116 L32,130 L34,137 L27,138 L14,128 Z" fill="#b4b4b4"/>
<path d="M-18,44 L-26,36 L-24,31 L-17,35 L-13,40 Z" fill="#bcbcbc"/><path d="M18,44 L26,36 L24,31 L17,35 L13,40 Z" fill="#bcbcbc"/>
<path d="M0.0,0.0 C3.0,0.0 6.2,6.8 9.0,11.0 C11.8,15.2 15.0,20.5 17.0,25.0 C19.0,29.5 20.1,33.8 21.0,38.0 C21.9,42.2 21.9,43.8 22.5,50.0 C23.1,56.2 23.9,67.5 24.5,75.0 C25.1,82.5 25.7,89.2 26.0,95.0 C26.3,100.8 26.8,105.5 26.5,110.0 C26.2,114.5 25.4,118.7 24.0,122.0 C22.6,125.3 22.0,127.9 18.0,130.0 C14.0,132.1 6.0,134.5 0.0,134.5 C-6.0,134.5 -14.0,132.1 -18.0,130.0 C-22.0,127.9 -22.6,125.3 -24.0,122.0 C-25.4,118.7 -26.2,114.5 -26.5,110.0 C-26.8,105.5 -26.3,100.8 -26.0,95.0 C-25.7,89.2 -25.1,82.5 -24.5,75.0 C-23.9,67.5 -23.1,56.2 -22.5,50.0 C-21.9,43.8 -21.9,42.2 -21.0,38.0 C-20.1,33.8 -19.0,29.5 -17.0,25.0 C-15.0,20.5 -11.8,15.2 -9.0,11.0 C-6.2,6.8 -3.0,0.0 0.0,0.0 Z" fill="url(#lg)"/>
<ellipse cx="0" cy="24" rx="8" ry="11" fill="#9a9a9a" opacity="0.2"/>
</g>
<rect x="85.5" y="0.0" width="2.0" height="9.0" fill="#9a9a9a"/>
<rect x="91.5" y="0.0" width="2.0" height="9.0" fill="#9a9a9a"/>
<g transform="translate(89.5,7.0) scale(1.000,0.955)">
<path d="M0,128 C1.7,150 5.6,165 5.6,210" stroke="#a8a8a8" stroke-width="4.6" fill="none"/>
<path d="M-20,116 L-32,130 L-34,137 L-27,138 L-14,128 Z" fill="#b4b4b4"/><path d="M20,116 L32,130 L34,137 L27,138 L14,128 Z" fill="#b4b4b4"/>
<path d="M-18,44 L-26,36 L-24,31 L-17,35 L-13,40 Z" fill="#bcbcbc"/><path d="M18,44 L26,36 L24,31 L17,35 L13,40 Z" fill="#bcbcbc"/>
<path d="M0.0,0.0 C3.0,0.0 6.2,6.8 9.0,11.0 C11.8,15.2 15.0,20.5 17.0,25.0 C19.0,29.5 20.1,33.8 21.0,38.0 C21.9,42.2 21.9,43.8 22.5,50.0 C23.1,56.2 23.9,67.5 24.5,75.0 C25.1,82.5 25.7,89.2 26.0,95.0 C26.3,100.8 26.8,105.5 26.5,110.0 C26.2,114.5 25.4,118.7 24.0,122.0 C22.6,125.3 22.0,127.9 18.0,130.0 C14.0,132.1 6.0,134.5 0.0,134.5 C-6.0,134.5 -14.0,132.1 -18.0,130.0 C-22.0,127.9 -22.6,125.3 -24.0,122.0 C-25.4,118.7 -26.2,114.5 -26.5,110.0 C-26.8,105.5 -26.3,100.8 -26.0,95.0 C-25.7,89.2 -25.1,82.5 -24.5,75.0 C-23.9,67.5 -23.1,56.2 -22.5,50.0 C-21.9,43.8 -21.9,42.2 -21.0,38.0 C-20.1,33.8 -19.0,29.5 -17.0,25.0 C-15.0,20.5 -11.8,15.2 -9.0,11.0 C-6.2,6.8 -3.0,0.0 0.0,0.0 Z" fill="url(#lg)"/>
<ellipse cx="0" cy="24" rx="8" ry="11" fill="#9a9a9a" opacity="0.2"/>
</g>
<rect x="142.7" y="0.0" width="2.0" height="9.0" fill="#9a9a9a"/>
<rect x="148.7" y="0.0" width="2.0" height="9.0" fill="#9a9a9a"/>
<g transform="translate(146.7,7.0) scale(1.000,0.955)">
<path d="M0,128 C-3.9,150 -13.0,165 -13.0,210" stroke="#a8a8a8" stroke-width="4.6" fill="none"/>
<path d="M-20,116 L-32,130 L-34,137 L-27,138 L-14,128 Z" fill="#b4b4b4"/><path d="M20,116 L32,130 L34,137 L27,138 L14,128 Z" fill="#b4b4b4"/>
<path d="M-18,44 L-26,36 L-24,31 L-17,35 L-13,40 Z" fill="#bcbcbc"/><path d="M18,44 L26,36 L24,31 L17,35 L13,40 Z" fill="#bcbcbc"/>
<path d="M0.0,0.0 C3.0,0.0 6.2,6.8 9.0,11.0 C11.8,15.2 15.0,20.5 17.0,25.0 C19.0,29.5 20.1,33.8 21.0,38.0 C21.9,42.2 21.9,43.8 22.5,50.0 C23.1,56.2 23.9,67.5 24.5,75.0 C25.1,82.5 25.7,89.2 26.0,95.0 C26.3,100.8 26.8,105.5 26.5,110.0 C26.2,114.5 25.4,118.7 24.0,122.0 C22.6,125.3 22.0,127.9 18.0,130.0 C14.0,132.1 6.0,134.5 0.0,134.5 C-6.0,134.5 -14.0,132.1 -18.0,130.0 C-22.0,127.9 -22.6,125.3 -24.0,122.0 C-25.4,118.7 -26.2,114.5 -26.5,110.0 C-26.8,105.5 -26.3,100.8 -26.0,95.0 C-25.7,89.2 -25.1,82.5 -24.5,75.0 C-23.9,67.5 -23.1,56.2 -22.5,50.0 C-21.9,43.8 -21.9,42.2 -21.0,38.0 C-20.1,33.8 -19.0,29.5 -17.0,25.0 C-15.0,20.5 -11.8,15.2 -9.0,11.0 C-6.2,6.8 -3.0,0.0 0.0,0.0 Z" fill="url(#lg)"/>
<ellipse cx="0" cy="24" rx="8" ry="11" fill="#9a9a9a" opacity="0.2"/>
</g>
</svg>
<rect x="458.9" y="693.5" width="186.5" height="187.5" fill="#2a2a2a" stroke="#0c0c0c" stroke-width="1.2"/>
<rect x="458.4" y="693.0" width="187.5" height="11.0" fill="#161616"/>
<rect x="466.4" y="694.0" width="3.0" height="9.0" fill="#3a3a3a"/>
<rect x="486.9" y="694.0" width="3.0" height="9.0" fill="#3a3a3a"/>
<rect x="507.4" y="694.0" width="3.0" height="9.0" fill="#3a3a3a"/>
<rect x="527.9" y="694.0" width="3.0" height="9.0" fill="#3a3a3a"/>
<rect x="548.4" y="694.0" width="3.0" height="9.0" fill="#3a3a3a"/>
<rect x="568.9" y="694.0" width="3.0" height="9.0" fill="#3a3a3a"/>
<rect x="589.4" y="694.0" width="3.0" height="9.0" fill="#3a3a3a"/>
<rect x="609.9" y="694.0" width="3.0" height="9.0" fill="#3a3a3a"/>
<rect x="630.4" y="694.0" width="3.0" height="9.0" fill="#3a3a3a"/>
<svg x="458.4" y="693.0" width="187.5" height="188.5" overflow="hidden">
<rect x="28.0" y="0.0" width="2.0" height="9.0" fill="#9a9a9a"/>
<rect x="34.0" y="0.0" width="2.0" height="9.0" fill="#9a9a9a"/>
<g transform="translate(32.0,7.0) scale(1.000,0.955)">
<path d="M0,128 C2.8,150 9.3,165 9.3,210" stroke="#a8a8a8" stroke-width="4.6" fill="none"/>
<path d="M-20,116 L-32,130 L-34,137 L-27,138 L-14,128 Z" fill="#b4b4b4"/><path d="M20,116 L32,130 L34,137 L27,138 L14,128 Z" fill="#b4b4b4"/>
<path d="M-18,44 L-26,36 L-24,31 L-17,35 L-13,40 Z" fill="#bcbcbc"/><path d="M18,44 L26,36 L24,31 L17,35 L13,40 Z" fill="#bcbcbc"/>
<path d="M0.0,0.0 C3.0,0.0 6.2,6.8 9.0,11.0 C11.8,15.2 15.0,20.5 17.0,25.0 C19.0,29.5 20.1,33.8 21.0,38.0 C21.9,42.2 21.9,43.8 22.5,50.0 C23.1,56.2 23.9,67.5 24.5,75.0 C25.1,82.5 25.7,89.2 26.0,95.0 C26.3,100.8 26.8,105.5 26.5,110.0 C26.2,114.5 25.4,118.7 24.0,122.0 C22.6,125.3 22.0,127.9 18.0,130.0 C14.0,132.1 6.0,134.5 0.0,134.5 C-6.0,134.5 -14.0,132.1 -18.0,130.0 C-22.0,127.9 -22.6,125.3 -24.0,122.0 C-25.4,118.7 -26.2,114.5 -26.5,110.0 C-26.8,105.5 -26.3,100.8 -26.0,95.0 C-25.7,89.2 -25.1,82.5 -24.5,75.0 C-23.9,67.5 -23.1,56.2 -22.5,50.0 C-21.9,43.8 -21.9,42.2 -21.0,38.0 C-20.1,33.8 -19.0,29.5 -17.0,25.0 C-15.0,20.5 -11.8,15.2 -9.0,11.0 C-6.2,6.8 -3.0,0.0 0.0,0.0 Z" fill="url(#lg)"/>
<ellipse cx="0" cy="24" rx="8" ry="11" fill="#9a9a9a" opacity="0.2"/>
</g>
<rect x="86.0" y="0.0" width="2.0" height="9.0" fill="#9a9a9a"/>
<rect x="92.0" y="0.0" width="2.0" height="9.0" fill="#9a9a9a"/>
<g transform="translate(90.0,7.0) scale(1.000,0.955)">
<path d="M0,128 C-0.6,150 -2.0,165 -2.0,210" stroke="#a8a8a8" stroke-width="4.6" fill="none"/>
<path d="M-20,116 L-32,130 L-34,137 L-27,138 L-14,128 Z" fill="#b4b4b4"/><path d="M20,116 L32,130 L34,137 L27,138 L14,128 Z" fill="#b4b4b4"/>
<path d="M-18,44 L-26,36 L-24,31 L-17,35 L-13,40 Z" fill="#bcbcbc"/><path d="M18,44 L26,36 L24,31 L17,35 L13,40 Z" fill="#bcbcbc"/>
<path d="M0.0,0.0 C3.0,0.0 6.2,6.8 9.0,11.0 C11.8,15.2 15.0,20.5 17.0,25.0 C19.0,29.5 20.1,33.8 21.0,38.0 C21.9,42.2 21.9,43.8 22.5,50.0 C23.1,56.2 23.9,67.5 24.5,75.0 C25.1,82.5 25.7,89.2 26.0,95.0 C26.3,100.8 26.8,105.5 26.5,110.0 C26.2,114.5 25.4,118.7 24.0,122.0 C22.6,125.3 22.0,127.9 18.0,130.0 C14.0,132.1 6.0,134.5 0.0,134.5 C-6.0,134.5 -14.0,132.1 -18.0,130.0 C-22.0,127.9 -22.6,125.3 -24.0,122.0 C-25.4,118.7 -26.2,114.5 -26.5,110.0 C-26.8,105.5 -26.3,100.8 -26.0,95.0 C-25.7,89.2 -25.1,82.5 -24.5,75.0 C-23.9,67.5 -23.1,56.2 -22.5,50.0 C-21.9,43.8 -21.9,42.2 -21.0,38.0 C-20.1,33.8 -19.0,29.5 -17.0,25.0 C-15.0,20.5 -11.8,15.2 -9.0,11.0 C-6.2,6.8 -3.0,0.0 0.0,0.0 Z" fill="url(#lg)"/>
<ellipse cx="0" cy="24" rx="8" ry="11" fill="#9a9a9a" opacity="0.2"/>
</g>
<rect x="144.0" y="0.0" width="2.0" height="9.0" fill="#9a9a9a"/>
<rect x="150.0" y="0.0" width="2.0" height="9.0" fill="#9a9a9a"/>
<g transform="translate(148.0,7.0) scale(1.000,0.955)">
<path d="M0,128 C-7.8,150 -26.0,165 -26.0,210" stroke="#a8a8a8" stroke-width="4.6" fill="none"/>
<path d="M-20,116 L-32,130 L-34,137 L-27,138 L-14,128 Z" fill="#b4b4b4"/><path d="M20,116 L32,130 L34,137 L27,138 L14,128 Z" fill="#b4b4b4"/>
<path d="M-18,44 L-26,36 L-24,31 L-17,35 L-13,40 Z" fill="#bcbcbc"/><path d="M18,44 L26,36 L24,31 L17,35 L13,40 Z" fill="#bcbcbc"/>
<path d="M0.0,0.0 C3.0,0.0 6.2,6.8 9.0,11.0 C11.8,15.2 15.0,20.5 17.0,25.0 C19.0,29.5 20.1,33.8 21.0,38.0 C21.9,42.2 21.9,43.8 22.5,50.0 C23.1,56.2 23.9,67.5 24.5,75.0 C25.1,82.5 25.7,89.2 26.0,95.0 C26.3,100.8 26.8,105.5 26.5,110.0 C26.2,114.5 25.4,118.7 24.0,122.0 C22.6,125.3 22.0,127.9 18.0,130.0 C14.0,132.1 6.0,134.5 0.0,134.5 C-6.0,134.5 -14.0,132.1 -18.0,130.0 C-22.0,127.9 -22.6,125.3 -24.0,122.0 C-25.4,118.7 -26.2,114.5 -26.5,110.0 C-26.8,105.5 -26.3,100.8 -26.0,95.0 C-25.7,89.2 -25.1,82.5 -24.5,75.0 C-23.9,67.5 -23.1,56.2 -22.5,50.0 C-21.9,43.8 -21.9,42.2 -21.0,38.0 C-20.1,33.8 -19.0,29.5 -17.0,25.0 C-15.0,20.5 -11.8,15.2 -9.0,11.0 C-6.2,6.8 -3.0,0.0 0.0,0.0 Z" fill="url(#lg)"/>
<ellipse cx="0" cy="24" rx="8" ry="11" fill="#9a9a9a" opacity="0.2"/>
</g>
</svg>
<rect x="663.1" y="693.5" width="186.5" height="187.5" fill="#2a2a2a" stroke="#0c0c0c" stroke-width="1.2"/>
<rect x="662.6" y="693.0" width="187.5" height="11.0" fill="#161616"/>
<rect x="670.6" y="694.0" width="3.0" height="9.0" fill="#3a3a3a"/>
<rect x="691.1" y="694.0" width="3.0" height="9.0" fill="#3a3a3a"/>
<rect x="711.6" y="694.0" width="3.0" height="9.0" fill="#3a3a3a"/>
<rect x="732.1" y="694.0" width="3.0" height="9.0" fill="#3a3a3a"/>
<rect x="752.6" y="694.0" width="3.0" height="9.0" fill="#3a3a3a"/>
<rect x="773.1" y="694.0" width="3.0" height="9.0" fill="#3a3a3a"/>
<rect x="793.6" y="694.0" width="3.0" height="9.0" fill="#3a3a3a"/>
<rect x="814.1" y="694.0" width="3.0" height="9.0" fill="#3a3a3a"/>
<rect x="834.6" y="694.0" width="3.0" height="9.0" fill="#3a3a3a"/>
<svg x="662.6" y="693.0" width="187.5" height="188.5" overflow="hidden">
<rect x="38.4" y="0.0" width="2.0" height="9.0" fill="#9a9a9a"/>
<rect x="44.4" y="0.0" width="2.0" height="9.0" fill="#9a9a9a"/>
<g transform="translate(42.4,7.0) scale(1.000,0.955)">
<path d="M0,128 C2.8,150 9.3,165 9.3,210" stroke="#a8a8a8" stroke-width="4.6" fill="none"/>
<path d="M-20,116 L-32,130 L-34,137 L-27,138 L-14,128 Z" fill="#b4b4b4"/><path d="M20,116 L32,130 L34,137 L27,138 L14,128 Z" fill="#b4b4b4"/>
<path d="M-18,44 L-26,36 L-24,31 L-17,35 L-13,40 Z" fill="#bcbcbc"/><path d="M18,44 L26,36 L24,31 L17,35 L13,40 Z" fill="#bcbcbc"/>
<path d="M0.0,0.0 C3.0,0.0 6.2,6.8 9.0,11.0 C11.8,15.2 15.0,20.5 17.0,25.0 C19.0,29.5 20.1,33.8 21.0,38.0 C21.9,42.2 21.9,43.8 22.5,50.0 C23.1,56.2 23.9,67.5 24.5,75.0 C25.1,82.5 25.7,89.2 26.0,95.0 C26.3,100.8 26.8,105.5 26.5,110.0 C26.2,114.5 25.4,118.7 24.0,122.0 C22.6,125.3 22.0,127.9 18.0,130.0 C14.0,132.1 6.0,134.5 0.0,134.5 C-6.0,134.5 -14.0,132.1 -18.0,130.0 C-22.0,127.9 -22.6,125.3 -24.0,122.0 C-25.4,118.7 -26.2,114.5 -26.5,110.0 C-26.8,105.5 -26.3,100.8 -26.0,95.0 C-25.7,89.2 -25.1,82.5 -24.5,75.0 C-23.9,67.5 -23.1,56.2 -22.5,50.0 C-21.9,43.8 -21.9,42.2 -21.0,38.0 C-20.1,33.8 -19.0,29.5 -17.0,25.0 C-15.0,20.5 -11.8,15.2 -9.0,11.0 C-6.2,6.8 -3.0,0.0 0.0,0.0 Z" fill="url(#lg)"/>
<ellipse cx="0" cy="24" rx="8" ry="11" fill="#9a9a9a" opacity="0.2"/>
</g>
<rect x="99.0" y="0.0" width="2.0" height="9.0" fill="#9a9a9a"/>
<rect x="105.0" y="0.0" width="2.0" height="9.0" fill="#9a9a9a"/>
<g transform="translate(103.0,7.0) scale(1.000,0.955)">
<path d="M0,128 C-1.7,150 -5.6,165 -5.6,210" stroke="#a8a8a8" stroke-width="4.6" fill="none"/>
<path d="M-20,116 L-32,130 L-34,137 L-27,138 L-14,128 Z" fill="#b4b4b4"/><path d="M20,116 L32,130 L34,137 L27,138 L14,128 Z" fill="#b4b4b4"/>
<path d="M-18,44 L-26,36 L-24,31 L-17,35 L-13,40 Z" fill="#bcbcbc"/><path d="M18,44 L26,36 L24,31 L17,35 L13,40 Z" fill="#bcbcbc"/>
<path d="M0.0,0.0 C3.0,0.0 6.2,6.8 9.0,11.0 C11.8,15.2 15.0,20.5 17.0,25.0 C19.0,29.5 20.1,33.8 21.0,38.0 C21.9,42.2 21.9,43.8 22.5,50.0 C23.1,56.2 23.9,67.5 24.5,75.0 C25.1,82.5 25.7,89.2 26.0,95.0 C26.3,100.8 26.8,105.5 26.5,110.0 C26.2,114.5 25.4,118.7 24.0,122.0 C22.6,125.3 22.0,127.9 18.0,130.0 C14.0,132.1 6.0,134.5 0.0,134.5 C-6.0,134.5 -14.0,132.1 -18.0,130.0 C-22.0,127.9 -22.6,125.3 -24.0,122.0 C-25.4,118.7 -26.2,114.5 -26.5,110.0 C-26.8,105.5 -26.3,100.8 -26.0,95.0 C-25.7,89.2 -25.1,82.5 -24.5,75.0 C-23.9,67.5 -23.1,56.2 -22.5,50.0 C-21.9,43.8 -21.9,42.2 -21.0,38.0 C-20.1,33.8 -19.0,29.5 -17.0,25.0 C-15.0,20.5 -11.8,15.2 -9.0,11.0 C-6.2,6.8 -3.0,0.0 0.0,0.0 Z" fill="url(#lg)"/>
<ellipse cx="0" cy="24" rx="8" ry="11" fill="#9a9a9a" opacity="0.2"/>
</g>
<rect x="159.5" y="0.0" width="2.0" height="9.0" fill="#9a9a9a"/>
<rect x="165.5" y="0.0" width="2.0" height="9.0" fill="#9a9a9a"/>
<g transform="translate(163.5,7.0) scale(1.000,0.955)">
<path d="M0,128 C-0.6,150 -2.0,165 -2.0,210" stroke="#a8a8a8" stroke-width="4.6" fill="none"/>
<path d="M-20,116 L-32,130 L-34,137 L-27,138 L-14,128 Z" fill="#b4b4b4"/><path d="M20,116 L32,130 L34,137 L27,138 L14,128 Z" fill="#b4b4b4"/>
<path d="M-18,44 L-26,36 L-24,31 L-17,35 L-13,40 Z" fill="#bcbcbc"/><path d="M18,44 L26,36 L24,31 L17,35 L13,40 Z" fill="#bcbcbc"/>
<path d="M0.0,0.0 C3.0,0.0 6.2,6.8 9.0,11.0 C11.8,15.2 15.0,20.5 17.0,25.0 C19.0,29.5 20.1,33.8 21.0,38.0 C21.9,42.2 21.9,43.8 22.5,50.0 C23.1,56.2 23.9,67.5 24.5,75.0 C25.1,82.5 25.7,89.2 26.0,95.0 C26.3,100.8 26.8,105.5 26.5,110.0 C26.2,114.5 25.4,118.7 24.0,122.0 C22.6,125.3 22.0,127.9 18.0,130.0 C14.0,132.1 6.0,134.5 0.0,134.5 C-6.0,134.5 -14.0,132.1 -18.0,130.0 C-22.0,127.9 -22.6,125.3 -24.0,122.0 C-25.4,118.7 -26.2,114.5 -26.5,110.0 C-26.8,105.5 -26.3,100.8 -26.0,95.0 C-25.7,89.2 -25.1,82.5 -24.5,75.0 C-23.9,67.5 -23.1,56.2 -22.5,50.0 C-21.9,43.8 -21.9,42.2 -21.0,38.0 C-20.1,33.8 -19.0,29.5 -17.0,25.0 C-15.0,20.5 -11.8,15.2 -9.0,11.0 C-6.2,6.8 -3.0,0.0 0.0,0.0 Z" fill="url(#lg)"/>
<ellipse cx="0" cy="24" rx="8" ry="11" fill="#9a9a9a" opacity="0.2"/>
</g>
</svg>
<rect x="54.7" y="896.0" width="186.5" height="187.5" fill="#2a2a2a" stroke="#0c0c0c" stroke-width="1.2"/>
<rect x="54.2" y="895.5" width="187.5" height="11.0" fill="#161616"/>
<rect x="62.2" y="896.5" width="3.0" height="9.0" fill="#3a3a3a"/>
<rect x="82.7" y="896.5" width="3.0" height="9.0" fill="#3a3a3a"/>
<rect x="103.2" y="896.5" width="3.0" height="9.0" fill="#3a3a3a"/>
<rect x="123.7" y="896.5" width="3.0" height="9.0" fill="#3a3a3a"/>
<rect x="144.2" y="896.5" width="3.0" height="9.0" fill="#3a3a3a"/>
<rect x="164.7" y="896.5" width="3.0" height="9.0" fill="#3a3a3a"/>
<rect x="185.2" y="896.5" width="3.0" height="9.0" fill="#3a3a3a"/>
<rect x="205.7" y="896.5" width="3.0" height="9.0" fill="#3a3a3a"/>
<rect x="226.2" y="896.5" width="3.0" height="9.0" fill="#3a3a3a"/>
<svg x="54.2" y="895.5" width="187.5" height="188.5" overflow="hidden">
<rect x="27.0" y="0.0" width="2.0" height="9.0" fill="#9a9a9a"/>
<rect x="33.0" y="0.0" width="2.0" height="9.0" fill="#9a9a9a"/>
<g transform="translate(31.0,7.0) scale(1.000,0.955)">
<path d="M0,128 C3.9,150 13.0,165 13.0,210" stroke="#a8a8a8" stroke-width="4.6" fill="none"/>
<path d="M-20,116 L-32,130 L-34,137 L-27,138 L-14,128 Z" fill="#b4b4b4"/><path d="M20,116 L32,130 L34,137 L27,138 L14,128 Z" fill="#b4b4b4"/>
<path d="M-18,44 L-26,36 L-24,31 L-17,35 L-13,40 Z" fill="#bcbcbc"/><path d="M18,44 L26,36 L24,31 L17,35 L13,40 Z" fill="#bcbcbc"/>
<path d="M0.0,0.0 C3.0,0.0 6.2,6.8 9.0,11.0 C11.8,15.2 15.0,20.5 17.0,25.0 C19.0,29.5 20.1,33.8 21.0,38.0 C21.9,42.2 21.9,43.8 22.5,50.0 C23.1,56.2 23.9,67.5 24.5,75.0 C25.1,82.5 25.7,89.2 26.0,95.0 C26.3,100.8 26.8,105.5 26.5,110.0 C26.2,114.5 25.4,118.7 24.0,122.0 C22.6,125.3 22.0,127.9 18.0,130.0 C14.0,132.1 6.0,134.5 0.0,134.5 C-6.0,134.5 -14.0,132.1 -18.0,130.0 C-22.0,127.9 -22.6,125.3 -24.0,122.0 C-25.4,118.7 -26.2,114.5 -26.5,110.0 C-26.8,105.5 -26.3,100.8 -26.0,95.0 C-25.7,89.2 -25.1,82.5 -24.5,75.0 C-23.9,67.5 -23.1,56.2 -22.5,50.0 C-21.9,43.8 -21.9,42.2 -21.0,38.0 C-20.1,33.8 -19.0,29.5 -17.0,25.0 C-15.0,20.5 -11.8,15.2 -9.0,11.0 C-6.2,6.8 -3.0,0.0 0.0,0.0 Z" fill="url(#lg)"/>
<ellipse cx="0" cy="24" rx="8" ry="11" fill="#9a9a9a" opacity="0.2"/>
</g>
<rect x="84.0" y="0.0" width="2.0" height="9.0" fill="#9a9a9a"/>
<rect x="90.0" y="0.0" width="2.0" height="9.0" fill="#9a9a9a"/>
<g transform="translate(88.0,7.0) scale(1.000,0.955)">
<path d="M0,128 C-0.6,150 -2.0,165 -2.0,210" stroke="#a8a8a8" stroke-width="4.6" fill="none"/>
<path d="M-20,116 L-32,130 L-34,137 L-27,138 L-14,128 Z" fill="#b4b4b4"/><path d="M20,116 L32,130 L34,137 L27,138 L14,128 Z" fill="#b4b4b4"/>
<path d="M-18,44 L-26,36 L-24,31 L-17,35 L-13,40 Z" fill="#bcbcbc"/><path d="M18,44 L26,36 L24,31 L17,35 L13,40 Z" fill="#bcbcbc"/>
<path d="M0.0,0.0 C3.0,0.0 6.2,6.8 9.0,11.0 C11.8,15.2 15.0,20.5 17.0,25.0 C19.0,29.5 20.1,33.8 21.0,38.0 C21.9,42.2 21.9,43.8 22.5,50.0 C23.1,56.2 23.9,67.5 24.5,75.0 C25.1,82.5 25.7,89.2 26.0,95.0 C26.3,100.8 26.8,105.5 26.5,110.0 C26.2,114.5 25.4,118.7 24.0,122.0 C22.6,125.3 22.0,127.9 18.0,130.0 C14.0,132.1 6.0,134.5 0.0,134.5 C-6.0,134.5 -14.0,132.1 -18.0,130.0 C-22.0,127.9 -22.6,125.3 -24.0,122.0 C-25.4,118.7 -26.2,114.5 -26.5,110.0 C-26.8,105.5 -26.3,100.8 -26.0,95.0 C-25.7,89.2 -25.1,82.5 -24.5,75.0 C-23.9,67.5 -23.1,56.2 -22.5,50.0 C-21.9,43.8 -21.9,42.2 -21.0,38.0 C-20.1,33.8 -19.0,29.5 -17.0,25.0 C-15.0,20.5 -11.8,15.2 -9.0,11.0 C-6.2,6.8 -3.0,0.0 0.0,0.0 Z" fill="url(#lg)"/>
<ellipse cx="0" cy="24" rx="8" ry="11" fill="#9a9a9a" opacity="0.2"/>
</g>
<rect x="141.0" y="0.0" width="2.0" height="9.0" fill="#9a9a9a"/>
<rect x="147.0" y="0.0" width="2.0" height="9.0" fill="#9a9a9a"/>
<g transform="translate(145.0,7.0) scale(1.000,0.955)">
<path d="M0,128 C-2.2,150 -7.5,165 -7.5,210" stroke="#a8a8a8" stroke-width="4.6" fill="none"/>
<path d="M-20,116 L-32,130 L-34,137 L-27,138 L-14,128 Z" fill="#b4b4b4"/><path d="M20,116 L32,130 L34,137 L27,138 L14,128 Z" fill="#b4b4b4"/>
<path d="M-18,44 L-26,36 L-24,31 L-17,35 L-13,40 Z" fill="#bcbcbc"/><path d="M18,44 L26,36 L24,31 L17,35 L13,40 Z" fill="#bcbcbc"/>
<path d="M0.0,0.0 C3.0,0.0 6.2,6.8 9.0,11.0 C11.8,15.2 15.0,20.5 17.0,25.0 C19.0,29.5 20.1,33.8 21.0,38.0 C21.9,42.2 21.9,43.8 22.5,50.0 C23.1,56.2 23.9,67.5 24.5,75.0 C25.1,82.5 25.7,89.2 26.0,95.0 C26.3,100.8 26.8,105.5 26.5,110.0 C26.2,114.5 25.4,118.7 24.0,122.0 C22.6,125.3 22.0,127.9 18.0,130.0 C14.0,132.1 6.0,134.5 0.0,134.5 C-6.0,134.5 -14.0,132.1 -18.0,130.0 C-22.0,127.9 -22.6,125.3 -24.0,122.0 C-25.4,118.7 -26.2,114.5 -26.5,110.0 C-26.8,105.5 -26.3,100.8 -26.0,95.0 C-25.7,89.2 -25.1,82.5 -24.5,75.0 C-23.9,67.5 -23.1,56.2 -22.5,50.0 C-21.9,43.8 -21.9,42.2 -21.0,38.0 C-20.1,33.8 -19.0,29.5 -17.0,25.0 C-15.0,20.5 -11.8,15.2 -9.0,11.0 C-6.2,6.8 -3.0,0.0 0.0,0.0 Z" fill="url(#lg)"/>
<ellipse cx="0" cy="24" rx="8" ry="11" fill="#9a9a9a" opacity="0.2"/>
</g>
</svg>
<rect x="256.6" y="896.0" width="186.5" height="187.5" fill="#2a2a2a" stroke="#0c0c0c" stroke-width="1.2"/>
<rect x="256.1" y="895.5" width="187.5" height="11.0" fill="#161616"/>
<rect x="264.1" y="896.5" width="3.0" height="9.0" fill="#3a3a3a"/>
<rect x="284.6" y="896.5" width="3.0" height="9.0" fill="#3a3a3a"/>
<rect x="305.1" y="896.5" width="3.0" height="9.0" fill="#3a3a3a"/>
<rect x="325.6" y="896.5" width="3.0" height="9.0" fill="#3a3a3a"/>
<rect x="346.1" y="896.5" width="3.0" height="9.0" fill="#3a3a3a"/>
<rect x="366.6" y="896.5" width="3.0" height="9.0" fill="#3a3a3a"/>
<rect x="387.1" y="896.5" width="3.0" height="9.0" fill="#3a3a3a"/>
<rect x="407.6" y="896.5" width="3.0" height="9.0" fill="#3a3a3a"/>
<rect x="428.1" y="896.5" width="3.0" height="9.0" fill="#3a3a3a"/>
<svg x="256.1" y="895.5" width="187.5" height="188.5" overflow="hidden">
<rect x="26.0" y="0.0" width="2.0" height="9.0" fill="#9a9a9a"/>
<rect x="32.0" y="0.0" width="2.0" height="9.0" fill="#9a9a9a"/>
<g transform="translate(30.0,7.0) scale(1.000,0.955)">
<path d="M0,128 C10.1,150 33.6,165 33.6,210" stroke="#a8a8a8" stroke-width="4.6" fill="none"/>
<path d="M-20,116 L-32,130 L-34,137 L-27,138 L-14,128 Z" fill="#b4b4b4"/><path d="M20,116 L32,130 L34,137 L27,138 L14,128 Z" fill="#b4b4b4"/>
<path d="M-18,44 L-26,36 L-24,31 L-17,35 L-13,40 Z" fill="#bcbcbc"/><path d="M18,44 L26,36 L24,31 L17,35 L13,40 Z" fill="#bcbcbc"/>
<path d="M0.0,0.0 C3.0,0.0 6.2,6.8 9.0,11.0 C11.8,15.2 15.0,20.5 17.0,25.0 C19.0,29.5 20.1,33.8 21.0,38.0 C21.9,42.2 21.9,43.8 22.5,50.0 C23.1,56.2 23.9,67.5 24.5,75.0 C25.1,82.5 25.7,89.2 26.0,95.0 C26.3,100.8 26.8,105.5 26.5,110.0 C26.2,114.5 25.4,118.7 24.0,122.0 C22.6,125.3 22.0,127.9 18.0,130.0 C14.0,132.1 6.0,134.5 0.0,134.5 C-6.0,134.5 -14.0,132.1 -18.0,130.0 C-22.0,127.9 -22.6,125.3 -24.0,122.0 C-25.4,118.7 -26.2,114.5 -26.5,110.0 C-26.8,105.5 -26.3,100.8 -26.0,95.0 C-25.7,89.2 -25.1,82.5 -24.5,75.0 C-23.9,67.5 -23.1,56.2 -22.5,50.0 C-21.9,43.8 -21.9,42.2 -21.0,38.0 C-20.1,33.8 -19.0,29.5 -17.0,25.0 C-15.0,20.5 -11.8,15.2 -9.0,11.0 C-6.2,6.8 -3.0,0.0 0.0,0.0 Z" fill="url(#lg)"/>
<ellipse cx="0" cy="24" rx="8" ry="11" fill="#9a9a9a" opacity="0.2"/>
</g>
<rect x="85.5" y="0.0" width="2.0" height="9.0" fill="#9a9a9a"/>
<rect x="91.5" y="0.0" width="2.0" height="9.0" fill="#9a9a9a"/>
<g transform="translate(89.5,7.0) scale(1.000,0.955)">
<path d="M0,128 C7.8,150 26.0,165 26.0,210" stroke="#a8a8a8" stroke-width="4.6" fill="none"/>
<path d="M-20,116 L-32,130 L-34,137 L-27,138 L-14,128 Z" fill="#b4b4b4"/><path d="M20,116 L32,130 L34,137 L27,138 L14,128 Z" fill="#b4b4b4"/>
<path d="M-18,44 L-26,36 L-24,31 L-17,35 L-13,40 Z" fill="#bcbcbc"/><path d="M18,44 L26,36 L24,31 L17,35 L13,40 Z" fill="#bcbcbc"/>
<path d="M0.0,0.0 C3.0,0.0 6.2,6.8 9.0,11.0 C11.8,15.2 15.0,20.5 17.0,25.0 C19.0,29.5 20.1,33.8 21.0,38.0 C21.9,42.2 21.9,43.8 22.5,50.0 C23.1,56.2 23.9,67.5 24.5,75.0 C25.1,82.5 25.7,89.2 26.0,95.0 C26.3,100.8 26.8,105.5 26.5,110.0 C26.2,114.5 25.4,118.7 24.0,122.0 C22.6,125.3 22.0,127.9 18.0,130.0 C14.0,132.1 6.0,134.5 0.0,134.5 C-6.0,134.5 -14.0,132.1 -18.0,130.0 C-22.0,127.9 -22.6,125.3 -24.0,122.0 C-25.4,118.7 -26.2,114.5 -26.5,110.0 C-26.8,105.5 -26.3,100.8 -26.0,95.0 C-25.7,89.2 -25.1,82.5 -24.5,75.0 C-23.9,67.5 -23.1,56.2 -22.5,50.0 C-21.9,43.8 -21.9,42.2 -21.0,38.0 C-20.1,33.8 -19.0,29.5 -17.0,25.0 C-15.0,20.5 -11.8,15.2 -9.0,11.0 C-6.2,6.8 -3.0,0.0 0.0,0.0 Z" fill="url(#lg)"/>
<ellipse cx="0" cy="24" rx="8" ry="11" fill="#9a9a9a" opacity="0.2"/>
</g>
<rect x="142.7" y="0.0" width="2.0" height="9.0" fill="#9a9a9a"/>
<rect x="148.7" y="0.0" width="2.0" height="9.0" fill="#9a9a9a"/>
<g transform="translate(146.7,7.0) scale(1.000,0.955)">
<path d="M0,128 C1.7,150 5.6,165 5.6,210" stroke="#a8a8a8" stroke-width="4.6" fill="none"/>
<path d="M-20,116 L-32,130 L-34,137 L-27,138 L-14,128 Z" fill="#b4b4b4"/><path d="M20,116 L32,130 L34,137 L27,138 L14,128 Z" fill="#b4b4b4"/>
<path d="M-18,44 L-26,36 L-24,31 L-17,35 L-13,40 Z" fill="#bcbcbc"/><path d="M18,44 L26,36 L24,31 L17,35 L13,40 Z" fill="#bcbcbc"/>
<path d="M0.0,0.0 C3.0,0.0 6.2,6.8 9.0,11.0 C11.8,15.2 15.0,20.5 17.0,25.0 C19.0,29.5 20.1,33.8 21.0,38.0 C21.9,42.2 21.9,43.8 22.5,50.0 C23.1,56.2 23.9,67.5 24.5,75.0 C25.1,82.5 25.7,89.2 26.0,95.0 C26.3,100.8 26.8,105.5 26.5,110.0 C26.2,114.5 25.4,118.7 24.0,122.0 C22.6,125.3 22.0,127.9 18.0,130.0 C14.0,132.1 6.0,134.5 0.0,134.5 C-6.0,134.5 -14.0,132.1 -18.0,130.0 C-22.0,127.9 -22.6,125.3 -24.0,122.0 C-25.4,118.7 -26.2,114.5 -26.5,110.0 C-26.8,105.5 -26.3,100.8 -26.0,95.0 C-25.7,89.2 -25.1,82.5 -24.5,75.0 C-23.9,67.5 -23.1,56.2 -22.5,50.0 C-21.9,43.8 -21.9,42.2 -21.0,38.0 C-20.1,33.8 -19.0,29.5 -17.0,25.0 C-15.0,20.5 -11.8,15.2 -9.0,11.0 C-6.2,6.8 -3.0,0.0 0.0,0.0 Z" fill="url(#lg)"/>
<ellipse cx="0" cy="24" rx="8" ry="11" fill="#9a9a9a" opacity="0.2"/>
</g>
</svg>
<rect x="458.9" y="896.0" width="186.5" height="187.5" fill="#2a2a2a" stroke="#0c0c0c" stroke-width="1.2"/>
<rect x="458.4" y="895.5" width="187.5" height="11.0" fill="#161616"/>
<rect x="466.4" y="896.5" width="3.0" height="9.0" fill="#3a3a3a"/>
<rect x="486.9" y="896.5" width="3.0" height="9.0" fill="#3a3a3a"/>
<rect x="507.4" y="896.5" width="3.0" height="9.0" fill="#3a3a3a"/>
<rect x="527.9" y="896.5" width="3.0" height="9.0" fill="#3a3a3a"/>
<rect x="548.4" y="896.5" width="3.0" height="9.0" fill="#3a3a3a"/>
<rect x="568.9" y="896.5" width="3.0" height="9.0" fill="#3a3a3a"/>
<rect x="589.4" y="896.5" width="3.0" height="9.0" fill="#3a3a3a"/>
<rect x="609.9" y="896.5" width="3.0" height="9.0" fill="#3a3a3a"/>
<rect x="630.4" y="896.5" width="3.0" height="9.0" fill="#3a3a3a"/>
<svg x="458.4" y="895.5" width="187.5" height="188.5" overflow="hidden">
<rect x="28.0" y="0.0" width="2.0" height="9.0" fill="#9a9a9a"/>
<rect x="34.0" y="0.0" width="2.0" height="9.0" fill="#9a9a9a"/>
<g transform="translate(32.0,7.0) scale(1.000,0.955)">
<path d="M0,128 C-1.7,150 -5.6,165 -5.6,210" stroke="#a8a8a8" stroke-width="4.6" fill="none"/>
<path d="M-20,116 L-32,130 L-34,137 L-27,138 L-14,128 Z" fill="#b4b4b4"/><path d="M20,116 L32,130 L34,137 L27,138 L14,128 Z" fill="#b4b4b4"/>
<path d="M-18,44 L-26,36 L-24,31 L-17,35 L-13,40 Z" fill="#bcbcbc"/><path d="M18,44 L26,36 L24,31 L17,35 L13,40 Z" fill="#bcbcbc"/>
<path d="M0.0,0.0 C3.0,0.0 6.2,6.8 9.0,11.0 C11.8,15.2 15.0,20.5 17.0,25.0 C19.0,29.5 20.1,33.8 21.0,38.0 C21.9,42.2 21.9,43.8 22.5,50.0 C23.1,56.2 23.9,67.5 24.5,75.0 C25.1,82.5 25.7,89.2 26.0,95.0 C26.3,100.8 26.8,105.5 26.5,110.0 C26.2,114.5 25.4,118.7 24.0,122.0 C22.6,125.3 22.0,127.9 18.0,130.0 C14.0,132.1 6.0,134.5 0.0,134.5 C-6.0,134.5 -14.0,132.1 -18.0,130.0 C-22.0,127.9 -22.6,125.3 -24.0,122.0 C-25.4,118.7 -26.2,114.5 -26.5,110.0 C-26.8,105.5 -26.3,100.8 -26.0,95.0 C-25.7,89.2 -25.1,82.5 -24.5,75.0 C-23.9,67.5 -23.1,56.2 -22.5,50.0 C-21.9,43.8 -21.9,42.2 -21.0,38.0 C-20.1,33.8 -19.0,29.5 -17.0,25.0 C-15.0,20.5 -11.8,15.2 -9.0,11.0 C-6.2,6.8 -3.0,0.0 0.0,0.0 Z" fill="url(#lg)"/>
<ellipse cx="0" cy="24" rx="8" ry="11" fill="#9a9a9a" opacity="0.2"/>
</g>
<rect x="86.0" y="0.0" width="2.0" height="9.0" fill="#9a9a9a"/>
<rect x="92.0" y="0.0" width="2.0" height="9.0" fill="#9a9a9a"/>
<g transform="translate(90.0,7.0) scale(1.000,0.955)">
<path d="M0,128 C0.0,150 0.0,165 0.0,210" stroke="#a8a8a8" stroke-width="4.6" fill="none"/>
<path d="M-20,116 L-32,130 L-34,137 L-27,138 L-14,128 Z" fill="#b4b4b4"/><path d="M20,116 L32,130 L34,137 L27,138 L14,128 Z" fill="#b4b4b4"/>
<path d="M-18,44 L-26,36 L-24,31 L-17,35 L-13,40 Z" fill="#bcbcbc"/><path d="M18,44 L26,36 L24,31 L17,35 L13,40 Z" fill="#bcbcbc"/>
<path d="M0.0,0.0 C3.0,0.0 6.2,6.8 9.0,11.0 C11.8,15.2 15.0,20.5 17.0,25.0 C19.0,29.5 20.1,33.8 21.0,38.0 C21.9,42.2 21.9,43.8 22.5,50.0 C23.1,56.2 23.9,67.5 24.5,75.0 C25.1,82.5 25.7,89.2 26.0,95.0 C26.3,100.8 26.8,105.5 26.5,110.0 C26.2,114.5 25.4,118.7 24.0,122.0 C22.6,125.3 22.0,127.9 18.0,130.0 C14.0,132.1 6.0,134.5 0.0,134.5 C-6.0,134.5 -14.0,132.1 -18.0,130.0 C-22.0,127.9 -22.6,125.3 -24.0,122.0 C-25.4,118.7 -26.2,114.5 -26.5,110.0 C-26.8,105.5 -26.3,100.8 -26.0,95.0 C-25.7,89.2 -25.1,82.5 -24.5,75.0 C-23.9,67.5 -23.1,56.2 -22.5,50.0 C-21.9,43.8 -21.9,42.2 -21.0,38.0 C-20.1,33.8 -19.0,29.5 -17.0,25.0 C-15.0,20.5 -11.8,15.2 -9.0,11.0 C-6.2,6.8 -3.0,0.0 0.0,0.0 Z" fill="url(#lg)"/>
<ellipse cx="0" cy="24" rx="8" ry="11" fill="#9a9a9a" opacity="0.2"/>
</g>
<rect x="144.0" y="0.0" width="2.0" height="9.0" fill="#9a9a9a"/>
<rect x="150.0" y="0.0" width="2.0" height="9.0" fill="#9a9a9a"/>
<g transform="translate(148.0,7.0) scale(1.000,0.955)">
<path d="M0,128 C2.2,150 7.5,165 7.5,210" stroke="#a8a8a8" stroke-width="4.6" fill="none"/>
<path d="M-20,116 L-32,130 L-34,137 L-27,138 L-14,128 Z" fill="#b4b4b4"/><path d="M20,116 L32,130 L34,137 L27,138 L14,128 Z" fill="#b4b4b4"/>
<path d="M-18,44 L-26,36 L-24,31 L-17,35 L-13,40 Z" fill="#bcbcbc"/><path d="M18,44 L26,36 L24,31 L17,35 L13,40 Z" fill="#bcbcbc"/>
<path d="M0.0,0.0 C3.0,0.0 6.2,6.8 9.0,11.0 C11.8,15.2 15.0,20.5 17.0,25.0 C19.0,29.5 20.1,33.8 21.0,38.0 C21.9,42.2 21.9,43.8 22.5,50.0 C23.1,56.2 23.9,67.5 24.5,75.0 C25.1,82.5 25.7,89.2 26.0,95.0 C26.3,100.8 26.8,105.5 26.5,110.0 C26.2,114.5 25.4,118.7 24.0,122.0 C22.6,125.3 22.0,127.9 18.0,130.0 C14.0,132.1 6.0,134.5 0.0,134.5 C-6.0,134.5 -14.0,132.1 -18.0,130.0 C-22.0,127.9 -22.6,125.3 -24.0,122.0 C-25.4,118.7 -26.2,114.5 -26.5,110.0 C-26.8,105.5 -26.3,100.8 -26.0,95.0 C-25.7,89.2 -25.1,82.5 -24.5,75.0 C-23.9,67.5 -23.1,56.2 -22.5,50.0 C-21.9,43.8 -21.9,42.2 -21.0,38.0 C-20.1,33.8 -19.0,29.5 -17.0,25.0 C-15.0,20.5 -11.8,15.2 -9.0,11.0 C-6.2,6.8 -3.0,0.0 0.0,0.0 Z" fill="url(#lg)"/>
<ellipse cx="0" cy="24" rx="8" ry="11" fill="#9a9a9a" opacity="0.2"/>
</g>
</svg>
<rect x="663.1" y="896.0" width="186.5" height="187.5" fill="#2a2a2a" stroke="#0c0c0c" stroke-width="1.2"/>
<rect x="662.6" y="895.5" width="187.5" height="11.0" fill="#161616"/>
<rect x="670.6" y="896.5" width="3.0" height="9.0" fill="#3a3a3a"/>
<rect x="691.1" y="896.5" width="3.0" height="9.0" fill="#3a3a3a"/>
<rect x="711.6" y="896.5" width="3.0" height="9.0" fill="#3a3a3a"/>
<rect x="732.1" y="896.5" width="3.0" height="9.0" fill="#3a3a3a"/>
<rect x="752.6" y="896.5" width="3.0" height="9.0" fill="#3a3a3a"/>
<rect x="773.1" y="896.5" width="3.0" height="9.0" fill="#3a3a3a"/>
<rect x="793.6" y="896.5" width="3.0" height="9.0" fill="#3a3a3a"/>
<rect x="814.1" y="896.5" width="3.0" height="9.0" fill="#3a3a3a"/>
<rect x="834.6" y="896.5" width="3.0" height="9.0" fill="#3a3a3a"/>
<svg x="662.6" y="895.5" width="187.5" height="188.5" overflow="hidden">
<rect x="38.4" y="0.0" width="2.0" height="9.0" fill="#9a9a9a"/>
<rect x="44.4" y="0.0" width="2.0" height="9.0" fill="#9a9a9a"/>
<g transform="translate(42.4,7.0) scale(1.000,0.955)">
<path d="M0,128 C0.0,150 0.0,165 0.0,210" stroke="#a8a8a8" stroke-width="4.6" fill="none"/>
<path d="M-20,116 L-32,130 L-34,137 L-27,138 L-14,128 Z" fill="#b4b4b4"/><path d="M20,116 L32,130 L34,137 L27,138 L14,128 Z" fill="#b4b4b4"/>
<path d="M-18,44 L-26,36 L-24,31 L-17,35 L-13,40 Z" fill="#bcbcbc"/><path d="M18,44 L26,36 L24,31 L17,35 L13,40 Z" fill="#bcbcbc"/>
<path d="M0.0,0.0 C3.0,0.0 6.2,6.8 9.0,11.0 C11.8,15.2 15.0,20.5 17.0,25.0 C19.0,29.5 20.1,33.8 21.0,38.0 C21.9,42.2 21.9,43.8 22.5,50.0 C23.1,56.2 23.9,67.5 24.5,75.0 C25.1,82.5 25.7,89.2 26.0,95.0 C26.3,100.8 26.8,105.5 26.5,110.0 C26.2,114.5 25.4,118.7 24.0,122.0 C22.6,125.3 22.0,127.9 18.0,130.0 C14.0,132.1 6.0,134.5 0.0,134.5 C-6.0,134.5 -14.0,132.1 -18.0,130.0 C-22.0,127.9 -22.6,125.3 -24.0,122.0 C-25.4,118.7 -26.2,114.5 -26.5,110.0 C-26.8,105.5 -26.3,100.8 -26.0,95.0 C-25.7,89.2 -25.1,82.5 -24.5,75.0 C-23.9,67.5 -23.1,56.2 -22.5,50.0 C-21.9,43.8 -21.9,42.2 -21.0,38.0 C-20.1,33.8 -19.0,29.5 -17.0,25.0 C-15.0,20.5 -11.8,15.2 -9.0,11.0 C-6.2,6.8 -3.0,0.0 0.0,0.0 Z" fill="url(#lg)"/>
<ellipse cx="0" cy="24" rx="8" ry="11" fill="#9a9a9a" opacity="0.2"/>
</g>
<rect x="99.0" y="0.0" width="2.0" height="9.0" fill="#9a9a9a"/>
<rect x="105.0" y="0.0" width="2.0" height="9.0" fill="#9a9a9a"/>
<g transform="translate(103.0,7.0) scale(1.000,0.955)">
<path d="M0,128 C-5.6,150 -18.7,165 -18.7,210" stroke="#a8a8a8" stroke-width="4.6" fill="none"/>
<path d="M-20,116 L-32,130 L-34,137 L-27,138 L-14,128 Z" fill="#b4b4b4"/><path d="M20,116 L32,130 L34,137 L27,138 L14,128 Z" fill="#b4b4b4"/>
<path d="M-18,44 L-26,36 L-24,31 L-17,35 L-13,40 Z" fill="#bcbcbc"/><path d="M18,44 L26,36 L24,31 L17,35 L13,40 Z" fill="#bcbcbc"/>
<path d="M0.0,0.0 C3.0,0.0 6.2,6.8 9.0,11.0 C11.8,15.2 15.0,20.5 17.0,25.0 C19.0,29.5 20.1,33.8 21.0,38.0 C21.9,42.2 21.9,43.8 22.5,50.0 C23.1,56.2 23.9,67.5 24.5,75.0 C25.1,82.5 25.7,89.2 26.0,95.0 C26.3,100.8 26.8,105.5 26.5,110.0 C26.2,114.5 25.4,118.7 24.0,122.0 C22.6,125.3 22.0,127.9 18.0,130.0 C14.0,132.1 6.0,134.5 0.0,134.5 C-6.0,134.5 -14.0,132.1 -18.0,130.0 C-22.0,127.9 -22.6,125.3 -24.0,122.0 C-25.4,118.7 -26.2,114.5 -26.5,110.0 C-26.8,105.5 -26.3,100.8 -26.0,95.0 C-25.7,89.2 -25.1,82.5 -24.5,75.0 C-23.9,67.5 -23.1,56.2 -22.5,50.0 C-21.9,43.8 -21.9,42.2 -21.0,38.0 C-20.1,33.8 -19.0,29.5 -17.0,25.0 C-15.0,20.5 -11.8,15.2 -9.0,11.0 C-6.2,6.8 -3.0,0.0 0.0,0.0 Z" fill="url(#lg)"/>
<ellipse cx="0" cy="24" rx="8" ry="11" fill="#9a9a9a" opacity="0.2"/>
</g>
<rect x="159.5" y="0.0" width="2.0" height="9.0" fill="#9a9a9a"/>
<rect x="165.5" y="0.0" width="2.0" height="9.0" fill="#9a9a9a"/>
<g transform="translate(163.5,7.0) scale(1.000,0.955)">
<path d="M0,128 C0.6,150 2.0,165 2.0,210" stroke="#a8a8a8" stroke-width="4.6" fill="none"/>
<path d="M-20,116 L-32,130 L-34,137 L-27,138 L-14,128 Z" fill="#b4b4b4"/><path d="M20,116 L32,130 L34,137 L27,138 L14,128 Z" fill="#b4b4b4"/>
<path d="M-18,44 L-26,36 L-24,31 L-17,35 L-13,40 Z" fill="#bcbcbc"/><path d="M18,44 L26,36 L24,31 L17,35 L13,40 Z" fill="#bcbcbc"/>
<path d="M0.0,0.0 C3.0,0.0 6.2,6.8 9.0,11.0 C11.8,15.2 15.0,20.5 17.0,25.0 C19.0,29.5 20.1,33.8 21.0,38.0 C21.9,42.2 21.9,43.8 22.5,50.0 C23.1,56.2 23.9,67.5 24.5,75.0 C25.1,82.5 25.7,89.2 26.0,95.0 C26.3,100.8 26.8,105.5 26.5,110.0 C26.2,114.5 25.4,118.7 24.0,122.0 C22.6,125.3 22.0,127.9 18.0,130.0 C14.0,132.1 6.0,134.5 0.0,134.5 C-6.0,134.5 -14.0,132.1 -18.0,130.0 C-22.0,127.9 -22.6,125.3 -24.0,122.0 C-25.4,118.7 -26.2,114.5 -26.5,110.0 C-26.8,105.5 -26.3,100.8 -26.0,95.0 C-25.7,89.2 -25.1,82.5 -24.5,75.0 C-23.9,67.5 -23.1,56.2 -22.5,50.0 C-21.9,43.8 -21.9,42.2 -21.0,38.0 C-20.1,33.8 -19.0,29.5 -17.0,25.0 C-15.0,20.5 -11.8,15.2 -9.0,11.0 C-6.2,6.8 -3.0,0.0 0.0,0.0 Z" fill="url(#lg)"/>
<ellipse cx="0" cy="24" rx="8" ry="11" fill="#9a9a9a" opacity="0.2"/>
</g>
</svg>
<g transform="rotate(0 69.6 599.0)"><ellipse cx="69.6" cy="599.0" rx="8.0" ry="9.5" fill="#7a28ff"/><ellipse cx="69.6" cy="599.0" rx="7.0" ry="8.3" fill="#1030ff"/><ellipse cx="69.6" cy="599.0" rx="5.4" ry="6.5" fill="#00c8ff"/><ellipse cx="69.6" cy="599.0" rx="3.4" ry="4.0" fill="#10f070"/></g>
<g transform="rotate(0 121.1 592.9)"><ellipse cx="121.1" cy="592.9" rx="5.5" ry="7.0" fill="#7a28ff"/><ellipse cx="121.1" cy="592.9" rx="4.7" ry="6.0" fill="#1030ff"/><ellipse cx="121.1" cy="592.9" rx="3.0" ry="3.9" fill="#00c8ff"/></g>
<g transform="rotate(0 190.2 596.6)"><ellipse cx="190.2" cy="596.6" rx="8.0" ry="7.0" fill="#7a28ff"/><ellipse cx="190.2" cy="596.6" rx="7.0" ry="6.1" fill="#1030ff"/><ellipse cx="190.2" cy="596.6" rx="5.4" ry="4.8" fill="#00c8ff"/><ellipse cx="190.2" cy="596.6" rx="3.4" ry="2.9" fill="#10f070"/></g>
<g transform="rotate(0 283.4 596.1)"><ellipse cx="283.4" cy="596.1" rx="12.0" ry="12.0" fill="#7a28ff"/><ellipse cx="283.4" cy="596.1" rx="10.7" ry="10.7" fill="#1030ff"/><ellipse cx="283.4" cy="596.1" rx="9.4" ry="9.4" fill="#00c8ff"/><ellipse cx="283.4" cy="596.1" rx="8.0" ry="8.0" fill="#10f070"/><ellipse cx="283.4" cy="596.1" rx="7.0" ry="7.0" fill="#e8ff00"/><ellipse cx="283.4" cy="596.1" rx="6.0" ry="6.0" fill="#ff1800"/></g>
<g transform="rotate(0 336.9 593.6)"><ellipse cx="336.9" cy="593.6" rx="9.5" ry="8.5" fill="#7a28ff"/><ellipse cx="336.9" cy="593.6" rx="8.3" ry="7.4" fill="#1030ff"/><ellipse cx="336.9" cy="593.6" rx="6.5" ry="5.8" fill="#00c8ff"/><ellipse cx="336.9" cy="593.6" rx="4.0" ry="3.6" fill="#10f070"/></g>
<g transform="rotate(0 390.4 589.1)"><ellipse cx="390.4" cy="589.1" rx="12.0" ry="13.0" fill="#7a28ff"/><ellipse cx="390.4" cy="589.1" rx="10.6" ry="11.4" fill="#1030ff"/><ellipse cx="390.4" cy="589.1" rx="8.6" ry="9.4" fill="#00c8ff"/><ellipse cx="390.4" cy="589.1" rx="6.6" ry="7.2" fill="#10f070"/><ellipse cx="390.4" cy="589.1" rx="4.3" ry="4.7" fill="#e8ff00"/></g>
<g transform="rotate(0 484.9 585.9)"><ellipse cx="484.9" cy="585.9" rx="16.5" ry="21.0" fill="#7a28ff"/><ellipse cx="484.9" cy="585.9" rx="14.7" ry="18.7" fill="#1030ff"/><ellipse cx="484.9" cy="585.9" rx="12.9" ry="16.4" fill="#00c8ff"/><ellipse cx="484.9" cy="585.9" rx="11.1" ry="14.1" fill="#10f070"/><ellipse cx="484.9" cy="585.9" rx="9.6" ry="12.2" fill="#e8ff00"/><ellipse cx="484.9" cy="585.9" rx="8.2" ry="10.5" fill="#ff1800"/></g>
<g transform="rotate(0 530.8 594.0)"><ellipse cx="530.8" cy="594.0" rx="13.0" ry="15.0" fill="#7a28ff"/><ellipse cx="530.8" cy="594.0" rx="11.4" ry="13.2" fill="#1030ff"/><ellipse cx="530.8" cy="594.0" rx="9.4" ry="10.8" fill="#00c8ff"/><ellipse cx="530.8" cy="594.0" rx="7.2" ry="8.2" fill="#10f070"/><ellipse cx="530.8" cy="594.0" rx="4.7" ry="5.4" fill="#e8ff00"/><ellipse cx="530.8" cy="594.0" rx="2.9" ry="3.3" fill="#ff1800"/></g>
<g transform="rotate(0 599.7 587.0)"><ellipse cx="599.7" cy="587.0" rx="10.0" ry="10.0" fill="#7a28ff"/><ellipse cx="599.7" cy="587.0" rx="8.7" ry="8.7" fill="#1030ff"/><ellipse cx="599.7" cy="587.0" rx="6.8" ry="6.8" fill="#00c8ff"/><ellipse cx="599.7" cy="587.0" rx="4.2" ry="4.2" fill="#10f070"/></g>
<g transform="rotate(0 697.4 587.7)"><ellipse cx="697.4" cy="587.7" rx="17.5" ry="17.5" fill="#7a28ff"/><ellipse cx="697.4" cy="587.7" rx="15.4" ry="15.4" fill="#1030ff"/><ellipse cx="697.4" cy="587.7" rx="12.6" ry="12.6" fill="#00c8ff"/><ellipse cx="697.4" cy="587.7" rx="9.6" ry="9.6" fill="#10f070"/><ellipse cx="697.4" cy="587.7" rx="6.3" ry="6.3" fill="#e8ff00"/><ellipse cx="697.4" cy="587.7" rx="3.9" ry="3.9" fill="#ff1800"/></g>
<g transform="rotate(0 757.9 594.0)"><ellipse cx="757.9" cy="594.0" rx="18.5" ry="14.5" fill="#7a28ff"/><ellipse cx="757.9" cy="594.0" rx="16.3" ry="12.8" fill="#1030ff"/><ellipse cx="757.9" cy="594.0" rx="13.3" ry="10.4" fill="#00c8ff"/><ellipse cx="757.9" cy="594.0" rx="10.2" ry="8.0" fill="#10f070"/><ellipse cx="757.9" cy="594.0" rx="6.7" ry="5.2" fill="#e8ff00"/><ellipse cx="757.9" cy="594.0" rx="4.1" ry="3.2" fill="#ff1800"/></g>
<g transform="rotate(0 820.5 582.7)"><ellipse cx="820.5" cy="582.7" rx="17.5" ry="20.0" fill="#7a28ff"/><ellipse cx="820.5" cy="582.7" rx="15.6" ry="17.8" fill="#1030ff"/><ellipse cx="820.5" cy="582.7" rx="13.7" ry="15.6" fill="#00c8ff"/><ellipse cx="820.5" cy="582.7" rx="11.7" ry="13.4" fill="#10f070"/><ellipse cx="820.5" cy="582.7" rx="10.1" ry="11.6" fill="#e8ff00"/><ellipse cx="820.5" cy="582.7" rx="8.8" ry="10.0" fill="#ff1800"/></g>
<g transform="rotate(0 74.0 792.2)"><ellipse cx="74.0" cy="792.2" rx="6.5" ry="7.5" fill="#7a28ff"/><ellipse cx="74.0" cy="792.2" rx="5.6" ry="6.5" fill="#1030ff"/><ellipse cx="74.0" cy="792.2" rx="3.6" ry="4.1" fill="#00c8ff"/></g>
<g transform="rotate(0 133.5 798.9)"><ellipse cx="133.5" cy="798.9" rx="8.5" ry="8.5" fill="#7a28ff"/><ellipse cx="133.5" cy="798.9" rx="7.4" ry="7.4" fill="#1030ff"/><ellipse cx="133.5" cy="798.9" rx="5.8" ry="5.8" fill="#00c8ff"/><ellipse cx="133.5" cy="798.9" rx="3.6" ry="3.6" fill="#10f070"/></g>
<g transform="rotate(0 191.5 789.2)"><ellipse cx="191.5" cy="789.2" rx="8.5" ry="8.5" fill="#7a28ff"/><ellipse cx="191.5" cy="789.2" rx="7.5" ry="7.5" fill="#1030ff"/><ellipse cx="191.5" cy="789.2" rx="6.1" ry="6.1" fill="#00c8ff"/><ellipse cx="191.5" cy="789.2" rx="4.7" ry="4.7" fill="#10f070"/><ellipse cx="191.5" cy="789.2" rx="3.1" ry="3.1" fill="#e8ff00"/><ellipse cx="191.5" cy="789.2" rx="1.9" ry="1.9" fill="#ff1800"/></g>
<g transform="rotate(0 268.5 795.9)"><ellipse cx="268.5" cy="795.9" rx="11.0" ry="12.0" fill="#7a28ff"/><ellipse cx="268.5" cy="795.9" rx="9.7" ry="10.6" fill="#1030ff"/><ellipse cx="268.5" cy="795.9" rx="7.9" ry="8.6" fill="#00c8ff"/><ellipse cx="268.5" cy="795.9" rx="6.1" ry="6.6" fill="#10f070"/><ellipse cx="268.5" cy="795.9" rx="4.0" ry="4.3" fill="#e8ff00"/><ellipse cx="268.5" cy="795.9" rx="2.4" ry="2.6" fill="#ff1800"/></g>
<g transform="rotate(0 332.0 791.4)"><ellipse cx="332.0" cy="791.4" rx="10.5" ry="8.5" fill="#7a28ff"/><ellipse cx="332.0" cy="791.4" rx="9.0" ry="7.3" fill="#1030ff"/><ellipse cx="332.0" cy="791.4" rx="5.8" ry="4.7" fill="#00c8ff"/></g>
<g transform="rotate(0 405.8 790.3)"><ellipse cx="405.8" cy="790.3" rx="10.5" ry="9.5" fill="#7a28ff"/><ellipse cx="405.8" cy="790.3" rx="9.0" ry="8.2" fill="#1030ff"/><ellipse cx="405.8" cy="790.3" rx="5.8" ry="5.2" fill="#00c8ff"/></g>
<g transform="rotate(0 484.9 794.0)"><ellipse cx="484.9" cy="794.0" rx="15.0" ry="15.0" fill="#7a28ff"/><ellipse cx="484.9" cy="794.0" rx="13.1" ry="13.1" fill="#1030ff"/><ellipse cx="484.9" cy="794.0" rx="10.2" ry="10.2" fill="#00c8ff"/><ellipse cx="484.9" cy="794.0" rx="6.3" ry="6.3" fill="#10f070"/></g>
<g transform="rotate(0 540.2 791.4)"><ellipse cx="540.2" cy="791.4" rx="16.0" ry="17.0" fill="#7a28ff"/><ellipse cx="540.2" cy="791.4" rx="14.2" ry="15.1" fill="#1030ff"/><ellipse cx="540.2" cy="791.4" rx="12.5" ry="13.3" fill="#00c8ff"/><ellipse cx="540.2" cy="791.4" rx="10.7" ry="11.4" fill="#10f070"/><ellipse cx="540.2" cy="791.4" rx="9.3" ry="9.9" fill="#e8ff00"/><ellipse cx="540.2" cy="791.4" rx="8.0" ry="8.5" fill="#ff1800"/></g>
<g transform="rotate(0 598.9 790.3)"><ellipse cx="598.9" cy="790.3" rx="13.0" ry="15.0" fill="#7a28ff"/><ellipse cx="598.9" cy="790.3" rx="11.4" ry="13.2" fill="#1030ff"/><ellipse cx="598.9" cy="790.3" rx="9.4" ry="10.8" fill="#00c8ff"/><ellipse cx="598.9" cy="790.3" rx="7.2" ry="8.2" fill="#10f070"/><ellipse cx="598.9" cy="790.3" rx="4.7" ry="5.4" fill="#e8ff00"/><ellipse cx="598.9" cy="790.3" rx="2.9" ry="3.3" fill="#ff1800"/></g>
<g transform="rotate(0 699.8 797.8)"><ellipse cx="699.8" cy="797.8" rx="14.0" ry="10.5" fill="#7a28ff"/><ellipse cx="699.8" cy="797.8" rx="11.8" ry="8.8" fill="#1030ff"/></g>
<g transform="rotate(0 760.4 801.5)"><ellipse cx="760.4" cy="801.5" rx="21.5" ry="19.5" fill="#7a28ff"/><ellipse cx="760.4" cy="801.5" rx="19.1" ry="17.4" fill="#1030ff"/><ellipse cx="760.4" cy="801.5" rx="16.8" ry="15.2" fill="#00c8ff"/><ellipse cx="760.4" cy="801.5" rx="14.4" ry="13.1" fill="#10f070"/><ellipse cx="760.4" cy="801.5" rx="12.5" ry="11.3" fill="#e8ff00"/><ellipse cx="760.4" cy="801.5" rx="10.8" ry="9.8" fill="#ff1800"/></g>
<g transform="rotate(0 820.2 800.4)"><ellipse cx="820.2" cy="800.4" rx="14.0" ry="15.0" fill="#7a28ff"/><ellipse cx="820.2" cy="800.4" rx="12.2" ry="13.1" fill="#1030ff"/><ellipse cx="820.2" cy="800.4" rx="9.5" ry="10.2" fill="#00c8ff"/><ellipse cx="820.2" cy="800.4" rx="5.9" ry="6.3" fill="#10f070"/></g>
<g transform="rotate(0 72.9 999.7)"><ellipse cx="72.9" cy="999.7" rx="8.5" ry="7.5" fill="#7a28ff"/><ellipse cx="72.9" cy="999.7" rx="7.4" ry="6.5" fill="#1030ff"/><ellipse cx="72.9" cy="999.7" rx="5.8" ry="5.1" fill="#00c8ff"/><ellipse cx="72.9" cy="999.7" rx="3.6" ry="3.1" fill="#10f070"/></g>
<g transform="rotate(0 135.4 997.9)"><ellipse cx="135.4" cy="997.9" rx="9.5" ry="8.5" fill="#7a28ff"/><ellipse cx="135.4" cy="997.9" rx="8.4" ry="7.5" fill="#1030ff"/><ellipse cx="135.4" cy="997.9" rx="6.8" ry="6.1" fill="#00c8ff"/><ellipse cx="135.4" cy="997.9" rx="5.2" ry="4.7" fill="#10f070"/><ellipse cx="135.4" cy="997.9" rx="3.4" ry="3.1" fill="#e8ff00"/><ellipse cx="135.4" cy="997.9" rx="2.1" ry="1.9" fill="#ff1800"/></g>
<g transform="rotate(0 191.5 999.0)"><ellipse cx="191.5" cy="999.0" rx="8.5" ry="7.5" fill="#7a28ff"/><ellipse cx="191.5" cy="999.0" rx="7.4" ry="6.5" fill="#1030ff"/><ellipse cx="191.5" cy="999.0" rx="5.8" ry="5.1" fill="#00c8ff"/><ellipse cx="191.5" cy="999.0" rx="3.6" ry="3.1" fill="#10f070"/></g>
<g transform="rotate(0 274.9 1005.4)"><ellipse cx="274.9" cy="1005.4" rx="9.5" ry="10.5" fill="#7a28ff"/><ellipse cx="274.9" cy="1005.4" rx="8.2" ry="9.0" fill="#1030ff"/><ellipse cx="274.9" cy="1005.4" rx="5.2" ry="5.8" fill="#00c8ff"/></g>
<g transform="rotate(0 327.2 1005.4)"><ellipse cx="327.2" cy="1005.4" rx="6.5" ry="5.5" fill="#7a28ff"/><ellipse cx="327.2" cy="1005.4" rx="5.5" ry="4.6" fill="#1030ff"/></g>
<g transform="rotate(0 391.9 994.1)"><ellipse cx="391.9" cy="994.1" rx="10.5" ry="8.5" fill="#7a28ff"/><ellipse cx="391.9" cy="994.1" rx="9.1" ry="7.4" fill="#1030ff"/><ellipse cx="391.9" cy="994.1" rx="7.1" ry="5.8" fill="#00c8ff"/><ellipse cx="391.9" cy="994.1" rx="4.4" ry="3.6" fill="#10f070"/></g>
<g transform="rotate(0 485.6 1003.4)"><ellipse cx="485.6" cy="1003.4" rx="12.0" ry="9.5" fill="#7a28ff"/><ellipse cx="485.6" cy="1003.4" rx="10.3" ry="8.2" fill="#1030ff"/><ellipse cx="485.6" cy="1003.4" rx="6.6" ry="5.2" fill="#00c8ff"/></g>
<g transform="rotate(0 536.4 1004.1)"><ellipse cx="536.4" cy="1004.1" rx="3.5" ry="3.0" fill="#7a28ff"/><ellipse cx="536.4" cy="1004.1" rx="2.9" ry="2.5" fill="#1030ff"/></g>
<g transform="rotate(0 589.5 992.9)"><ellipse cx="589.5" cy="992.9" rx="4.5" ry="4.5" fill="#7a28ff"/><ellipse cx="589.5" cy="992.9" rx="3.8" ry="3.8" fill="#1030ff"/></g>
<g transform="rotate(0 707.3 991.0)"><ellipse cx="707.3" cy="991.0" rx="7.5" ry="7.5" fill="#7a28ff"/><ellipse cx="707.3" cy="991.0" rx="6.5" ry="6.5" fill="#1030ff"/><ellipse cx="707.3" cy="991.0" rx="4.1" ry="4.1" fill="#00c8ff"/></g>
<g transform="rotate(0 770.8 1005.2)"><ellipse cx="770.8" cy="1005.2" rx="3.0" ry="2.5" fill="#7a28ff"/><ellipse cx="770.8" cy="1005.2" rx="2.5" ry="2.1" fill="#1030ff"/></g>
<g transform="rotate(0 815.7 1001.5)"><ellipse cx="815.7" cy="1001.5" rx="8.5" ry="8.5" fill="#7a28ff"/><ellipse cx="815.7" cy="1001.5" rx="7.3" ry="7.3" fill="#1030ff"/><ellipse cx="815.7" cy="1001.5" rx="4.7" ry="4.7" fill="#00c8ff"/></g>
<text x="157.0" y="481.5" font-size="20.5" text-anchor="middle">Day 7</text>
<text x="355.1" y="481.5" font-size="20.5" text-anchor="middle">Day 14</text>
<text x="551.6" y="481.5" font-size="20.5" text-anchor="middle">Day 21</text>
<text x="762.0" y="481.5" font-size="20.5" text-anchor="middle">Day 28</text>
<text x="5.0" y="597.8" font-size="20.5">PBS</text>
<text x="0.0" y="786.6" font-size="20.5">CON</text>
<text x="13.1" y="985.9" font-size="20.5">147</text>
<rect x="872.8" y="497.6" width="15.1" height="499.4" fill="url(#cbE)" stroke="#555" stroke-width="0.5"/>
<line x1="887.9" y1="497.6" x2="896.2" y2="497.6" stroke="#222" stroke-width="1.3"/>
<line x1="887.9" y1="518.6" x2="893.0" y2="518.6" stroke="#222" stroke-width="1.3"/>
<line x1="887.9" y1="539.6" x2="893.0" y2="539.6" stroke="#222" stroke-width="1.3"/>
<line x1="887.9" y1="560.7" x2="893.0" y2="560.7" stroke="#222" stroke-width="1.3"/>
<line x1="887.9" y1="581.7" x2="893.0" y2="581.7" stroke="#222" stroke-width="1.3"/>
<line x1="887.9" y1="602.7" x2="896.2" y2="602.7" stroke="#222" stroke-width="1.3"/>
<line x1="887.9" y1="623.7" x2="893.0" y2="623.7" stroke="#222" stroke-width="1.3"/>
<line x1="887.9" y1="644.7" x2="893.0" y2="644.7" stroke="#222" stroke-width="1.3"/>
<line x1="887.9" y1="665.8" x2="893.0" y2="665.8" stroke="#222" stroke-width="1.3"/>
<line x1="887.9" y1="686.8" x2="893.0" y2="686.8" stroke="#222" stroke-width="1.3"/>
<line x1="887.9" y1="707.8" x2="896.2" y2="707.8" stroke="#222" stroke-width="1.3"/>
<line x1="887.9" y1="728.8" x2="893.0" y2="728.8" stroke="#222" stroke-width="1.3"/>
<line x1="887.9" y1="749.8" x2="893.0" y2="749.8" stroke="#222" stroke-width="1.3"/>
<line x1="887.9" y1="770.9" x2="893.0" y2="770.9" stroke="#222" stroke-width="1.3"/>
<line x1="887.9" y1="791.9" x2="893.0" y2="791.9" stroke="#222" stroke-width="1.3"/>
<line x1="887.9" y1="812.9" x2="896.2" y2="812.9" stroke="#222" stroke-width="1.3"/>
<line x1="887.9" y1="833.9" x2="893.0" y2="833.9" stroke="#222" stroke-width="1.3"/>
<line x1="887.9" y1="854.9" x2="893.0" y2="854.9" stroke="#222" stroke-width="1.3"/>
<line x1="887.9" y1="876.0" x2="893.0" y2="876.0" stroke="#222" stroke-width="1.3"/>
<line x1="887.9" y1="897.0" x2="893.0" y2="897.0" stroke="#222" stroke-width="1.3"/>
<line x1="887.9" y1="918.0" x2="896.2" y2="918.0" stroke="#222" stroke-width="1.3"/>
<line x1="887.9" y1="939.0" x2="893.0" y2="939.0" stroke="#222" stroke-width="1.3"/>
<line x1="887.9" y1="960.0" x2="893.0" y2="960.0" stroke="#222" stroke-width="1.3"/>
<line x1="887.9" y1="981.1" x2="893.0" y2="981.1" stroke="#222" stroke-width="1.3"/>
<text x="904.3" y="503.2" font-size="15.4">1.0</text>
<text x="904.3" y="608.4" font-size="15.4">0.8</text>
<text x="904.3" y="713.5" font-size="15.4">0.6</text>
<text x="904.3" y="818.6" font-size="15.4">0.4</text>
<text x="904.3" y="923.7" font-size="15.4">0.2</text>
<text x="918.5" y="749.2" font-size="15.4">&#215;10<tspan dy="-7" font-size="11">8</tspan></text>
<text x="875.5" y="1013.8" font-size="12.4">Radiance</text>
<text x="875.5" y="1023.6" font-size="12.4">(p/s/cm<tspan dy="-4" font-size="8">2</tspan><tspan dy="4">/sr)</tspan></text>
<rect x="872.5" y="1034.4" width="75.2" height="46.3" fill="none" stroke="#222" stroke-width="1.1"/>
<text x="876.5" y="1048.2" font-size="10.6">Color scale</text>
<text x="876.5" y="1060.6" font-size="10.6">Min = 5.00e6</text>
<text x="876.5" y="1072.8" font-size="10.6">Max = 1.00e8</text>
</g>
</svg>
</body></html>
